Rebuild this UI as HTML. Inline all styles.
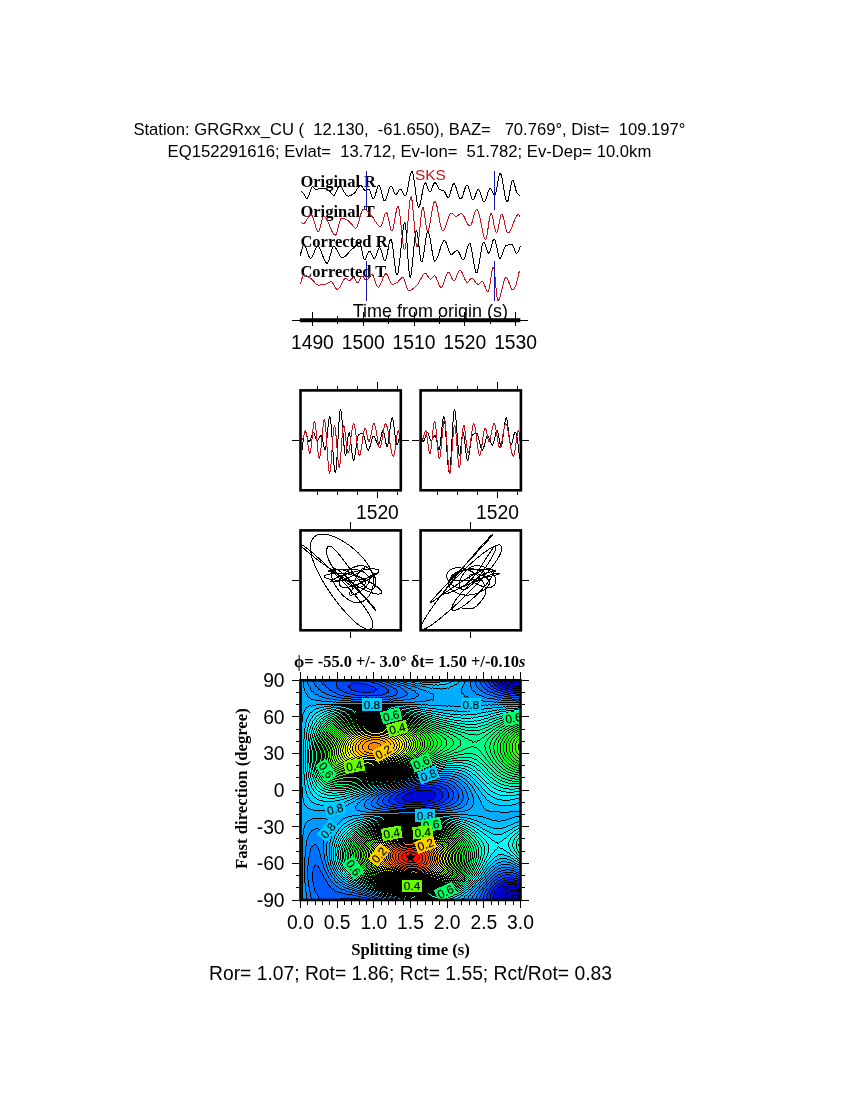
<!DOCTYPE html>
<html lang="en"><head><meta charset="utf-8"><title>Shear-wave splitting measurement GRGRxx_CU EQ152291616</title>
<style>html,body{margin:0;padding:0;background:#fff}svg{display:block}text{white-space:pre}</style></head>
<body><svg width="850" height="1100" viewBox="0 0 850 1100">
<rect width="850" height="1100" fill="#fff"/>
<text x="133.4" y="134.7" font-family='"Liberation Sans", Arial, Helvetica, sans-serif' font-size="16.6" font-weight="normal" text-anchor="start" fill="#000" xml:space="preserve" textLength="552" lengthAdjust="spacingAndGlyphs">Station: GRGRxx_CU (  12.130,  -61.650), BAZ=   70.769°, Dist=  109.197°</text>
<text x="167.6" y="157.0" font-family='"Liberation Sans", Arial, Helvetica, sans-serif' font-size="16.6" font-weight="normal" text-anchor="start" fill="#000" xml:space="preserve" textLength="483.7" lengthAdjust="spacingAndGlyphs">EQ152291616; Evlat=  13.712, Ev-lon=  51.782; Ev-Dep= 10.0km</text>
<text x="300.4" y="186.5" font-family='"Liberation Serif", "Times New Roman", Times, serif' font-size="16.5" font-weight="bold" text-anchor="start" fill="#000" xml:space="preserve" >Original R</text>
<text x="300.4" y="216.5" font-family='"Liberation Serif", "Times New Roman", Times, serif' font-size="16.5" font-weight="bold" text-anchor="start" fill="#000" xml:space="preserve" >Original T</text>
<text x="300.4" y="246.5" font-family='"Liberation Serif", "Times New Roman", Times, serif' font-size="16.5" font-weight="bold" text-anchor="start" fill="#000" xml:space="preserve" >Corrected R</text>
<text x="300.4" y="276.5" font-family='"Liberation Serif", "Times New Roman", Times, serif' font-size="16.5" font-weight="bold" text-anchor="start" fill="#000" xml:space="preserve" >Corrected T</text>
<text x="415" y="179.6" font-family='"Liberation Sans", Arial, Helvetica, sans-serif' font-size="15.4" font-weight="normal" text-anchor="start" fill="#c8141e" xml:space="preserve" >SKS</text>
<path d="M300.6 191.3 L301.1 191.5 L301.6 191.7 L302.1 192.1 L302.6 192.5 L303.1 192.9 L303.6 193.4 L304.1 194.3 L304.6 195.3 L305.1 196.5 L305.6 197.6 L306.1 198.4 L306.6 198.8 L307.1 198.6 L307.6 198.0 L308.1 197.1 L308.6 195.9 L309.1 194.5 L309.6 193.0 L310.1 191.4 L310.6 190.0 L311.1 188.7 L311.6 187.7 L312.1 187.0 L312.6 186.8 L313.1 187.0 L313.6 187.4 L314.1 187.9 L314.6 188.5 L315.1 189.0 L315.6 189.4 L316.1 189.6 L316.6 189.5 L317.1 189.4 L317.6 189.2 L318.1 189.0 L318.6 188.7 L319.1 188.5 L319.6 188.3 L320.1 188.2 L320.6 188.2 L321.1 188.2 L321.6 188.3 L322.1 188.3 L322.6 188.4 L323.1 188.5 L323.6 188.5 L324.1 188.6 L324.6 188.7 L325.1 188.9 L325.6 189.0 L326.1 189.1 L326.6 189.3 L327.1 189.5 L327.6 189.7 L328.1 190.0 L328.6 190.3 L329.1 190.6 L329.6 191.1 L330.1 191.6 L330.6 192.3 L331.1 192.9 L331.6 193.6 L332.1 194.2 L332.6 194.7 L333.1 195.1 L333.6 195.3 L334.1 195.2 L334.6 194.8 L335.1 194.0 L335.6 193.1 L336.1 191.9 L336.6 190.7 L337.1 189.5 L337.6 188.3 L338.1 187.4 L338.6 186.6 L339.1 186.2 L339.6 186.1 L340.1 186.3 L340.6 186.6 L341.1 187.1 L341.6 187.7 L342.1 188.5 L342.6 189.3 L343.1 190.1 L343.6 191.0 L344.1 191.8 L344.6 192.7 L345.1 193.5 L345.6 194.2 L346.1 194.9 L346.6 195.4 L347.1 195.8 L347.6 196.0 L348.1 196.0 L348.6 196.0 L349.1 195.9 L349.6 195.7 L350.1 195.6 L350.6 195.4 L351.1 195.2 L351.6 194.9 L352.1 194.7 L352.6 194.4 L353.1 194.1 L353.6 193.8 L354.1 193.4 L354.6 192.9 L355.1 192.3 L355.6 191.5 L356.1 190.7 L356.6 189.9 L357.1 189.1 L357.6 188.3 L358.1 187.5 L358.6 186.8 L359.1 186.2 L359.6 185.8 L360.1 185.5 L360.6 185.4 L361.1 185.5 L361.6 186.0 L362.1 186.5 L362.6 187.3 L363.1 188.0 L363.6 188.8 L364.1 189.5 L364.6 190.0 L365.1 190.4 L365.6 190.5 L366.1 190.4 L366.6 190.3 L367.1 190.1 L367.6 189.9 L368.1 189.7 L368.6 189.5 L369.1 189.5 L369.6 190.0 L370.1 191.0 L370.6 192.4 L371.1 194.0 L371.6 195.6 L372.1 197.0 L372.6 198.1 L373.1 198.7 L373.6 198.7 L374.1 198.1 L374.6 197.0 L375.1 195.5 L375.6 193.9 L376.1 192.1 L376.6 190.3 L377.1 188.7 L377.6 187.2 L378.1 186.1 L378.6 185.5 L379.1 185.5 L379.6 186.0 L380.1 187.2 L380.6 188.7 L381.1 190.5 L381.6 192.5 L382.1 194.6 L382.6 196.5 L383.1 198.2 L383.6 199.6 L384.1 200.6 L384.6 200.9 L385.1 200.6 L385.6 199.9 L386.1 198.8 L386.6 197.4 L387.1 195.8 L387.6 194.0 L388.1 192.3 L388.6 190.6 L389.1 189.0 L389.6 187.7 L390.1 186.8 L390.6 186.2 L391.1 186.1 L391.6 186.6 L392.1 187.3 L392.6 188.4 L393.1 189.6 L393.6 190.9 L394.1 192.1 L394.6 193.2 L395.1 194.0 L395.6 194.5 L396.1 194.6 L396.6 194.2 L397.1 193.5 L397.6 192.6 L398.1 191.5 L398.6 190.6 L399.1 189.7 L399.6 189.1 L400.1 188.9 L400.6 189.1 L401.1 189.6 L401.6 190.4 L402.1 191.3 L402.6 192.3 L403.1 193.4 L403.6 194.3 L404.1 195.2 L404.6 195.7 L405.1 196.0 L405.6 195.7 L406.1 194.8 L406.6 193.2 L407.1 191.2 L407.6 188.8 L408.1 186.2 L408.6 183.5 L409.1 180.8 L409.6 178.2 L410.1 175.9 L410.6 173.9 L411.1 172.5 L411.6 171.6 L412.1 171.6 L412.6 172.6 L413.1 174.4 L413.6 177.1 L414.1 180.3 L414.6 183.9 L415.1 187.7 L415.6 191.6 L416.1 195.5 L416.6 199.0 L417.1 202.1 L417.6 204.6 L418.1 206.3 L418.6 207.1 L419.1 206.8 L419.6 205.8 L420.1 204.2 L420.6 202.0 L421.1 199.5 L421.6 196.8 L422.1 194.0 L422.6 191.2 L423.1 188.6 L423.6 186.3 L424.1 184.5 L424.6 183.2 L425.1 182.6 L425.6 182.8 L426.1 183.5 L426.6 184.7 L427.1 186.1 L427.6 187.7 L428.1 189.2 L428.6 190.5 L429.1 191.5 L429.6 192.0 L430.1 192.0 L430.6 191.5 L431.1 190.6 L431.6 189.4 L432.1 188.0 L432.6 186.7 L433.1 185.3 L433.6 184.1 L434.1 183.2 L434.6 182.7 L435.1 182.6 L435.6 183.0 L436.1 183.6 L436.6 184.5 L437.1 185.5 L437.6 186.5 L438.1 187.5 L438.6 188.5 L439.1 189.2 L439.6 189.7 L440.1 189.9 L440.6 190.0 L441.1 190.1 L441.6 190.2 L442.1 190.3 L442.6 190.3 L443.1 190.4 L443.6 190.6 L444.1 191.0 L444.6 191.7 L445.1 192.6 L445.6 193.6 L446.1 194.7 L446.6 195.7 L447.1 196.6 L447.6 197.2 L448.1 197.5 L448.6 197.3 L449.1 196.5 L449.6 195.3 L450.1 193.8 L450.6 192.1 L451.1 190.2 L451.6 188.4 L452.1 186.7 L452.6 185.3 L453.1 184.3 L453.6 183.8 L454.1 183.8 L454.6 184.3 L455.1 185.1 L455.6 186.3 L456.1 187.7 L456.6 189.2 L457.1 190.9 L457.6 192.5 L458.1 194.1 L458.6 195.6 L459.1 196.9 L459.6 198.0 L460.1 198.7 L460.6 199.0 L461.1 198.8 L461.6 198.2 L462.1 197.3 L462.6 196.0 L463.1 194.5 L463.6 192.9 L464.1 191.3 L464.6 189.7 L465.1 188.2 L465.6 186.9 L466.1 186.0 L466.6 185.4 L467.1 185.2 L467.6 185.6 L468.1 186.5 L468.6 187.7 L469.1 189.2 L469.6 190.9 L470.1 192.7 L470.6 194.5 L471.1 196.1 L471.6 197.6 L472.1 198.8 L472.6 199.5 L473.1 199.8 L473.6 199.5 L474.1 198.8 L474.6 197.6 L475.1 196.3 L475.6 194.8 L476.1 193.2 L476.6 191.8 L477.1 190.5 L477.6 189.6 L478.1 189.1 L478.6 189.2 L479.1 189.8 L479.6 190.8 L480.1 192.1 L480.6 193.6 L481.1 195.3 L481.6 196.9 L482.1 198.5 L482.6 199.9 L483.1 201.1 L483.6 201.8 L484.1 202.1 L484.6 201.8 L485.1 201.1 L485.6 200.0 L486.1 198.6 L486.6 197.0 L487.1 195.4 L487.6 193.7 L488.1 192.1 L488.6 190.7 L489.1 189.5 L489.6 188.7 L490.1 188.3 L490.6 188.4 L491.1 189.0 L491.6 189.8 L492.1 190.9 L492.6 192.0 L493.1 193.1 L493.6 194.0 L494.1 194.8 L494.6 195.2 L495.1 195.0 L495.6 193.9 L496.1 192.0 L496.6 189.6 L497.1 186.7 L497.6 183.7 L498.1 180.8 L498.6 178.1 L499.1 175.8 L499.6 174.2 L500.1 173.5 L500.6 173.8 L501.1 174.8 L501.6 176.6 L502.1 178.8 L502.6 181.5 L503.1 184.4 L503.6 187.5 L504.1 190.6 L504.6 193.6 L505.1 196.3 L505.6 198.6 L506.1 200.5 L506.6 201.7 L507.1 202.1 L507.6 201.6 L508.1 200.3 L508.6 198.2 L509.1 195.7 L509.6 192.9 L510.1 190.0 L510.6 187.1 L511.1 184.5 L511.6 182.4 L512.1 180.9 L512.6 180.2 L513.1 180.5 L513.6 181.4 L514.1 183.0 L514.6 184.8 L515.1 186.9 L515.6 188.9 L516.1 190.8 L516.6 192.2 L517.1 193.1 L517.6 193.8 L518.1 194.4 L518.6 194.9 L519.1 195.3 L519.6 195.5" fill="none" stroke="#000" stroke-width="1.0" stroke-linejoin="round" shape-rendering="crispEdges" />
<path d="M300.6 222.5 L301.1 222.8 L301.6 222.9 L302.1 223.1 L302.6 223.1 L303.1 223.2 L303.6 223.2 L304.1 223.2 L304.6 223.0 L305.1 222.5 L305.6 221.7 L306.1 220.8 L306.6 219.9 L307.1 219.0 L307.6 218.4 L308.1 217.7 L308.6 217.1 L309.1 216.4 L309.6 215.8 L310.1 215.3 L310.6 215.0 L311.1 214.8 L311.6 215.0 L312.1 215.6 L312.6 216.6 L313.1 217.9 L313.6 219.4 L314.1 221.1 L314.6 222.9 L315.1 224.7 L315.6 226.4 L316.1 228.0 L316.6 229.5 L317.1 230.6 L317.6 231.3 L318.1 231.7 L318.6 231.5 L319.1 230.7 L319.6 229.4 L320.1 227.7 L320.6 225.8 L321.1 223.7 L321.6 221.7 L322.1 219.9 L322.6 218.3 L323.1 217.0 L323.6 216.3 L324.1 216.2 L324.6 216.4 L325.1 216.8 L325.6 217.4 L326.1 218.1 L326.6 218.9 L327.1 219.9 L327.6 221.0 L328.1 222.1 L328.6 223.3 L329.1 224.6 L329.6 225.8 L330.1 227.1 L330.6 228.3 L331.1 229.5 L331.6 230.6 L332.1 231.7 L332.6 232.6 L333.1 233.5 L333.6 234.2 L334.1 234.7 L334.6 235.0 L335.1 235.2 L335.6 235.0 L336.1 234.3 L336.6 233.1 L337.1 231.5 L337.6 229.7 L338.1 227.8 L338.6 225.7 L339.1 223.8 L339.6 222.0 L340.1 220.4 L340.6 219.2 L341.1 218.5 L341.6 218.3 L342.1 218.3 L342.6 218.4 L343.1 218.5 L343.6 218.6 L344.1 218.8 L344.6 218.9 L345.1 219.1 L345.6 219.3 L346.1 219.5 L346.6 219.7 L347.1 220.0 L347.6 220.4 L348.1 220.8 L348.6 221.2 L349.1 221.7 L349.6 222.2 L350.1 222.6 L350.6 223.1 L351.1 223.6 L351.6 224.2 L352.1 224.8 L352.6 225.5 L353.1 226.1 L353.6 226.8 L354.1 227.3 L354.6 227.8 L355.1 228.1 L355.6 228.2 L356.1 228.1 L356.6 227.5 L357.1 226.5 L357.6 225.3 L358.1 223.8 L358.6 222.1 L359.1 220.3 L359.6 218.5 L360.1 216.6 L360.6 214.8 L361.1 213.2 L361.6 211.7 L362.1 210.5 L362.6 209.7 L363.1 209.2 L363.6 209.1 L364.1 209.2 L364.6 209.3 L365.1 209.6 L365.6 209.9 L366.1 210.2 L366.6 210.6 L367.1 211.1 L367.6 211.5 L368.1 212.0 L368.6 212.6 L369.1 213.1 L369.6 213.7 L370.1 214.3 L370.6 214.8 L371.1 215.4 L371.6 215.9 L372.1 216.4 L372.6 217.0 L373.1 217.7 L373.6 218.4 L374.1 219.2 L374.6 220.0 L375.1 220.8 L375.6 221.7 L376.1 222.5 L376.6 223.3 L377.1 224.0 L377.6 224.7 L378.1 225.3 L378.6 225.9 L379.1 226.3 L379.6 226.6 L380.1 226.8 L380.6 226.8 L381.1 226.2 L381.6 225.3 L382.1 223.9 L382.6 222.3 L383.1 220.6 L383.6 218.8 L384.1 217.1 L384.6 215.5 L385.1 214.1 L385.6 213.2 L386.1 212.6 L386.6 212.8 L387.1 213.6 L387.6 215.1 L388.1 217.1 L388.6 219.4 L389.1 221.8 L389.6 224.2 L390.1 226.5 L390.6 228.5 L391.1 230.0 L391.6 230.8 L392.1 230.9 L392.6 230.1 L393.1 228.5 L393.6 226.3 L394.1 223.7 L394.6 220.8 L395.1 217.7 L395.6 214.8 L396.1 212.0 L396.6 209.6 L397.1 207.8 L397.6 206.6 L398.1 206.3 L398.6 207.3 L399.1 209.5 L399.6 212.8 L400.1 216.8 L400.6 221.3 L401.1 226.2 L401.6 231.1 L402.1 235.9 L402.6 240.4 L403.1 244.3 L403.6 247.3 L404.1 249.3 L404.6 250.0 L405.1 249.1 L405.6 246.5 L406.1 242.6 L406.6 237.6 L407.1 232.0 L407.6 225.8 L408.1 219.6 L408.6 213.6 L409.1 208.0 L409.6 203.2 L410.1 199.6 L410.6 197.3 L411.1 196.7 L411.6 198.1 L412.1 201.0 L412.6 205.3 L413.1 210.5 L413.6 216.4 L414.1 222.5 L414.6 228.6 L415.1 234.4 L415.6 239.5 L416.1 243.5 L416.6 246.1 L417.1 247.1 L417.6 246.3 L418.1 244.0 L418.6 240.5 L419.1 236.2 L419.6 231.3 L420.1 226.2 L420.6 221.2 L421.1 216.5 L421.6 212.5 L422.1 209.5 L422.6 207.7 L423.1 207.5 L423.6 208.9 L424.1 211.4 L424.6 214.7 L425.1 218.5 L425.6 222.3 L426.1 225.9 L426.6 228.7 L427.1 230.6 L427.6 231.1 L428.1 230.5 L428.6 229.3 L429.1 227.5 L429.6 225.3 L430.1 222.6 L430.6 219.8 L431.1 216.8 L431.6 213.8 L432.1 210.9 L432.6 208.1 L433.1 205.7 L433.6 203.7 L434.1 202.3 L434.6 201.4 L435.1 201.4 L435.6 202.0 L436.1 203.2 L436.6 204.8 L437.1 206.9 L437.6 209.4 L438.1 212.0 L438.6 214.8 L439.1 217.6 L439.6 220.4 L440.1 223.0 L440.6 225.5 L441.1 227.6 L441.6 229.2 L442.1 230.4 L442.6 231.0 L443.1 231.0 L443.6 230.6 L444.1 229.9 L444.6 229.0 L445.1 227.8 L445.6 226.5 L446.1 225.0 L446.6 223.4 L447.1 221.8 L447.6 220.2 L448.1 218.7 L448.6 217.3 L449.1 216.0 L449.6 214.9 L450.1 214.0 L450.6 213.5 L451.1 213.2 L451.6 213.3 L452.1 213.5 L452.6 213.9 L453.1 214.3 L453.6 214.9 L454.1 215.3 L454.6 215.8 L455.1 216.1 L455.6 216.3 L456.1 216.3 L456.6 216.1 L457.1 215.9 L457.6 215.6 L458.1 215.2 L458.6 214.8 L459.1 214.4 L459.6 214.1 L460.1 213.8 L460.6 213.6 L461.1 213.5 L461.6 213.6 L462.1 213.9 L462.6 214.4 L463.1 215.0 L463.6 215.8 L464.1 216.7 L464.6 217.7 L465.1 218.7 L465.6 219.8 L466.1 220.9 L466.6 221.9 L467.1 222.9 L467.6 223.8 L468.1 224.6 L468.6 225.2 L469.1 225.7 L469.6 226.0 L470.1 226.1 L470.6 225.7 L471.1 224.9 L471.6 223.7 L472.1 222.3 L472.6 220.6 L473.1 218.8 L473.6 216.9 L474.1 215.1 L474.6 213.4 L475.1 211.8 L475.6 210.6 L476.1 209.7 L476.6 209.2 L477.1 209.3 L477.6 209.9 L478.1 211.0 L478.6 212.5 L479.1 214.3 L479.6 216.5 L480.1 218.8 L480.6 221.3 L481.1 223.8 L481.6 226.4 L482.1 228.9 L482.6 231.3 L483.1 233.6 L483.6 235.5 L484.1 237.2 L484.6 238.4 L485.1 239.2 L485.6 239.5 L486.1 238.9 L486.6 237.2 L487.1 234.6 L487.6 231.4 L488.1 227.9 L488.6 224.3 L489.1 220.9 L489.6 217.8 L490.1 215.4 L490.6 213.9 L491.1 213.5 L491.6 214.2 L492.1 215.6 L492.6 217.5 L493.1 219.9 L493.6 222.5 L494.1 225.2 L494.6 227.6 L495.1 229.8 L495.6 231.5 L496.1 232.4 L496.6 232.5 L497.1 231.7 L497.6 230.2 L498.1 228.2 L498.6 225.8 L499.1 223.2 L499.6 220.6 L500.1 218.3 L500.6 216.3 L501.1 215.0 L501.6 214.3 L502.1 214.5 L502.6 215.4 L503.1 216.8 L503.6 218.6 L504.1 220.7 L504.6 223.0 L505.1 225.3 L505.6 227.5 L506.1 229.5 L506.6 231.2 L507.1 232.4 L507.6 233.0 L508.1 233.1 L508.6 232.8 L509.1 232.3 L509.6 231.7 L510.1 230.9 L510.6 229.9 L511.1 228.8 L511.6 227.7 L512.1 226.4 L512.6 225.1 L513.1 223.8 L513.6 222.5 L514.1 221.2 L514.6 220.0 L515.1 218.8 L515.6 217.7 L516.1 216.7 L516.6 215.9 L517.1 215.2 L517.6 214.7 L518.1 214.4 L518.6 214.3 L519.1 215.6 L519.6 217.4" fill="none" stroke="#c8141e" stroke-width="1.0" stroke-linejoin="round" shape-rendering="crispEdges" />
<path d="M300.2 256.2 L300.7 253.9 L301.2 251.7 L301.7 249.8 L302.2 248.1 L302.7 246.7 L303.2 245.7 L303.7 245.1 L304.2 244.9 L304.7 245.2 L305.2 246.0 L305.7 247.0 L306.2 248.3 L306.7 249.7 L307.2 251.3 L307.7 252.8 L308.2 254.4 L308.7 255.7 L309.2 256.9 L309.7 257.7 L310.2 258.2 L310.7 258.3 L311.2 258.0 L311.7 257.4 L312.2 256.7 L312.7 255.7 L313.2 254.7 L313.7 253.5 L314.2 252.3 L314.7 251.1 L315.2 249.9 L315.7 248.9 L316.2 248.0 L316.7 247.2 L317.2 246.7 L317.7 246.5 L318.2 246.6 L318.7 246.9 L319.2 247.5 L319.7 248.3 L320.2 249.3 L320.7 250.4 L321.2 251.7 L321.7 253.0 L322.2 254.3 L322.7 255.7 L323.2 257.0 L323.7 258.3 L324.2 259.5 L324.7 260.6 L325.2 261.5 L325.7 262.3 L326.2 262.8 L326.7 263.1 L327.2 263.2 L327.7 262.7 L328.2 261.8 L328.7 260.6 L329.2 259.1 L329.7 257.4 L330.2 255.6 L330.7 253.7 L331.2 252.0 L331.7 250.3 L332.2 248.8 L332.7 247.7 L333.2 246.9 L333.7 246.5 L334.2 246.6 L334.7 246.9 L335.2 247.3 L335.7 247.9 L336.2 248.7 L336.7 249.6 L337.2 250.5 L337.7 251.5 L338.2 252.4 L338.7 253.4 L339.2 254.4 L339.7 255.2 L340.2 256.0 L340.7 256.7 L341.2 257.2 L341.7 257.5 L342.2 257.6 L342.7 257.6 L343.2 257.4 L343.7 257.2 L344.2 257.0 L344.7 256.6 L345.2 256.2 L345.7 255.8 L346.2 255.3 L346.7 254.8 L347.2 254.3 L347.7 253.7 L348.2 253.1 L348.7 252.6 L349.2 252.0 L349.7 251.4 L350.2 250.9 L350.7 250.4 L351.2 249.9 L351.7 249.4 L352.2 249.0 L352.7 248.6 L353.2 248.2 L353.7 247.7 L354.2 247.2 L354.7 246.7 L355.2 246.3 L355.7 245.8 L356.2 245.4 L356.7 245.0 L357.2 244.6 L357.7 244.2 L358.2 244.0 L358.7 243.7 L359.2 243.6 L359.7 243.5 L360.2 243.7 L360.7 244.8 L361.2 246.7 L361.7 249.0 L362.2 251.6 L362.7 254.2 L363.2 256.5 L363.7 258.4 L364.2 259.5 L364.7 259.7 L365.2 259.2 L365.7 258.4 L366.2 257.3 L366.7 256.0 L367.2 254.7 L367.7 253.4 L368.2 252.3 L368.7 251.6 L369.2 251.2 L369.7 251.3 L370.2 251.8 L370.7 252.6 L371.2 253.5 L371.7 254.6 L372.2 255.7 L372.7 256.8 L373.2 257.6 L373.7 258.3 L374.2 258.7 L374.7 258.6 L375.2 258.0 L375.7 257.0 L376.2 255.8 L376.7 254.3 L377.2 252.7 L377.7 251.2 L378.2 249.8 L378.7 248.7 L379.2 248.0 L379.7 247.7 L380.2 248.0 L380.7 249.0 L381.2 250.4 L381.7 252.1 L382.2 254.0 L382.7 255.9 L383.2 257.7 L383.7 259.3 L384.2 260.4 L384.7 261.0 L385.2 260.9 L385.7 260.0 L386.2 258.5 L386.7 256.4 L387.2 253.9 L387.7 251.2 L388.2 248.5 L388.7 245.9 L389.2 243.5 L389.7 241.5 L390.2 240.0 L390.7 239.3 L391.2 239.5 L391.7 240.9 L392.2 243.4 L392.7 246.8 L393.2 250.7 L393.7 255.0 L394.2 259.4 L394.7 263.7 L395.2 267.6 L395.7 271.0 L396.2 273.5 L396.7 274.9 L397.2 275.1 L397.7 274.0 L398.2 271.8 L398.7 268.8 L399.2 265.0 L399.7 260.6 L400.2 255.8 L400.7 250.8 L401.2 245.8 L401.7 240.8 L402.2 236.1 L402.7 231.8 L403.2 228.2 L403.7 225.3 L404.2 223.3 L404.7 222.4 L405.2 223.3 L405.7 226.6 L406.2 231.9 L406.7 238.6 L407.2 246.1 L407.7 253.9 L408.2 261.4 L408.7 268.1 L409.2 273.4 L409.7 276.7 L410.2 277.6 L410.7 276.4 L411.2 273.8 L411.7 270.0 L412.2 265.4 L412.7 260.2 L413.2 254.7 L413.7 249.1 L414.2 243.8 L414.7 239.0 L415.2 235.1 L415.7 232.2 L416.2 230.7 L416.7 230.9 L417.2 232.6 L417.7 235.5 L418.2 239.3 L418.7 243.6 L419.2 248.1 L419.7 252.4 L420.2 256.3 L420.7 259.4 L421.2 261.4 L421.7 261.9 L422.2 261.1 L422.7 259.4 L423.2 257.0 L423.7 254.0 L424.2 250.6 L424.7 247.1 L425.2 243.5 L425.7 240.0 L426.2 236.9 L426.7 234.4 L427.2 232.5 L427.7 231.6 L428.2 231.7 L428.7 232.6 L429.2 234.3 L429.7 236.5 L430.2 239.2 L430.7 242.2 L431.2 245.3 L431.7 248.5 L432.2 251.7 L432.7 254.5 L433.2 257.1 L433.7 259.1 L434.2 260.5 L434.7 261.1 L435.2 261.0 L435.7 260.6 L436.2 259.9 L436.7 259.0 L437.2 257.9 L437.7 256.6 L438.2 255.2 L438.7 253.7 L439.2 252.1 L439.7 250.5 L440.2 248.9 L440.7 247.3 L441.2 245.8 L441.7 244.5 L442.2 243.2 L442.7 242.2 L443.2 241.4 L443.7 240.8 L444.2 240.5 L444.7 240.6 L445.2 241.0 L445.7 241.8 L446.2 242.9 L446.7 244.1 L447.2 245.5 L447.7 247.0 L448.2 248.6 L448.7 250.0 L449.2 251.4 L449.7 252.6 L450.2 253.5 L450.7 254.2 L451.2 254.5 L451.7 254.4 L452.2 254.2 L452.7 253.9 L453.2 253.5 L453.7 253.0 L454.2 252.5 L454.7 252.0 L455.2 251.5 L455.7 251.1 L456.2 250.7 L456.7 250.5 L457.2 250.4 L457.7 250.6 L458.2 251.1 L458.7 251.8 L459.2 252.8 L459.7 253.8 L460.2 255.0 L460.7 256.1 L461.2 257.2 L461.7 258.2 L462.2 259.0 L462.7 259.5 L463.2 259.8 L463.7 259.6 L464.2 258.9 L464.7 257.7 L465.2 256.2 L465.7 254.4 L466.2 252.5 L466.7 250.6 L467.2 248.7 L467.7 246.9 L468.2 245.4 L468.7 244.2 L469.2 243.5 L469.7 243.3 L470.2 243.9 L470.7 245.3 L471.2 247.4 L471.7 249.9 L472.2 252.8 L472.7 255.9 L473.2 259.1 L473.7 262.3 L474.2 265.3 L474.7 268.0 L475.2 270.2 L475.7 271.9 L476.2 272.8 L476.7 272.9 L477.2 272.2 L477.7 270.7 L478.2 268.5 L478.7 266.0 L479.2 263.0 L479.7 259.9 L480.2 256.6 L480.7 253.4 L481.2 250.4 L481.7 247.6 L482.2 245.3 L482.7 243.6 L483.2 242.5 L483.7 242.2 L484.2 242.6 L484.7 243.5 L485.2 244.7 L485.7 246.1 L486.2 247.7 L486.7 249.3 L487.2 250.7 L487.7 251.9 L488.2 252.8 L488.7 253.2 L489.2 253.0 L489.7 252.1 L490.2 250.7 L490.7 249.0 L491.2 247.1 L491.7 245.0 L492.2 243.1 L492.7 241.4 L493.2 240.0 L493.7 239.1 L494.2 238.9 L494.7 239.5 L495.2 240.7 L495.7 242.4 L496.2 244.5 L496.7 246.8 L497.2 249.3 L497.7 251.7 L498.2 253.9 L498.7 255.8 L499.2 257.2 L499.7 258.1 L500.2 258.2 L500.7 257.8 L501.2 257.0 L501.7 255.9 L502.2 254.6 L502.7 253.1 L503.2 251.6 L503.7 250.1 L504.2 248.7 L504.7 247.4 L505.2 246.4 L505.7 245.8 L506.2 245.5 L506.7 245.3 L507.2 245.2 L507.7 245.1 L508.2 245.0 L508.7 244.9 L509.2 244.8 L509.7 244.7 L510.2 244.7 L510.7 244.6 L511.2 244.6 L511.7 244.6 L512.2 244.7 L512.7 245.3 L513.2 246.3 L513.7 247.5 L514.2 248.9 L514.7 250.3 L515.2 251.5 L515.7 252.5 L516.2 253.1 L516.7 253.2 L517.2 252.9 L517.7 252.4 L518.2 251.6 L518.7 250.5 L519.2 249.2 L519.7 247.7 L520.1 246.3" fill="none" stroke="#000" stroke-width="1.0" stroke-linejoin="round" shape-rendering="crispEdges" />
<path d="M300.2 284.4 L300.7 282.7 L301.2 281.0 L301.7 279.4 L302.2 278.0 L302.7 276.8 L303.2 275.9 L303.7 275.3 L304.2 275.2 L304.7 275.2 L305.2 275.3 L305.7 275.5 L306.2 275.7 L306.7 275.9 L307.2 276.2 L307.7 276.5 L308.2 276.8 L308.7 277.1 L309.2 277.4 L309.7 277.8 L310.2 278.1 L310.7 278.5 L311.2 278.8 L311.7 279.2 L312.2 279.6 L312.7 280.1 L313.2 280.7 L313.7 281.3 L314.2 281.9 L314.7 282.5 L315.2 283.1 L315.7 283.6 L316.2 284.1 L316.7 284.5 L317.2 284.8 L317.7 285.0 L318.2 285.1 L318.7 285.1 L319.2 285.1 L319.7 285.0 L320.2 285.0 L320.7 284.9 L321.2 284.9 L321.7 284.8 L322.2 284.7 L322.7 284.6 L323.2 284.5 L323.7 284.4 L324.2 284.3 L324.7 284.2 L325.2 284.1 L325.7 284.0 L326.2 283.8 L326.7 283.7 L327.2 283.5 L327.7 283.2 L328.2 282.9 L328.7 282.6 L329.2 282.2 L329.7 282.0 L330.2 281.7 L330.7 281.6 L331.2 281.6 L331.7 281.9 L332.2 282.4 L332.7 283.1 L333.2 283.9 L333.7 284.8 L334.2 285.7 L334.7 286.6 L335.2 287.4 L335.7 288.2 L336.2 288.8 L336.7 289.2 L337.2 289.4 L337.7 289.3 L338.2 289.0 L338.7 288.6 L339.2 288.0 L339.7 287.2 L340.2 286.4 L340.7 285.4 L341.2 284.4 L341.7 283.5 L342.2 282.5 L342.7 281.5 L343.2 280.6 L343.7 279.8 L344.2 279.2 L344.7 278.6 L345.2 278.3 L345.7 278.1 L346.2 278.2 L346.7 278.6 L347.2 279.1 L347.7 279.7 L348.2 280.2 L348.7 280.7 L349.2 280.9 L349.7 280.8 L350.2 280.5 L350.7 280.0 L351.2 279.4 L351.7 278.8 L352.2 278.2 L352.7 277.7 L353.2 277.5 L353.7 277.4 L354.2 277.9 L354.7 278.6 L355.2 279.6 L355.7 280.6 L356.2 281.6 L356.7 282.4 L357.2 282.9 L357.7 283.0 L358.2 282.5 L358.7 281.8 L359.2 280.8 L359.7 279.6 L360.2 278.5 L360.7 277.4 L361.2 276.6 L361.7 276.1 L362.2 276.0 L362.7 276.3 L363.2 276.8 L363.7 277.5 L364.2 278.2 L364.7 279.0 L365.2 279.6 L365.7 280.0 L366.2 280.2 L366.7 280.1 L367.2 279.7 L367.7 279.2 L368.2 278.6 L368.7 277.9 L369.2 277.1 L369.7 276.4 L370.2 275.7 L370.7 275.2 L371.2 274.7 L371.7 274.5 L372.2 274.6 L372.7 275.1 L373.2 275.9 L373.7 277.0 L374.2 278.3 L374.7 279.8 L375.2 281.3 L375.7 282.8 L376.2 284.2 L376.7 285.4 L377.2 286.3 L377.7 287.0 L378.2 287.2 L378.7 287.0 L379.2 286.6 L379.7 285.9 L380.2 285.0 L380.7 284.0 L381.2 282.8 L381.7 281.5 L382.2 280.2 L382.7 279.0 L383.2 277.7 L383.7 276.6 L384.2 275.6 L384.7 274.8 L385.2 274.2 L385.7 273.9 L386.2 273.8 L386.7 274.2 L387.2 274.8 L387.7 275.6 L388.2 276.7 L388.7 277.9 L389.2 279.1 L389.7 280.3 L390.2 281.5 L390.7 282.6 L391.2 283.4 L391.7 284.0 L392.2 284.4 L392.7 284.4 L393.2 284.3 L393.7 284.2 L394.2 284.0 L394.7 283.8 L395.2 283.5 L395.7 283.2 L396.2 283.0 L396.7 282.7 L397.2 282.4 L397.7 282.0 L398.2 281.6 L398.7 281.0 L399.2 280.4 L399.7 279.8 L400.2 279.2 L400.7 278.7 L401.2 278.2 L401.7 277.8 L402.2 277.6 L402.7 277.5 L403.2 277.8 L403.7 278.5 L404.2 279.6 L404.7 280.8 L405.2 282.3 L405.7 283.8 L406.2 285.3 L406.7 286.8 L407.2 288.1 L407.7 289.2 L408.2 290.0 L408.7 290.4 L409.2 290.4 L409.7 290.3 L410.2 290.2 L410.7 290.0 L411.2 289.8 L411.7 289.5 L412.2 289.2 L412.7 288.8 L413.2 288.5 L413.7 288.1 L414.2 287.7 L414.7 287.3 L415.2 286.8 L415.7 286.4 L416.2 286.0 L416.7 285.5 L417.2 285.0 L417.7 284.3 L418.2 283.6 L418.7 282.7 L419.2 281.9 L419.7 280.9 L420.2 280.0 L420.7 279.1 L421.2 278.2 L421.7 277.3 L422.2 276.4 L422.7 275.7 L423.2 275.0 L423.7 274.4 L424.2 274.0 L424.7 273.7 L425.2 273.5 L425.7 273.6 L426.2 273.9 L426.7 274.5 L427.2 275.2 L427.7 276.0 L428.2 276.9 L428.7 277.7 L429.2 278.4 L429.7 278.9 L430.2 279.2 L430.7 279.1 L431.2 278.9 L431.7 278.4 L432.2 277.9 L432.7 277.2 L433.2 276.7 L433.7 276.2 L434.2 276.0 L434.7 275.9 L435.2 276.3 L435.7 276.9 L436.2 277.8 L436.7 278.9 L437.2 280.1 L437.7 281.4 L438.2 282.7 L438.7 284.0 L439.2 285.2 L439.7 286.2 L440.2 286.9 L440.7 287.4 L441.2 287.5 L441.7 287.2 L442.2 286.6 L442.7 285.7 L443.2 284.5 L443.7 283.2 L444.2 281.7 L444.7 280.2 L445.2 278.7 L445.7 277.2 L446.2 275.8 L446.7 274.6 L447.2 273.5 L447.7 272.8 L448.2 272.4 L448.7 272.3 L449.2 272.7 L449.7 273.4 L450.2 274.3 L450.7 275.4 L451.2 276.6 L451.7 277.8 L452.2 278.9 L452.7 279.8 L453.2 280.5 L453.7 280.9 L454.2 280.8 L454.7 280.4 L455.2 279.6 L455.7 278.7 L456.2 277.5 L456.7 276.2 L457.2 274.9 L457.7 273.6 L458.2 272.4 L458.7 271.5 L459.2 270.7 L459.7 270.3 L460.2 270.2 L460.7 270.5 L461.2 271.1 L461.7 271.8 L462.2 272.8 L462.7 273.9 L463.2 275.1 L463.7 276.4 L464.2 277.6 L464.7 278.8 L465.2 279.9 L465.7 280.9 L466.2 281.6 L466.7 282.2 L467.2 282.5 L467.7 282.4 L468.2 282.1 L468.7 281.5 L469.2 280.8 L469.7 280.1 L470.2 279.4 L470.7 278.8 L471.2 278.5 L471.7 278.4 L472.2 278.6 L472.7 278.9 L473.2 279.4 L473.7 279.9 L474.2 280.5 L474.7 281.2 L475.2 281.8 L475.7 282.5 L476.2 283.0 L476.7 283.5 L477.2 283.9 L477.7 284.1 L478.2 284.2 L478.7 284.1 L479.2 283.8 L479.7 283.4 L480.2 282.9 L480.7 282.5 L481.2 282.1 L481.7 281.8 L482.2 281.7 L482.7 281.9 L483.2 282.5 L483.7 283.3 L484.2 284.4 L484.7 285.6 L485.2 286.9 L485.7 288.2 L486.2 289.3 L486.7 290.3 L487.2 291.1 L487.7 291.5 L488.2 291.5 L488.7 290.5 L489.2 288.5 L489.7 285.8 L490.2 282.6 L490.7 279.2 L491.2 275.9 L491.7 272.7 L492.2 270.0 L492.7 268.0 L493.2 267.0 L493.7 267.3 L494.2 269.7 L494.7 273.7 L495.2 278.8 L495.7 284.3 L496.2 289.8 L496.7 294.7 L497.2 298.4 L497.7 300.4 L498.2 300.5 L498.7 300.0 L499.2 299.0 L499.7 297.7 L500.2 296.1 L500.7 294.3 L501.2 292.3 L501.7 290.2 L502.2 288.1 L502.7 286.0 L503.2 284.0 L503.7 282.1 L504.2 280.5 L504.7 279.1 L505.2 278.1 L505.7 277.5 L506.2 277.3 L506.7 277.6 L507.2 278.2 L507.7 279.2 L508.2 280.3 L508.7 281.6 L509.2 283.0 L509.7 284.5 L510.2 285.8 L510.7 287.1 L511.2 288.2 L511.7 289.1 L512.2 289.7 L512.7 289.9 L513.2 289.8 L513.7 289.4 L514.2 288.8 L514.7 288.0 L515.2 286.9 L515.7 285.6 L516.2 284.2 L516.7 282.5 L517.2 280.6 L517.7 278.6 L518.2 276.4 L518.7 274.0 L519.2 271.5 L519.3 271.0" fill="none" stroke="#c8141e" stroke-width="1.0" stroke-linejoin="round" shape-rendering="crispEdges" />
<line x1="366.5" y1="171" x2="366.5" y2="210" stroke="#1414b4" stroke-width="1"/>
<line x1="366.5" y1="261" x2="366.5" y2="301" stroke="#1414b4" stroke-width="1"/>
<line x1="494.5" y1="171" x2="494.5" y2="210" stroke="#1414b4" stroke-width="1"/>
<line x1="494.5" y1="261" x2="494.5" y2="301" stroke="#1414b4" stroke-width="1"/>
<line x1="292" y1="320.5" x2="528" y2="320.5" stroke="#000" stroke-width="1"/>
<line x1="299.8" y1="320.2" x2="520.3" y2="320.2" stroke="#000" stroke-width="4"/>
<line x1="312.5" y1="312" x2="312.5" y2="326" stroke="#000" stroke-width="1"/>
<text x="312.4" y="348.9" font-family='"Liberation Sans", Arial, Helvetica, sans-serif' font-size="19.3" font-weight="normal" text-anchor="middle" fill="#000" xml:space="preserve" >1490</text>
<line x1="337.5" y1="316" x2="337.5" y2="324" stroke="#000" stroke-width="1"/>
<line x1="363.5" y1="312" x2="363.5" y2="326" stroke="#000" stroke-width="1"/>
<text x="363.2" y="348.9" font-family='"Liberation Sans", Arial, Helvetica, sans-serif' font-size="19.3" font-weight="normal" text-anchor="middle" fill="#000" xml:space="preserve" >1500</text>
<line x1="388.5" y1="316" x2="388.5" y2="324" stroke="#000" stroke-width="1"/>
<line x1="414.5" y1="312" x2="414.5" y2="326" stroke="#000" stroke-width="1"/>
<text x="414.0" y="348.9" font-family='"Liberation Sans", Arial, Helvetica, sans-serif' font-size="19.3" font-weight="normal" text-anchor="middle" fill="#000" xml:space="preserve" >1510</text>
<line x1="439.5" y1="316" x2="439.5" y2="324" stroke="#000" stroke-width="1"/>
<line x1="464.5" y1="312" x2="464.5" y2="326" stroke="#000" stroke-width="1"/>
<text x="464.79999999999995" y="348.9" font-family='"Liberation Sans", Arial, Helvetica, sans-serif' font-size="19.3" font-weight="normal" text-anchor="middle" fill="#000" xml:space="preserve" >1520</text>
<line x1="490.5" y1="316" x2="490.5" y2="324" stroke="#000" stroke-width="1"/>
<line x1="515.5" y1="312" x2="515.5" y2="326" stroke="#000" stroke-width="1"/>
<text x="515.5999999999999" y="348.9" font-family='"Liberation Sans", Arial, Helvetica, sans-serif' font-size="19.3" font-weight="normal" text-anchor="middle" fill="#000" xml:space="preserve" >1530</text>
<text x="352.8" y="316.5" font-family='"Liberation Sans", Arial, Helvetica, sans-serif' font-size="17.85" font-weight="normal" text-anchor="start" fill="#000" xml:space="preserve" textLength="155.2" lengthAdjust="spacingAndGlyphs">Time from origin (s)</text>
<clipPath id="c0"><rect x="300.5" y="390" width="100.30000000000001" height="100"/></clipPath>
<g clip-path="url(#c0)">
<path d="M302.2 449.5 L302.7 444.8 L303.2 440.6 L303.7 437.0 L304.2 434.2 L304.7 432.5 L305.2 432.0 L305.7 432.6 L306.2 433.8 L306.7 435.3 L307.2 437.1 L307.7 438.8 L308.2 440.3 L308.7 441.2 L309.2 441.5 L309.7 441.1 L310.2 440.1 L310.7 438.9 L311.2 437.4 L311.7 435.9 L312.2 434.6 L312.7 433.5 L313.2 432.8 L313.7 432.8 L314.2 433.5 L314.7 434.8 L315.2 436.4 L315.7 438.0 L316.2 439.4 L316.7 440.4 L317.2 440.7 L317.7 440.4 L318.2 439.8 L318.7 438.9 L319.2 438.0 L319.7 437.0 L320.2 436.3 L320.7 435.7 L321.2 435.6 L321.7 436.4 L322.2 438.2 L322.7 440.5 L323.2 443.1 L323.7 445.6 L324.2 447.7 L324.7 449.1 L325.2 449.5 L325.7 448.0 L326.2 445.0 L326.7 440.7 L327.2 435.7 L327.7 430.5 L328.2 425.5 L328.7 421.2 L329.2 418.2 L329.7 416.7 L330.2 417.6 L330.7 420.7 L331.2 425.8 L331.7 432.2 L332.2 439.5 L332.7 447.2 L333.2 454.7 L333.7 461.6 L334.2 467.2 L334.7 471.2 L335.2 473.0 L335.7 472.0 L336.2 468.0 L336.7 461.8 L337.2 453.8 L337.7 445.0 L338.2 435.8 L338.7 427.1 L339.2 419.4 L339.7 413.6 L340.2 410.1 L340.7 409.7 L341.2 411.9 L341.7 416.1 L342.2 421.8 L342.7 428.3 L343.2 435.1 L343.7 441.8 L344.2 447.6 L344.7 452.2 L345.2 454.8 L345.7 455.1 L346.2 452.9 L346.7 449.2 L347.2 444.5 L347.7 439.7 L348.2 435.7 L348.7 433.2 L349.2 432.9 L349.7 434.5 L350.2 437.5 L350.7 441.4 L351.2 445.9 L351.7 450.4 L352.2 454.5 L352.7 457.9 L353.2 459.9 L353.7 460.3 L354.2 459.2 L354.7 456.9 L355.2 453.8 L355.7 450.2 L356.2 446.4 L356.7 442.6 L357.2 439.3 L357.7 436.7 L358.2 435.2 L358.7 434.7 L359.2 434.3 L359.7 434.0 L360.2 433.8 L360.7 433.5 L361.2 433.3 L361.7 433.2 L362.2 433.1 L362.7 433.1 L363.2 433.5 L363.7 434.6 L364.2 436.2 L364.7 438.2 L365.2 440.5 L365.7 442.8 L366.2 445.1 L366.7 447.1 L367.2 448.7 L367.7 449.8 L368.2 450.2 L368.7 449.9 L369.2 448.9 L369.7 447.5 L370.2 445.8 L370.7 443.9 L371.2 441.9 L371.7 440.0 L372.2 438.4 L372.7 437.1 L373.2 436.2 L373.7 436.0 L374.2 436.4 L374.7 437.2 L375.2 438.4 L375.7 439.7 L376.2 441.1 L376.7 442.5 L377.2 443.7 L377.7 444.6 L378.2 445.1 L378.7 444.9 L379.2 444.0 L379.7 442.4 L380.2 440.3 L380.7 438.0 L381.2 435.7 L381.7 433.6 L382.2 431.9 L382.7 430.8 L383.2 430.5 L383.7 431.5 L384.2 433.5 L384.7 436.1 L385.2 439.1 L385.7 442.0 L386.2 444.4 L386.7 446.1 L387.2 446.5 L387.7 445.4 L388.2 443.0 L388.7 439.7 L389.2 435.8 L389.7 431.6 L390.2 427.4 L390.7 423.6 L391.2 420.4 L391.7 418.3 L392.2 417.5 L392.7 418.4 L393.2 420.7 L393.7 424.1 L394.2 428.2 L394.7 432.6 L395.2 436.9 L395.7 440.6 L396.2 443.4 L396.7 445.0 L397.2 444.9 L397.7 443.9 L398.2 442.2 L398.7 440.1 L399.2 437.9 L399.7 435.7 L400.2 433.8 L400.7 432.5 L401.2 432.0 L401.7 432.4 L402.2 433.6 L402.7 435.6 L403.2 438.3 L403.7 441.6 L404.2 445.5 L404.7 449.9 L405.2 454.7 L405.6 458.9" fill="none" stroke="#000" stroke-width="1.0" stroke-linejoin="round" shape-rendering="crispEdges" />
<path d="M300.4 435.6 L300.9 437.4 L301.4 438.7 L301.9 439.5 L302.4 439.5 L302.9 438.6 L303.4 437.0 L303.9 435.1 L304.4 433.2 L304.9 431.7 L305.4 430.9 L305.9 431.5 L306.4 433.5 L306.9 436.5 L307.4 440.2 L307.9 444.2 L308.4 447.9 L308.9 450.9 L309.4 452.9 L309.9 453.5 L310.4 452.1 L310.9 449.1 L311.4 444.9 L311.9 440.0 L312.4 435.0 L312.9 430.1 L313.4 425.9 L313.9 422.9 L314.4 421.5 L314.9 422.2 L315.4 424.9 L315.9 429.0 L316.4 434.2 L316.9 439.8 L317.4 445.5 L317.9 450.7 L318.4 454.8 L318.9 457.5 L319.4 458.2 L319.9 456.7 L320.4 453.6 L320.9 449.2 L321.4 444.0 L321.9 438.3 L322.4 432.8 L322.9 427.7 L323.4 423.5 L323.9 420.6 L324.4 419.6 L324.9 421.0 L325.4 424.8 L325.9 430.5 L326.4 437.4 L326.9 445.0 L327.4 452.7 L327.9 460.0 L328.4 466.2 L328.9 470.8 L329.4 473.3 L329.9 473.0 L330.4 470.1 L330.9 465.2 L331.4 458.8 L331.9 451.7 L332.4 444.4 L332.9 437.5 L333.4 431.7 L333.9 427.5 L334.4 425.6 L334.9 426.3 L335.4 429.4 L335.9 434.1 L336.4 440.0 L336.9 446.4 L337.4 452.8 L337.9 458.7 L338.4 463.4 L338.9 466.5 L339.4 467.2 L339.9 465.1 L340.4 460.4 L340.9 454.1 L341.4 446.9 L341.9 439.7 L342.4 433.1 L342.9 428.1 L343.4 425.4 L343.9 425.5 L344.4 427.4 L344.9 430.8 L345.4 435.0 L345.9 439.6 L346.4 444.1 L346.9 448.2 L347.4 451.3 L347.9 452.9 L348.4 452.9 L348.9 451.5 L349.4 449.1 L349.9 445.9 L350.4 442.2 L350.9 438.3 L351.4 434.4 L351.9 430.7 L352.4 427.5 L352.9 425.1 L353.4 423.7 L353.9 423.6 L354.4 424.8 L354.9 427.0 L355.4 430.1 L355.9 433.8 L356.4 437.8 L356.9 441.9 L357.4 445.8 L357.9 449.4 L358.4 452.3 L358.9 454.3 L359.4 455.3 L359.9 454.9 L360.4 453.4 L360.9 451.0 L361.4 448.0 L361.9 444.6 L362.4 440.9 L362.9 437.3 L363.4 434.0 L363.9 431.2 L364.4 429.2 L364.9 428.1 L365.4 428.2 L365.9 429.5 L366.4 431.7 L366.9 434.2 L367.4 436.9 L367.9 439.2 L368.4 440.9 L368.9 441.5 L369.4 441.0 L369.9 439.7 L370.4 437.8 L370.9 435.4 L371.4 432.8 L371.9 430.2 L372.4 427.8 L372.9 425.7 L373.4 424.3 L373.9 423.6 L374.4 423.9 L374.9 425.2 L375.4 427.2 L375.9 429.7 L376.4 432.7 L376.9 435.8 L377.4 438.9 L377.9 441.9 L378.4 444.4 L378.9 446.4 L379.4 447.7 L379.9 448.0 L380.4 447.3 L380.9 445.7 L381.4 443.5 L381.9 440.7 L382.4 437.7 L382.9 434.5 L383.4 431.5 L383.9 428.7 L384.4 426.3 L384.9 424.6 L385.4 423.7 L385.9 423.7 L386.4 424.6 L386.9 426.1 L387.4 428.1 L387.9 430.6 L388.4 433.5 L388.9 436.5 L389.4 439.7 L389.9 442.9 L390.4 445.9 L390.9 448.8 L391.4 451.4 L391.9 453.5 L392.4 455.2 L392.9 456.1 L393.4 456.4 L393.9 455.4 L394.4 453.3 L394.9 450.4 L395.4 446.8 L395.9 443.1 L396.4 439.3 L396.9 435.9 L397.4 433.1 L397.9 431.2 L398.4 430.5 L398.9 432.3 L399.4 436.6 L399.8 440.7" fill="none" stroke="#c8141e" stroke-width="1.0" stroke-linejoin="round" shape-rendering="crispEdges" />
</g>
<rect x="300.5" y="390.4" width="100.30000000000001" height="99.90000000000003" fill="none" stroke="#000" stroke-width="2.6"/>
<line x1="317.5" y1="386" x2="317.5" y2="389" stroke="#000" stroke-width="1"/>
<line x1="317.5" y1="492" x2="317.5" y2="495" stroke="#000" stroke-width="1"/>
<line x1="337.5" y1="386" x2="337.5" y2="389" stroke="#000" stroke-width="1"/>
<line x1="337.5" y1="492" x2="337.5" y2="495" stroke="#000" stroke-width="1"/>
<line x1="357.5" y1="386" x2="357.5" y2="389" stroke="#000" stroke-width="1"/>
<line x1="357.5" y1="492" x2="357.5" y2="495" stroke="#000" stroke-width="1"/>
<line x1="377.5" y1="382" x2="377.5" y2="389" stroke="#000" stroke-width="1"/>
<line x1="377.5" y1="492" x2="377.5" y2="498" stroke="#000" stroke-width="1"/>
<line x1="397.5" y1="386" x2="397.5" y2="389" stroke="#000" stroke-width="1"/>
<line x1="397.5" y1="492" x2="397.5" y2="495" stroke="#000" stroke-width="1"/>
<line x1="292" y1="440.5" x2="299" y2="440.5" stroke="#000" stroke-width="1"/>
<line x1="402" y1="440.5" x2="409" y2="440.5" stroke="#000" stroke-width="1"/>
<text x="377.4" y="518.9" font-family='"Liberation Sans", Arial, Helvetica, sans-serif' font-size="19.3" font-weight="normal" text-anchor="middle" fill="#000" xml:space="preserve" >1520</text>
<rect x="300.5" y="530.4" width="100.30000000000001" height="99.89999999999998" fill="none" stroke="#000" stroke-width="2.6"/>
<line x1="350.5" y1="522" x2="350.5" y2="529" stroke="#000" stroke-width="1"/>
<line x1="350.5" y1="632" x2="350.5" y2="638" stroke="#000" stroke-width="1"/>
<line x1="292" y1="580.5" x2="299" y2="580.5" stroke="#000" stroke-width="1"/>
<line x1="402" y1="580.5" x2="409" y2="580.5" stroke="#000" stroke-width="1"/>
<clipPath id="c120"><rect x="420.6" y="390" width="100.29999999999995" height="100"/></clipPath>
<g clip-path="url(#c120)">
<path d="M416.2 449.5 L416.7 444.8 L417.2 440.6 L417.7 437.0 L418.2 434.2 L418.7 432.5 L419.2 432.0 L419.7 432.6 L420.2 433.8 L420.7 435.3 L421.2 437.1 L421.7 438.8 L422.2 440.3 L422.7 441.2 L423.2 441.5 L423.7 441.1 L424.2 440.1 L424.7 438.9 L425.2 437.4 L425.7 435.9 L426.2 434.6 L426.7 433.5 L427.2 432.8 L427.7 432.8 L428.2 433.5 L428.7 434.8 L429.2 436.4 L429.7 438.0 L430.2 439.4 L430.7 440.4 L431.2 440.7 L431.7 440.4 L432.2 439.8 L432.7 438.9 L433.2 438.0 L433.7 437.0 L434.2 436.3 L434.7 435.7 L435.2 435.6 L435.7 436.4 L436.2 438.2 L436.7 440.5 L437.2 443.1 L437.7 445.6 L438.2 447.7 L438.7 449.1 L439.2 449.5 L439.7 448.0 L440.2 445.0 L440.7 440.7 L441.2 435.7 L441.7 430.5 L442.2 425.5 L442.7 421.2 L443.2 418.2 L443.7 416.7 L444.2 417.6 L444.7 420.7 L445.2 425.8 L445.7 432.2 L446.2 439.5 L446.7 447.2 L447.2 454.7 L447.7 461.6 L448.2 467.2 L448.7 471.2 L449.2 473.0 L449.7 472.0 L450.2 468.0 L450.7 461.8 L451.2 453.8 L451.7 445.0 L452.2 435.8 L452.7 427.1 L453.2 419.4 L453.7 413.6 L454.2 410.1 L454.7 409.7 L455.2 411.9 L455.7 416.1 L456.2 421.8 L456.7 428.3 L457.2 435.1 L457.7 441.8 L458.2 447.6 L458.7 452.2 L459.2 454.8 L459.7 455.1 L460.2 452.9 L460.7 449.2 L461.2 444.5 L461.7 439.7 L462.2 435.7 L462.7 433.2 L463.2 432.9 L463.7 434.5 L464.2 437.5 L464.7 441.4 L465.2 445.9 L465.7 450.4 L466.2 454.5 L466.7 457.9 L467.2 459.9 L467.7 460.3 L468.2 459.2 L468.7 456.9 L469.2 453.8 L469.7 450.2 L470.2 446.4 L470.7 442.6 L471.2 439.3 L471.7 436.7 L472.2 435.2 L472.7 434.7 L473.2 434.3 L473.7 434.0 L474.2 433.8 L474.7 433.5 L475.2 433.3 L475.7 433.2 L476.2 433.1 L476.7 433.1 L477.2 433.5 L477.7 434.6 L478.2 436.2 L478.7 438.2 L479.2 440.5 L479.7 442.8 L480.2 445.1 L480.7 447.1 L481.2 448.7 L481.7 449.8 L482.2 450.2 L482.7 449.9 L483.2 448.9 L483.7 447.5 L484.2 445.8 L484.7 443.9 L485.2 441.9 L485.7 440.0 L486.2 438.4 L486.7 437.1 L487.2 436.2 L487.7 436.0 L488.2 436.4 L488.7 437.2 L489.2 438.4 L489.7 439.7 L490.2 441.1 L490.7 442.5 L491.2 443.7 L491.7 444.6 L492.2 445.1 L492.7 444.9 L493.2 444.0 L493.7 442.4 L494.2 440.3 L494.7 438.0 L495.2 435.7 L495.7 433.6 L496.2 431.9 L496.7 430.8 L497.2 430.5 L497.7 431.5 L498.2 433.5 L498.7 436.1 L499.2 439.1 L499.7 442.0 L500.2 444.4 L500.7 446.1 L501.2 446.5 L501.7 445.4 L502.2 443.0 L502.7 439.7 L503.2 435.8 L503.7 431.6 L504.2 427.4 L504.7 423.6 L505.2 420.4 L505.7 418.3 L506.2 417.5 L506.7 418.4 L507.2 420.7 L507.7 424.1 L508.2 428.2 L508.7 432.6 L509.2 436.9 L509.7 440.6 L510.2 443.4 L510.7 445.0 L511.2 444.9 L511.7 443.9 L512.2 442.2 L512.7 440.1 L513.2 437.9 L513.7 435.7 L514.2 433.8 L514.7 432.5 L515.2 432.0 L515.7 432.4 L516.2 433.6 L516.7 435.6 L517.2 438.3 L517.7 441.6 L518.2 445.5 L518.7 449.9 L519.2 454.7 L519.6 458.9" fill="none" stroke="#000" stroke-width="1.0" stroke-linejoin="round" shape-rendering="crispEdges" />
<path d="M420.5 435.6 L421.0 437.4 L421.5 438.7 L422.0 439.5 L422.5 439.5 L423.0 438.6 L423.5 437.0 L424.0 435.1 L424.5 433.2 L425.0 431.7 L425.5 430.9 L426.0 431.5 L426.5 433.5 L427.0 436.5 L427.5 440.2 L428.0 444.2 L428.5 447.9 L429.0 450.9 L429.5 452.9 L430.0 453.5 L430.5 452.1 L431.0 449.1 L431.5 444.9 L432.0 440.0 L432.5 435.0 L433.0 430.1 L433.5 425.9 L434.0 422.9 L434.5 421.5 L435.0 422.2 L435.5 424.9 L436.0 429.0 L436.5 434.2 L437.0 439.8 L437.5 445.5 L438.0 450.7 L438.5 454.8 L439.0 457.5 L439.5 458.2 L440.0 456.7 L440.5 453.6 L441.0 449.2 L441.5 444.0 L442.0 438.3 L442.5 432.8 L443.0 427.7 L443.5 423.5 L444.0 420.6 L444.5 419.6 L445.0 421.0 L445.5 424.8 L446.0 430.5 L446.5 437.4 L447.0 445.0 L447.5 452.7 L448.0 460.0 L448.5 466.2 L449.0 470.8 L449.5 473.3 L450.0 473.0 L450.5 470.1 L451.0 465.2 L451.5 458.8 L452.0 451.7 L452.5 444.4 L453.0 437.5 L453.5 431.7 L454.0 427.5 L454.5 425.6 L455.0 426.3 L455.5 429.4 L456.0 434.1 L456.5 440.0 L457.0 446.4 L457.5 452.8 L458.0 458.7 L458.5 463.4 L459.0 466.5 L459.5 467.2 L460.0 465.1 L460.5 460.4 L461.0 454.1 L461.5 446.9 L462.0 439.7 L462.5 433.1 L463.0 428.1 L463.5 425.4 L464.0 425.5 L464.5 427.4 L465.0 430.8 L465.5 435.0 L466.0 439.6 L466.5 444.1 L467.0 448.2 L467.5 451.3 L468.0 452.9 L468.5 452.9 L469.0 451.5 L469.5 449.1 L470.0 445.9 L470.5 442.2 L471.0 438.3 L471.5 434.4 L472.0 430.7 L472.5 427.5 L473.0 425.1 L473.5 423.7 L474.0 423.6 L474.5 424.8 L475.0 427.0 L475.5 430.1 L476.0 433.8 L476.5 437.8 L477.0 441.9 L477.5 445.8 L478.0 449.4 L478.5 452.3 L479.0 454.3 L479.5 455.3 L480.0 454.9 L480.5 453.4 L481.0 451.0 L481.5 448.0 L482.0 444.6 L482.5 440.9 L483.0 437.3 L483.5 434.0 L484.0 431.2 L484.5 429.2 L485.0 428.1 L485.5 428.2 L486.0 429.5 L486.5 431.7 L487.0 434.2 L487.5 436.9 L488.0 439.2 L488.5 440.9 L489.0 441.5 L489.5 441.0 L490.0 439.7 L490.5 437.8 L491.0 435.4 L491.5 432.8 L492.0 430.2 L492.5 427.8 L493.0 425.7 L493.5 424.3 L494.0 423.6 L494.5 423.9 L495.0 425.2 L495.5 427.2 L496.0 429.7 L496.5 432.7 L497.0 435.8 L497.5 438.9 L498.0 441.9 L498.5 444.4 L499.0 446.4 L499.5 447.7 L500.0 448.0 L500.5 447.3 L501.0 445.7 L501.5 443.5 L502.0 440.7 L502.5 437.7 L503.0 434.5 L503.5 431.5 L504.0 428.7 L504.5 426.3 L505.0 424.6 L505.5 423.7 L506.0 423.7 L506.5 424.6 L507.0 426.1 L507.5 428.1 L508.0 430.6 L508.5 433.5 L509.0 436.5 L509.5 439.7 L510.0 442.9 L510.5 445.9 L511.0 448.8 L511.5 451.4 L512.0 453.5 L512.5 455.2 L513.0 456.1 L513.5 456.4 L514.0 455.4 L514.5 453.3 L515.0 450.4 L515.5 446.8 L516.0 443.1 L516.5 439.3 L517.0 435.9 L517.5 433.1 L518.0 431.2 L518.5 430.5 L519.0 432.3 L519.5 436.6 L519.9 440.7" fill="none" stroke="#c8141e" stroke-width="1.0" stroke-linejoin="round" shape-rendering="crispEdges" />
</g>
<rect x="420.6" y="390.4" width="100.29999999999995" height="99.90000000000003" fill="none" stroke="#000" stroke-width="2.6"/>
<line x1="437.5" y1="386" x2="437.5" y2="389" stroke="#000" stroke-width="1"/>
<line x1="437.5" y1="492" x2="437.5" y2="495" stroke="#000" stroke-width="1"/>
<line x1="457.5" y1="386" x2="457.5" y2="389" stroke="#000" stroke-width="1"/>
<line x1="457.5" y1="492" x2="457.5" y2="495" stroke="#000" stroke-width="1"/>
<line x1="477.5" y1="386" x2="477.5" y2="389" stroke="#000" stroke-width="1"/>
<line x1="477.5" y1="492" x2="477.5" y2="495" stroke="#000" stroke-width="1"/>
<line x1="497.5" y1="382" x2="497.5" y2="389" stroke="#000" stroke-width="1"/>
<line x1="497.5" y1="492" x2="497.5" y2="498" stroke="#000" stroke-width="1"/>
<line x1="517.5" y1="386" x2="517.5" y2="389" stroke="#000" stroke-width="1"/>
<line x1="517.5" y1="492" x2="517.5" y2="495" stroke="#000" stroke-width="1"/>
<line x1="412" y1="440.5" x2="419" y2="440.5" stroke="#000" stroke-width="1"/>
<line x1="522" y1="440.5" x2="529" y2="440.5" stroke="#000" stroke-width="1"/>
<text x="497.5" y="518.9" font-family='"Liberation Sans", Arial, Helvetica, sans-serif' font-size="19.3" font-weight="normal" text-anchor="middle" fill="#000" xml:space="preserve" >1520</text>
<rect x="420.6" y="530.4" width="100.29999999999995" height="99.89999999999998" fill="none" stroke="#000" stroke-width="2.6"/>
<line x1="470.5" y1="522" x2="470.5" y2="529" stroke="#000" stroke-width="1"/>
<line x1="470.5" y1="632" x2="470.5" y2="638" stroke="#000" stroke-width="1"/>
<line x1="412" y1="580.5" x2="419" y2="580.5" stroke="#000" stroke-width="1"/>
<line x1="522" y1="580.5" x2="529" y2="580.5" stroke="#000" stroke-width="1"/>
<clipPath id="pc0"><rect x="300.5" y="530.4" width="100.3" height="99.9"/></clipPath>
<g clip-path="url(#pc0)">
<path d="M356.7 594.0 L355.6 594.0 L354.7 594.0 L353.8 594.0 L353.1 594.0 L352.6 594.0 L352.1 594.0 L351.9 594.0 L351.8 594.0 L351.9 591.2 L352.3 588.4 L352.9 585.7 L353.7 583.1 L354.7 580.7 L355.7 578.4 L356.9 576.2 L358.0 574.3 L359.2 572.5 L360.4 571.1 L361.5 569.8 L362.5 568.8 L363.3 568.2 L364.0 567.8 L364.5 567.8 L364.8 568.0 L364.8 568.4 L364.4 569.0 L363.6 569.6 L362.4 570.4 L361.0 571.3 L359.3 572.3 L357.4 573.3 L355.4 574.4 L353.1 575.5 L350.8 576.5 L348.5 577.5 L346.1 578.5 L343.8 579.4 L341.5 580.2 L339.4 580.9 L337.4 581.4 L335.6 581.8 L334.0 582.0 L332.7 582.0 L331.8 581.9 L331.2 581.6 L330.9 581.2 L331.2 580.6 L331.9 580.0 L333.1 579.3 L334.6 578.5 L336.5 577.7 L338.7 576.8 L341.2 575.9 L343.9 575.0 L346.7 574.1 L349.6 573.2 L352.7 572.4 L355.7 571.6 L358.8 570.9 L361.8 570.3 L364.7 569.7 L367.4 569.3 L370.0 569.0 L372.3 568.9 L374.3 568.9 L376.1 569.1 L377.4 569.5 L378.4 570.0 L378.9 570.7 L378.9 571.5 L378.3 572.4 L377.3 573.4 L375.8 574.4 L373.9 575.3 L371.6 576.3 L369.0 577.3 L366.2 578.2 L363.1 579.0 L359.9 579.7 L356.6 580.2 L353.1 580.6 L349.7 580.8 L346.3 580.8 L342.9 580.7 L339.7 580.5 L336.7 580.2 L333.8 579.9 L331.2 579.4 L329.0 579.0 L327.1 578.4 L325.6 577.9 L324.5 577.3 L324.0 576.7 L324.0 576.2 L324.5 575.6 L325.5 575.1 L326.9 574.6 L328.7 574.2 L330.8 573.8 L333.3 573.5 L336.0 573.3 L338.9 573.2 L342.0 573.2 L345.3 573.5 L348.6 574.1 L352.0 574.9 L355.4 575.9 L358.8 577.1 L362.1 578.4 L365.3 579.8 L368.3 581.3 L371.1 582.8 L373.7 584.4 L376.0 586.0 L378.0 587.5 L379.6 588.9 L380.8 590.2 L381.5 591.4 L381.8 592.4 L381.5 593.2 L380.4 593.7 L378.8 594.0 L376.6 594.0 L374.0 593.5 L370.9 592.5 L367.4 591.1 L363.5 589.3 L359.4 587.2 L355.1 584.8 L350.6 582.2 L346.0 579.4 L341.4 576.4 L336.7 573.4 L332.1 570.2 L327.6 567.1 L323.3 564.0 L319.2 561.0 L315.4 558.1 L311.9 555.3 L308.8 552.8 L306.1 550.6 L303.9 548.6 L302.3 547.1 L301.3 545.9 L300.9 545.1 L301.3 544.9 L302.3 545.2 L303.9 546.1 L306.1 547.7 L308.7 549.7 L311.8 552.2 L315.2 555.2 L319.0 558.5 L323.0 562.2 L327.1 566.1 L331.5 570.3 L335.8 574.6 L340.3 579.1 L344.6 583.7 L348.9 588.3 L353.0 592.9 L356.8 597.4 L360.4 601.9 L363.7 606.1 L366.6 610.2 L369.0 614.0 L370.9 617.5 L372.2 620.7 L372.9 623.4 L372.9 625.7 L372.2 627.5 L371.1 628.7 L369.3 629.4 L367.2 629.3 L364.6 628.5 L361.6 627.0 L358.4 624.7 L354.9 621.9 L351.3 618.4 L347.4 614.5 L343.6 610.2 L339.6 605.5 L335.8 600.5 L331.9 595.3 L328.3 590.0 L324.8 584.5 L321.6 579.0 L318.6 573.5 L316.0 568.2 L313.9 563.0 L312.1 558.0 L311.0 553.3 L310.3 549.0 L310.4 545.1 L311.1 541.6 L312.6 538.8 L314.7 536.5 L317.4 535.0 L320.6 534.2 L324.1 534.1 L328.0 534.8 L332.1 536.0 L336.4 537.7 L340.8 539.9 L345.2 542.6 L349.6 545.6 L353.8 548.9 L357.8 552.5 L361.5 556.3 L364.9 560.2 L367.8 564.3 L370.2 568.4 L372.0 572.5 L373.2 576.6 L373.5 580.5 L373.3 584.3 L372.6 587.9 L371.5 591.2 L370.0 594.2 L368.2 596.9 L366.2 599.1 L363.9 600.8 L361.4 602.0 L358.8 602.7 L356.0 602.7 L353.2 602.0 L350.5 600.9 L347.7 599.2 L345.0 597.2 L342.4 594.8 L340.0 592.2 L337.9 589.4 L335.9 586.5 L334.3 583.6 L333.0 580.8 L332.1 578.1 L331.6 575.6 L331.6 573.4 L331.9 571.5 L332.5 570.1 L333.5 569.2 L334.6 568.8 L336.0 569.1 L337.6 569.8 L339.4 570.8 L341.3 572.3 L343.4 574.0 L345.6 576.0 L347.9 578.2 L350.2 580.7 L352.6 583.2 L354.9 585.9 L357.3 588.6 L359.6 591.3 L361.9 594.0 L364.1 596.7 L366.2 599.2 L368.1 601.6 L369.9 603.8 L371.5 605.7 L372.9 607.4 L374.0 608.7 L375.0 609.7 L375.6 610.3 L375.9 610.4 L375.9 610.1 L375.6 609.5 L374.9 608.6 L374.0 607.4 L372.9 606.0 L371.5 604.4 L369.8 602.5 L368.0 600.6 L366.1 598.4 L363.9 596.2 L361.7 594.0 L359.4 591.7 L357.0 589.4 L354.6 587.1 L352.1 584.9 L349.6 582.7 L347.2 580.7 L344.8 578.8 L342.5 577.1 L340.3 575.6 L338.1 574.3 L336.2 573.3 L334.4 572.6 L332.7 572.2 L331.3 571.9 L330.2 571.7 L329.3 571.5 L328.6 571.3 L328.3 571.1 L328.3 570.9 L328.6 570.7 L329.2 570.6 L330.0 570.4 L331.1 570.3 L332.4 570.2 L333.8 570.0 L335.5 569.9 L337.3 569.8 L339.2 569.7 L341.2 569.7 L343.3 569.6 L345.4 569.5 L347.6 569.5 L349.8 569.5 L352.0 569.5 L354.2 569.5 L356.2 569.7 L358.3 570.0 L360.2 570.6 L362.0 571.3 L363.6 572.1 L365.1 573.1 L366.4 574.1 L367.4 575.3 L368.3 576.5 L368.9 577.8 L369.2 579.2 L369.2 580.5 L368.8 581.9 L368.2 583.3 L367.4 584.7 L366.3 586.1 L365.1 587.4 L363.7 588.7 L362.2 589.9 L360.7 591.0 L359.1 592.0 L357.5 592.9 L355.9 593.6 L354.4 594.3 L353.1 594.7 L351.8 595.0 L350.8 595.1 L349.9 595.0 L349.3 594.8 L349.0 594.4 L349.0 593.8 L349.2 593.2 L349.7 592.4 L350.3 591.5 L351.2 590.6 L352.2 589.6 L353.3 588.5 L354.6 587.4 L355.9 586.2 L357.4 585.0 L358.9 583.9 L360.4 582.7 L362.0 581.5 L363.6 580.4 L365.1 579.3 L366.7 578.3 L368.1 577.4 L369.5 576.5 L370.8 575.7 L372.0 575.1 L373.1 574.5 L374.0 574.1 L374.8 573.9 L375.3 573.8 L375.7 573.9 L375.8 574.1 L375.7 574.4 L375.3 574.8 L374.7 575.3 L373.9 575.9 L372.9 576.6 L371.7 577.3 L370.4 578.1 L369.0 578.9 L367.4 579.8 L365.7 580.6 L364.0 581.5 L362.2 582.3 L360.3 583.1 L358.4 583.9 L356.6 584.6 L354.7 585.3 L352.8 585.9 L351.0 586.4 L349.3 586.9 L347.6 587.2 L346.0 587.4 L344.6 587.5 L343.3 587.3 L342.1 587.0 L341.1 586.5 L340.3 585.8 L339.7 584.9 L339.3 583.9 L339.2 582.8 L339.3 581.6 L339.7 580.3 L340.3 578.9 L341.1 577.5 L342.1 576.2 L343.3 574.8 L344.6 573.4 L346.0 572.1 L347.6 570.8 L349.3 569.6 L351.0 568.6 L352.8 567.7 L354.7 566.9 L356.6 566.2 L358.4 565.8 L360.3 565.6 L362.2 565.6 L364.0 565.9 L365.7 566.6 L367.4 567.5 L369.0 568.6 L370.4 570.0 L371.7 571.5 L372.9 573.1 L373.9 574.9 L374.7 576.7 L375.3 578.4 L375.7 580.2 L375.8 582.0 L375.7 583.6 L375.4 585.1 L375.0 586.5 L374.3 587.6 L373.5 588.5 L372.6 589.2 L371.5 589.5 L370.3 589.5 L369.0 589.1 L367.6 588.4 L366.0 587.3 L364.4 586.0 L362.8 584.4 L361.0 582.5 L359.2 580.5 L357.4 578.3 L355.5 575.9 L353.6 573.5 L351.7 571.0 L349.8 568.4 L347.9 565.9 L346.0 563.4 L344.1 560.9 L342.3 558.5 L340.5 556.2 L338.8 554.1 L337.1 552.1 L335.6 550.4 L334.1 548.9 L332.7 547.7 L331.5 546.8 L330.3 546.2 L329.3 546.0 L328.5 546.3 L327.7 546.9 L327.2 547.9 L326.8 549.2 L326.6 550.9 L326.6 552.8 L327.0 554.9 L327.6 557.2 L328.6 559.6 L329.8 562.2 L331.2 564.8 L332.9 567.4 L334.7 570.0 L336.7 572.6 L338.8 575.1 L340.9 577.5 L343.2 579.7 L345.5 581.7 L347.7 583.5 L350.0 585.0 L352.2 586.1 L354.3 587.0 L356.4 587.4 L358.3 587.4 L360.0 587.2 L361.6 586.7 L362.9 586.1 L364.0 585.2 L364.8 584.3 L365.3 583.1 L365.4 581.9 L365.0 580.7 L363.6 579.3 L361.6 578.0 L359.1 576.6 L356.2 575.2 L353.2 573.9 L350.2 572.7 L347.3 571.5 L344.7 570.5 L342.7 569.6 L341.4 568.8" fill="none" stroke="#000" stroke-width="1.0" stroke-linejoin="round" shape-rendering="crispEdges" />
</g>
<clipPath id="pc120"><rect x="420.6" y="530.4" width="100.3" height="99.9"/></clipPath>
<g clip-path="url(#pc120)">
<path d="M476.8 572.8 L475.7 573.9 L474.8 574.9 L473.9 576.0 L473.2 577.0 L472.7 578.0 L472.2 579.0 L472.0 579.8 L471.9 580.6 L472.0 581.2 L472.4 581.7 L473.0 581.9 L473.8 582.0 L474.8 582.0 L475.8 581.7 L477.0 581.4 L478.1 580.9 L479.3 580.3 L480.5 579.6 L481.6 578.9 L482.6 578.1 L483.4 577.2 L484.1 576.3 L484.6 575.5 L484.9 574.6 L484.9 573.7 L484.5 572.8 L483.7 572.0 L482.5 571.3 L481.1 570.6 L479.4 570.0 L477.5 569.5 L475.5 569.2 L473.2 568.9 L470.9 568.9 L468.6 569.0 L466.2 569.3 L463.9 569.7 L461.6 570.4 L459.5 571.1 L457.5 572.0 L455.7 572.9 L454.1 573.9 L452.8 574.8 L451.9 575.8 L451.3 576.8 L451.1 577.7 L451.3 578.6 L452.0 579.3 L453.2 580.0 L454.7 580.4 L456.6 580.7 L458.8 580.9 L461.3 580.8 L464.0 580.6 L466.8 580.4 L469.7 580.1 L472.8 579.7 L475.8 579.2 L478.9 578.7 L481.9 578.2 L484.8 577.6 L487.5 577.0 L490.1 576.5 L492.4 575.9 L494.4 575.4 L496.2 574.9 L497.5 574.4 L498.5 574.0 L499.0 573.7 L499.0 573.4 L498.4 573.3 L497.4 573.2 L495.9 573.4 L494.0 573.8 L491.7 574.5 L489.1 575.4 L486.3 576.5 L483.2 577.7 L480.0 579.1 L476.7 580.5 L473.2 582.1 L469.8 583.6 L466.4 585.2 L463.0 586.7 L459.8 588.2 L456.8 589.5 L453.9 590.8 L451.3 591.9 L449.1 592.8 L447.2 593.5 L445.7 593.9 L444.6 594.0 L444.1 593.8 L444.1 593.0 L444.6 591.8 L445.6 590.3 L447.0 588.3 L448.8 586.1 L450.9 583.6 L453.4 580.8 L456.1 577.9 L459.0 574.9 L462.1 571.8 L465.4 568.7 L468.7 565.5 L472.1 562.5 L475.5 559.5 L478.9 556.7 L482.2 554.1 L485.4 551.7 L488.4 549.6 L491.2 547.8 L493.8 546.4 L496.1 545.4 L498.1 544.9 L499.7 544.9 L500.9 545.6 L501.6 546.8 L501.9 548.6 L501.6 550.9 L500.5 553.6 L498.9 556.8 L496.7 560.3 L494.1 564.1 L491.0 568.2 L487.5 572.4 L483.6 576.9 L479.5 581.4 L475.2 586.0 L470.7 590.6 L466.1 595.2 L461.5 599.7 L456.8 604.0 L452.2 608.2 L447.7 612.1 L443.4 615.8 L439.3 619.1 L435.5 622.1 L432.0 624.6 L428.9 626.6 L426.2 628.2 L424.0 629.1 L422.4 629.4 L421.4 629.0 L421.1 627.8 L421.4 625.9 L422.4 623.4 L424.0 620.2 L426.2 616.6 L428.8 612.4 L431.9 607.9 L435.3 603.1 L439.1 598.0 L443.1 592.7 L447.2 587.2 L451.6 581.8 L455.9 576.3 L460.4 570.8 L464.7 565.5 L469.0 560.4 L473.1 555.6 L476.9 551.1 L480.5 546.9 L483.8 543.3 L486.7 540.1 L489.1 537.6 L491.0 535.7 L492.3 534.5 L493.0 534.0 L493.0 534.4 L492.3 535.3 L491.2 536.8 L489.4 538.8 L487.3 541.2 L484.7 544.0 L481.7 547.2 L478.5 550.7 L475.0 554.4 L471.4 558.2 L467.5 562.2 L463.7 566.3 L459.7 570.5 L455.9 574.6 L452.0 578.6 L448.4 582.4 L444.9 586.1 L441.7 589.6 L438.7 592.8 L436.1 595.6 L434.0 598.0 L432.2 600.0 L431.1 601.5 L430.4 602.4 L430.5 602.8 L431.2 602.4 L432.7 601.5 L434.8 600.1 L437.5 598.2 L440.7 596.0 L444.2 593.5 L448.1 590.8 L452.2 588.0 L456.5 585.1 L460.9 582.2 L465.3 579.4 L469.7 576.8 L473.9 574.4 L477.9 572.4 L481.6 570.7 L485.0 569.6 L487.9 568.9 L490.3 568.9 L492.1 569.4 L493.3 570.2 L493.6 571.5 L493.4 573.1 L492.7 575.0 L491.6 577.1 L490.1 579.4 L488.3 581.9 L486.3 584.5 L484.0 587.2 L481.5 590.0 L478.9 592.7 L476.1 595.4 L473.3 598.0 L470.6 600.4 L467.8 602.7 L465.1 604.8 L462.5 606.6 L460.1 608.1 L458.0 609.3 L456.0 610.0 L454.4 610.4 L453.1 610.3 L452.2 609.9 L451.7 609.1 L451.7 608.1 L452.0 606.7 L452.6 605.2 L453.6 603.5 L454.7 601.6 L456.1 599.5 L457.7 597.4 L459.5 595.1 L461.4 592.8 L463.5 590.5 L465.7 588.2 L468.0 586.0 L470.3 583.8 L472.7 581.7 L475.0 579.7 L477.4 577.9 L479.7 576.3 L482.0 574.9 L484.2 573.7 L486.3 572.9 L488.2 572.3 L490.0 572.0 L491.6 571.8 L493.0 571.6 L494.1 571.4 L495.1 571.2 L495.7 571.0 L496.0 570.8 L496.0 570.7 L495.7 570.5 L495.0 570.4 L494.1 570.2 L493.0 570.1 L491.6 570.0 L489.9 569.9 L488.1 569.8 L486.2 569.7 L484.0 569.6 L481.8 569.6 L479.5 569.5 L477.1 569.5 L474.7 569.5 L472.2 569.5 L469.7 569.5 L467.3 569.8 L464.9 570.3 L462.6 570.9 L460.4 571.7 L458.2 572.6 L456.3 573.6 L454.5 574.7 L452.8 575.9 L451.4 577.2 L450.3 578.5 L449.4 579.8 L448.7 581.2 L448.4 582.6 L448.4 584.0 L448.7 585.4 L449.3 586.7 L450.1 588.0 L451.2 589.3 L452.5 590.4 L453.9 591.5 L455.6 592.4 L457.4 593.3 L459.3 594.0 L461.3 594.5 L463.4 594.9 L465.5 595.1 L467.7 595.1 L469.9 594.9 L472.1 594.6 L474.3 594.1 L476.3 593.5 L478.4 592.8 L480.3 592.0 L482.1 591.1 L483.7 590.1 L485.2 589.0 L486.5 587.9 L487.5 586.8 L488.4 585.6 L489.0 584.5 L489.3 583.3 L489.3 582.1 L488.9 581.0 L488.3 579.9 L487.5 578.8 L486.4 577.8 L485.2 576.9 L483.8 576.1 L482.3 575.4 L480.8 574.8 L479.2 574.3 L477.6 574.0 L476.0 573.8 L474.5 573.8 L473.2 574.0 L471.9 574.2 L470.9 574.6 L470.0 575.1 L469.4 575.6 L469.1 576.3 L469.1 577.0 L469.3 577.7 L469.8 578.5 L470.4 579.4 L471.3 580.2 L472.3 581.1 L473.4 581.9 L474.7 582.7 L476.0 583.5 L477.5 584.3 L479.0 585.0 L480.5 585.6 L482.1 586.2 L483.7 586.7 L485.2 587.0 L486.8 587.3 L488.2 587.4 L489.6 587.4 L490.9 587.2 L492.1 586.8 L493.2 586.1 L494.1 585.3 L494.9 584.4 L495.4 583.4 L495.8 582.2 L495.9 580.9 L495.8 579.6 L495.4 578.2 L494.8 576.8 L494.0 575.5 L493.0 574.1 L491.8 572.7 L490.5 571.4 L489.1 570.2 L487.5 569.1 L485.8 568.1 L484.1 567.2 L482.3 566.5 L480.4 566.0 L478.5 565.7 L476.7 565.5 L474.8 565.7 L472.9 566.2 L471.1 567.0 L469.4 568.0 L467.7 569.3 L466.1 570.7 L464.7 572.3 L463.4 574.0 L462.2 575.8 L461.2 577.5 L460.4 579.3 L459.8 581.1 L459.4 582.8 L459.3 584.4 L459.4 585.8 L459.8 587.1 L460.4 588.1 L461.2 588.9 L462.2 589.4 L463.4 589.5 L464.7 589.4 L466.1 588.8 L467.7 587.9 L469.4 586.7 L471.1 585.2 L472.9 583.5 L474.8 581.5 L476.7 579.4 L478.5 577.1 L480.4 574.7 L482.3 572.2 L484.1 569.7 L485.8 567.2 L487.5 564.6 L489.1 562.1 L490.5 559.7 L491.8 557.3 L493.0 555.1 L494.0 553.1 L494.8 551.2 L495.4 549.6 L495.8 548.3 L495.9 547.2 L495.8 546.5 L495.5 546.1 L495.1 546.1 L494.4 546.5 L493.6 547.4 L492.7 548.5 L491.6 550.0 L490.4 551.8 L489.1 553.8 L487.7 556.0 L486.1 558.4 L484.5 560.9 L482.9 563.5 L481.1 566.1 L479.3 568.7 L477.5 571.3 L475.6 573.9 L473.7 576.3 L471.8 578.6 L469.9 580.7 L468.0 582.6 L466.1 584.3 L464.2 585.6 L462.4 586.6 L460.6 587.2 L458.9 587.5 L457.2 587.3 L455.7 587.0 L454.2 586.4 L452.8 585.7 L451.6 584.8 L450.4 583.7 L449.4 582.6 L448.6 581.3 L447.8 580.0 L447.3 578.7 L446.9 577.3 L446.7 575.9 L446.7 574.6 L447.1 573.3 L447.7 572.1 L448.7 571.0 L449.9 570.0 L451.3 569.2 L453.0 568.5 L454.8 568.1 L456.8 567.8 L458.9 567.8 L461.0 568.0 L463.3 568.4 L465.6 569.0 L467.8 569.8 L470.1 570.8 L472.3 571.9 L474.4 573.2 L476.5 574.7 L478.4 576.4 L480.1 578.2 L481.7 580.1 L483.0 582.2 L484.1 584.4 L484.9 586.8 L485.4 589.3 L485.6 591.9 L485.1 594.6 L483.7 597.4 L481.7 600.4 L479.2 603.4 L476.3 606.5 L473.3 608.1 L470.3 608.1 L467.4 608.1 L464.8 608.1 L462.8 608.1 L461.5 608.1" fill="none" stroke="#000" stroke-width="1.0" stroke-linejoin="round" shape-rendering="crispEdges" />
</g>
<clipPath id="cf"><rect x="300.5" y="680.3" width="220.0" height="219.70000000000005"/></clipPath>
<g clip-path="url(#cf)" stroke-linejoin="round" shape-rendering="crispEdges">
<rect x="300.5" y="680.3" width="220.0" height="219.70000000000005" fill="rgb(0,0,178)"/>
<path d="M300.5 680.3 520.5 680.3 520.5 900.0 300.5 900.0 300.5 680.3ZM513.5 894.8 512.7 896.0 512.7 897.0 513.5 898.5 514.5 897.9 515.5 898.3 516.5 899.4 517.5 898.9 518.2 898.0 518.4 897.0 517.5 895.3 516.5 894.6 515.5 895.4 514.5 895.6 513.5 894.8Z" fill="rgb(0,0,178)" fill-rule="evenodd"/>
<path d="M300.5 680.3 507.7 680.3 509.5 682.2 511.5 682.5 513.5 683.4 515.5 683.5 516.5 683.9 519.5 683.7 520.5 684.0 520.5 891.2 518.5 891.0 516.5 890.1 513.5 889.9 511.5 890.5 509.5 890.4 506.5 893.0 505.3 895.0 505.6 898.0 507.7 900.0 300.5 900.0 300.5 680.3Z" fill="rgb(0,0,191)" fill-rule="evenodd"/>
<path d="M300.5 680.3 502.3 680.3 505.5 683.2 509.5 685.2 511.5 685.4 513.5 686.1 520.5 686.7 520.5 888.4 513.5 886.9 509.5 887.1 505.5 888.8 502.5 891.4 501.3 894.0 501.1 897.0 502.3 900.0 300.5 900.0 300.5 680.3Z" fill="rgb(0,0,204)" fill-rule="evenodd"/>
<path d="M300.5 680.3 498.2 680.3 498.5 681.0 502.3 684.3 505.5 686.0 509.5 687.5 520.5 688.9 520.5 886.1 513.5 884.4 509.5 884.4 505.5 885.6 502.5 887.2 498.5 891.0 498.1 892.0 497.4 896.0 498.2 900.0 300.5 900.0 300.5 680.3Z" fill="rgb(0,8,216)" fill-rule="evenodd"/>
<path d="M300.5 680.3 494.5 680.3 498.5 685.0 502.5 687.1 509.5 689.6 520.5 690.8 520.5 883.9 513.5 882.1 509.5 881.9 505.5 882.8 502.5 884.1 498.5 886.7 494.7 892.0 493.8 896.0 494.5 900.0 300.5 900.0 300.5 680.3ZM422.5 790.1 414.5 791.4 406.7 794.1 403.7 796.1 402.9 797.1 402.6 798.1 402.8 799.1 403.8 800.1 406.5 801.3 414.5 802.3 421.5 802.1 425.5 801.5 432.5 799.3 434.2 798.1 435.8 796.1 435.8 794.1 435.2 793.1 432.5 791.2 429.5 790.5 422.5 790.1Z" fill="rgb(0,27,229)" fill-rule="evenodd"/>
<path d="M300.5 680.3 491.0 680.3 491.5 681.5 494.5 685.0 498.5 687.9 502.5 689.5 509.5 691.6 520.5 692.7 520.5 881.9 513.5 879.9 509.5 879.5 505.5 880.1 502.5 881.2 498.5 883.5 494.5 887.4 491.5 891.8 490.5 896.0 491.0 900.0 300.5 900.0 300.5 680.3ZM418.5 788.0 413.1 789.2 406.5 791.1 399.6 794.1 395.8 797.1 394.9 799.1 395.1 800.1 396.5 801.6 399.9 803.1 406.5 804.3 413.5 804.7 421.5 804.5 428.5 803.7 432.5 802.9 437.5 801.1 440.8 799.1 442.9 796.1 442.7 793.1 440.2 790.1 436.5 788.4 432.5 787.5 425.5 787.3 418.5 788.0Z" fill="rgb(0,48,242)" fill-rule="evenodd"/>
<path d="M300.5 680.3 487.2 680.3 487.5 681.4 491.5 686.2 494.5 688.3 496.5 689.1 498.5 690.4 509.5 693.4 520.5 694.4 520.5 879.9 513.5 877.6 509.5 877.1 505.5 877.6 502.5 878.5 498.5 880.5 494.5 883.9 491.5 887.1 487.5 893.5 487.0 897.0 487.2 900.0 300.5 900.0 300.5 680.3ZM348.5 685.0 348.2 686.3 348.5 687.6 349.3 686.3 348.5 685.0ZM355.5 682.5 353.5 683.8 351.5 683.3 349.7 686.3 349.8 687.3 351.5 690.0 353.5 690.1 355.5 691.8 357.5 691.4 359.5 692.3 360.5 691.9 362.5 692.6 364.5 692.3 366.5 693.0 368.5 692.2 370.5 692.6 372.5 691.7 373.5 692.2 374.9 691.3 376.1 689.3 373.5 686.3 372.5 686.5 370.5 685.1 368.5 685.1 366.5 683.7 364.5 684.1 362.5 683.2 361.5 683.6 359.5 682.9 357.5 683.4 356.5 683.2 355.5 682.5ZM377.5 688.4 376.7 689.3 376.8 690.3 377.5 691.0 377.5 688.4ZM425.5 785.1 417.5 786.2 410.5 787.8 399.5 791.5 394.2 794.1 391.2 796.1 388.8 799.1 388.7 801.1 390.7 803.1 395.5 804.9 402.5 806.0 410.5 806.5 421.5 806.4 429.5 805.7 436.5 804.4 442.5 802.4 446.0 800.1 448.3 797.1 448.7 795.1 448.5 793.1 446.8 790.2 443.5 787.6 439.5 786.0 432.5 784.9 425.5 785.1Z" fill="rgb(0,71,255)" fill-rule="evenodd"/>
<path d="M300.5 680.3 336.8 680.3 336.1 682.3 336.0 684.3 336.5 686.3 337.5 688.3 338.5 688.3 340.5 690.6 342.5 691.1 344.5 692.8 346.5 692.8 348.5 693.8 349.5 693.7 351.5 694.5 353.5 694.5 355.5 695.3 357.5 695.1 359.5 695.6 364.5 695.6 366.5 696.1 368.5 695.7 373.5 695.8 375.5 695.4 377.5 695.7 379.5 695.0 381.5 695.0 383.5 694.2 384.5 694.3 387.5 692.3 388.5 692.7 388.8 690.3 388.5 689.5 387.5 689.8 384.5 686.9 383.5 686.8 381.5 685.4 379.5 685.0 377.5 683.7 375.5 683.5 373.5 682.5 368.5 681.4 366.5 680.5 364.0 680.3 483.5 680.3 484.3 682.3 487.5 687.0 488.5 687.3 491.5 689.6 494.5 691.2 496.5 691.7 498.5 692.9 505.5 694.5 509.5 695.3 520.5 696.2 520.5 877.9 513.5 875.4 509.5 874.7 505.5 875.0 502.5 875.7 498.5 877.6 494.5 880.7 487.5 888.2 484.0 895.0 483.5 897.0 483.5 900.0 364.0 900.0 359.5 899.0 357.5 899.0 355.5 898.2 353.5 898.6 351.5 898.0 349.5 898.3 348.5 897.9 346.5 898.4 344.5 897.6 342.5 898.7 340.5 898.2 339.5 899.4 338.5 899.9 337.5 899.1 336.8 900.0 300.5 900.0 300.5 680.3ZM426.5 783.2 418.5 784.3 410.5 786.1 403.5 788.2 395.5 791.1 389.4 794.1 385.1 797.1 382.9 800.1 382.9 802.1 384.6 804.1 389.8 806.1 396.5 807.3 407.5 808.0 421.5 808.0 432.5 807.1 440.5 805.8 446.5 803.8 450.9 801.1 452.6 799.1 453.5 797.1 453.8 795.1 453.2 792.1 450.5 788.2 446.5 785.4 440.5 783.5 432.5 782.8 426.5 783.2Z" fill="rgb(0,91,255)" fill-rule="evenodd"/>
<path d="M300.5 680.3 321.0 680.3 322.5 684.2 323.5 683.6 324.5 684.4 326.5 687.7 327.5 687.6 329.5 690.1 331.5 690.7 333.5 692.7 335.5 692.9 337.5 694.1 338.5 694.1 340.5 695.1 342.5 695.3 344.5 696.2 346.5 696.1 348.5 696.7 353.5 697.1 355.5 697.7 357.5 697.5 366.5 698.2 375.5 697.8 377.5 698.1 379.5 697.6 384.5 697.5 386.5 697.0 388.5 697.1 390.5 696.3 392.5 696.2 394.5 695.0 395.5 695.1 397.1 693.3 397.1 691.3 396.5 690.1 395.5 689.0 394.5 688.8 392.5 687.1 390.5 686.5 388.5 685.1 386.5 684.8 377.5 681.2 375.5 681.0 373.9 680.3 479.7 680.3 480.5 683.9 483.5 687.8 485.5 689.0 487.5 691.0 489.5 691.5 491.5 692.8 498.5 695.2 500.5 695.3 502.5 696.0 509.5 697.1 520.5 697.9 520.5 876.0 513.5 873.2 509.5 872.3 505.5 872.4 502.5 873.0 498.5 874.7 491.5 880.5 487.5 884.7 483.5 890.0 480.5 895.4 479.7 900.0 373.9 900.0 368.5 898.7 366.5 897.9 357.5 896.2 355.5 895.4 353.5 895.5 348.5 894.3 346.5 894.3 344.5 893.3 342.5 893.5 340.5 892.5 338.5 892.3 337.5 891.4 335.5 891.2 334.5 890.5 333.5 888.9 332.5 889.1 331.5 888.6 329.5 885.5 328.5 885.1 327.5 883.7 326.5 881.1 324.5 878.7 322.5 873.4 321.5 872.7 320.5 871.2 318.5 866.7 316.8 866.0 315.5 864.2 314.3 866.0 312.8 872.0 312.5 876.0 312.9 881.0 314.4 889.0 315.5 892.7 316.5 893.1 318.5 898.0 320.5 899.1 321.0 900.0 300.5 900.0 300.5 680.3ZM429.5 781.1 421.5 782.2 410.5 784.6 399.5 787.9 391.5 790.9 384.9 794.1 380.4 797.1 377.6 800.1 376.9 802.1 377.0 803.1 377.6 804.1 379.5 805.6 384.5 807.4 393.5 808.7 406.5 809.4 421.5 809.4 434.5 808.6 444.4 807.1 450.9 805.1 455.7 802.1 457.3 800.1 458.4 797.1 458.5 795.1 457.9 792.1 456.3 789.2 454.7 787.2 450.5 784.0 447.5 782.7 443.5 781.6 436.5 780.8 429.5 781.1Z" fill="rgb(0,112,255)" fill-rule="evenodd"/>
<path d="M300.5 680.3 312.6 680.3 315.5 686.1 316.5 686.3 318.5 689.3 320.5 690.1 322.5 692.5 323.5 692.3 324.5 692.7 326.5 694.2 327.5 694.2 329.5 695.4 331.5 695.6 333.5 696.7 335.5 696.7 337.5 697.5 342.5 698.0 344.5 698.7 346.5 698.6 355.5 699.6 366.5 700.0 388.5 699.5 390.5 699.0 395.5 698.7 397.5 698.1 399.5 698.2 401.5 697.2 403.5 697.0 405.5 695.4 406.6 695.3 407.1 694.3 406.9 692.3 406.5 691.6 405.5 691.3 403.5 689.2 401.5 688.5 399.5 687.0 397.5 686.6 392.5 684.3 380.1 680.3 475.6 680.3 475.7 683.3 476.5 686.8 477.5 687.1 480.5 690.7 481.5 690.9 483.5 692.6 485.5 693.2 487.5 694.7 489.5 694.8 491.5 695.8 496.5 696.8 498.5 697.6 500.5 697.6 509.5 699.0 520.5 699.5 520.5 874.0 513.5 870.9 509.5 869.9 505.5 869.8 502.5 870.2 498.5 871.7 494.5 874.6 491.5 877.4 483.5 886.3 476.5 896.1 475.6 900.0 380.1 900.0 366.5 895.9 364.5 895.7 357.5 893.9 355.5 893.1 353.5 893.0 346.5 891.1 344.5 889.9 342.5 889.7 340.5 888.4 339.5 888.2 335.5 885.6 333.5 883.0 331.5 881.5 327.5 875.2 323.8 867.0 320.9 858.1 318.5 848.5 315.5 844.4 314.5 844.6 311.5 846.9 308.8 858.1 307.9 867.0 307.8 876.0 308.5 884.7 311.5 899.3 312.6 900.0 300.5 900.0 300.5 680.3ZM432.5 779.2 421.5 780.7 410.5 783.2 399.5 786.4 389.2 790.1 380.6 794.1 375.8 797.1 373.4 799.1 371.7 801.1 370.9 803.1 371.0 804.1 371.5 805.2 373.5 806.8 378.5 808.5 388.5 809.9 401.5 810.6 421.5 810.7 436.5 810.0 447.5 808.7 455.5 806.5 458.2 805.1 460.7 803.1 462.1 801.1 462.9 799.1 463.2 796.1 462.7 793.1 461.4 790.1 459.4 787.2 457.5 785.2 454.5 782.9 448.1 780.2 440.5 779.0 432.5 779.2Z" fill="rgb(0,132,255)" fill-rule="evenodd"/>
<path d="M300.5 680.3 307.1 680.3 307.9 683.3 309.5 686.2 311.5 691.3 312.5 691.2 313.5 692.0 315.5 694.4 316.5 694.3 318.5 696.0 320.5 696.2 322.5 697.6 324.5 697.5 326.5 698.4 331.5 699.0 333.5 699.7 335.5 699.6 344.5 700.8 346.5 700.6 355.5 701.3 377.5 701.6 388.5 701.3 397.5 700.6 399.5 700.8 401.5 700.3 406.5 700.0 408.5 699.4 410.5 699.6 412.5 698.4 414.5 698.4 416.5 696.5 417.5 696.8 418.2 695.3 417.5 693.0 416.5 693.1 414.5 690.8 412.5 690.2 410.5 688.5 408.5 688.2 406.5 687.0 401.5 685.5 399.5 684.4 397.5 684.1 385.8 680.3 471.3 680.3 470.6 684.3 471.1 687.3 472.5 690.8 474.5 691.8 476.5 694.4 477.5 694.1 478.5 694.5 480.5 695.9 481.5 695.9 483.5 697.0 485.5 697.1 487.5 698.2 489.5 698.1 491.5 698.9 496.5 699.4 498.5 700.0 500.5 699.9 509.5 700.9 511.5 700.7 520.5 701.2 520.5 872.0 513.5 868.7 509.5 867.4 505.5 867.1 502.5 867.5 498.5 868.8 494.5 871.5 487.5 878.4 478.5 889.4 476.5 891.3 472.5 896.9 471.3 900.0 385.8 900.0 366.5 894.2 353.5 890.8 346.5 888.4 339.5 884.6 335.5 881.3 331.5 876.2 328.5 870.7 325.3 861.1 323.8 853.1 322.5 834.0 321.5 831.9 319.5 829.6 318.5 829.0 315.5 828.9 311.5 830.9 308.5 835.7 307.1 840.1 305.8 848.1 304.8 861.1 304.6 875.0 305.3 886.0 307.1 900.0 300.5 900.0 300.5 680.3ZM437.5 777.2 428.5 778.1 414.5 780.9 399.5 785.1 385.2 790.1 374.6 795.1 368.4 799.1 366.2 801.1 364.8 803.1 364.2 805.1 364.4 806.1 365.1 807.1 366.5 808.2 368.7 809.1 372.9 810.1 383.5 811.2 399.5 811.8 421.5 811.9 441.5 811.2 452.6 810.1 460.6 808.1 463.5 806.7 465.5 805.1 467.0 803.1 468.0 800.1 468.0 797.1 467.4 794.1 465.8 790.1 463.9 787.2 460.2 783.2 454.5 779.6 447.5 777.6 443.5 777.1 437.5 777.2Z" fill="rgb(0,153,255)" fill-rule="evenodd"/>
<path d="M300.5 680.3 303.1 680.3 304.5 691.0 305.5 692.0 307.5 696.7 309.5 697.3 311.5 699.7 312.5 699.1 313.5 699.3 315.5 700.4 316.5 700.1 318.5 700.9 320.5 700.8 322.5 701.6 324.5 701.2 326.5 701.7 331.5 701.8 333.5 702.3 335.5 702.0 344.5 702.7 388.5 702.9 397.5 702.6 399.5 702.8 408.5 702.2 410.5 702.5 412.5 702.0 417.5 702.0 419.5 701.5 421.5 701.9 423.5 701.0 425.5 701.3 427.5 700.4 428.5 700.8 430.5 699.4 431.5 699.4 432.5 700.4 433.9 697.3 433.9 696.3 432.5 693.1 431.5 693.9 430.5 693.7 428.5 691.8 427.5 692.0 425.5 690.7 423.5 690.4 421.5 689.0 419.5 688.9 417.5 687.9 412.5 686.7 410.5 685.7 408.5 685.4 391.0 680.3 466.2 680.3 465.5 680.7 463.5 685.9 461.5 689.1 461.4 690.3 461.5 693.7 462.5 694.0 463.5 693.6 465.5 698.0 466.5 696.8 467.5 696.9 469.5 698.7 470.5 698.2 471.5 698.5 472.5 699.5 474.5 699.2 476.5 700.6 477.5 700.0 478.5 700.0 480.5 700.9 481.5 700.6 483.5 701.2 485.5 701.0 487.5 701.8 489.5 701.4 491.5 701.9 496.5 702.0 498.5 702.5 500.5 702.2 509.5 702.8 511.5 702.5 520.5 702.9 520.5 870.0 513.5 866.4 509.5 865.0 505.5 864.4 502.5 864.6 498.5 865.7 494.5 868.3 491.5 871.0 487.5 875.3 478.5 886.3 469.5 895.8 466.2 900.0 390.5 899.9 357.5 890.1 349.5 887.2 342.5 883.7 339.0 881.0 335.5 877.5 331.9 872.0 330.1 868.0 328.0 862.1 327.0 856.1 326.7 850.1 326.9 844.1 327.8 837.1 329.6 827.1 329.8 824.1 329.5 822.2 327.9 820.1 325.5 819.0 322.5 818.3 315.5 818.4 311.5 819.2 307.5 821.4 305.1 825.1 303.7 830.1 302.6 841.1 302.1 859.1 302.2 881.0 303.1 900.0 300.5 900.0 300.5 680.3ZM431.5 776.1 417.5 779.0 403.5 782.7 388.5 787.5 376.5 792.1 368.3 796.1 360.5 801.1 357.3 804.1 356.0 806.1 355.6 808.1 356.1 809.1 357.3 810.1 360.0 811.1 367.0 812.1 379.5 812.7 399.5 813.0 430.5 813.0 450.5 812.5 461.5 811.6 468.5 809.8 471.1 808.1 472.7 806.1 473.6 803.1 473.5 799.1 472.4 795.1 470.2 790.1 467.5 786.2 463.8 782.2 461.3 780.2 457.9 778.2 454.5 776.8 450.5 775.8 443.5 775.2 431.5 776.1Z" fill="rgb(0,173,255)" fill-rule="evenodd"/>
<path d="M396.5 680.3 461.0 680.3 459.5 681.7 458.5 682.1 456.5 684.1 455.5 684.7 454.5 684.5 452.5 686.6 450.5 686.8 449.5 687.8 448.5 688.1 447.5 687.7 445.5 688.7 443.5 688.1 441.5 689.0 439.5 688.5 438.5 688.9 436.5 688.3 434.5 688.6 432.5 687.8 430.5 688.0 428.5 687.4 423.5 686.8 421.5 686.0 419.5 685.9 412.5 684.3 396.5 680.3ZM327.9 704.3 364.5 704.0 408.5 704.4 410.5 704.7 412.5 704.4 419.5 704.6 421.5 705.1 423.5 704.7 425.5 705.2 427.5 704.9 428.5 705.3 430.5 705.0 432.5 705.7 434.5 705.2 436.5 705.8 438.5 705.5 439.5 706.0 441.5 705.6 443.5 706.4 445.5 705.8 447.5 706.4 449.5 706.0 450.5 706.5 452.5 706.0 454.5 706.9 456.5 706.0 458.5 706.7 459.5 706.1 460.5 706.1 461.5 706.6 463.5 705.9 465.5 706.8 467.5 705.8 469.5 706.3 470.5 705.7 472.5 706.1 474.5 705.4 476.5 706.1 478.5 705.3 480.5 705.6 481.5 705.2 483.5 705.5 485.5 705.0 487.5 705.5 489.5 704.9 491.5 705.1 496.5 704.7 498.5 705.1 500.5 704.6 502.5 704.9 507.5 704.5 509.5 704.8 511.5 704.5 518.5 704.4 520.5 704.7 520.5 810.8 513.5 811.8 501.5 812.0 491.5 811.4 486.7 810.1 485.1 809.1 483.5 807.3 474.6 790.1 471.1 785.2 467.4 781.2 462.5 777.4 458.5 775.5 454.5 774.2 446.5 773.3 436.5 773.9 425.5 775.8 406.5 780.7 388.6 786.2 377.4 790.1 367.8 794.1 357.8 799.1 344.5 806.9 337.5 809.6 330.5 810.6 322.5 810.8 314.5 810.2 311.5 809.6 308.5 808.4 305.8 806.1 304.2 803.1 303.0 798.1 302.2 790.1 301.6 773.2 301.4 746.2 301.7 727.2 302.5 715.8 305.5 708.2 306.5 707.4 307.5 707.7 309.5 705.9 310.5 705.9 311.5 706.4 312.5 705.4 313.5 705.1 315.5 705.3 317.5 704.7 318.5 705.0 320.5 704.5 322.5 704.8 324.5 704.3 327.9 704.3ZM396.3 814.1 443.5 814.3 469.8 815.1 481.5 816.6 494.5 820.7 498.5 821.2 505.5 820.1 514.5 817.2 520.5 815.9 520.5 868.0 513.5 864.1 509.5 862.4 505.5 861.7 502.5 861.6 498.5 862.5 494.5 865.0 491.5 867.7 487.5 872.1 481.5 880.0 474.5 887.8 467.5 894.5 465.5 895.8 463.5 898.0 461.0 900.0 396.5 900.0 368.5 892.0 357.5 888.4 350.5 885.6 346.5 883.6 342.5 881.1 338.5 877.5 334.5 872.3 331.9 867.0 330.6 863.1 329.2 854.1 329.3 849.1 329.8 844.1 332.1 835.1 335.9 827.1 338.7 823.1 342.5 819.6 346.5 817.5 350.5 816.3 356.5 815.3 365.5 814.7 396.3 814.1Z" fill="rgb(0,193,255)" fill-rule="evenodd"/>
<path d="M402.1 680.3 454.4 680.3 452.5 681.7 445.5 684.1 443.5 684.0 441.5 684.8 434.5 685.1 419.5 683.7 402.1 680.3ZM352.9 705.3 386.5 705.4 408.5 706.2 419.5 707.0 421.5 707.5 423.5 707.4 430.5 708.2 432.5 708.8 434.5 708.7 439.5 709.6 441.5 709.6 443.5 710.3 445.5 710.0 450.5 710.9 452.5 710.7 454.5 711.4 456.5 710.9 458.5 711.4 460.5 711.1 461.5 711.4 463.5 711.0 465.5 711.6 467.5 710.8 469.5 711.1 470.5 710.6 472.5 710.8 474.5 710.2 476.5 710.5 478.5 709.6 480.5 709.7 481.5 709.2 483.5 709.3 485.5 708.6 487.5 708.9 489.5 708.1 491.5 708.2 496.5 707.4 498.5 707.6 500.5 707.1 509.5 706.9 511.5 706.5 520.5 706.5 520.5 802.2 513.5 804.6 506.5 805.6 498.5 805.2 493.5 803.8 490.5 802.3 486.5 799.0 483.5 795.7 472.9 782.2 469.5 778.8 466.1 776.2 462.5 774.2 458.5 772.7 454.5 771.8 447.5 771.3 439.5 771.9 428.5 773.9 399.5 781.6 373.5 790.1 344.5 802.0 337.5 804.2 329.5 805.5 322.5 805.4 317.5 804.4 313.5 802.7 310.4 800.1 308.5 797.5 307.4 795.1 305.5 788.2 304.3 779.2 303.6 763.2 303.7 744.2 304.9 728.2 306.5 720.0 309.5 713.7 310.5 712.8 311.5 712.5 313.5 710.2 317.5 708.4 318.5 708.4 320.5 707.5 322.5 707.5 324.5 706.8 331.5 706.0 352.9 705.3ZM401.8 815.1 439.5 815.5 452.5 816.2 462.5 817.3 473.5 819.7 478.5 821.6 491.5 827.7 494.5 828.5 498.5 828.9 502.5 828.2 505.5 827.2 520.5 820.9 520.5 866.0 513.5 861.8 509.5 859.8 505.5 858.7 502.5 858.4 498.5 859.0 494.5 861.4 491.5 864.1 487.5 868.7 478.5 880.8 471.5 888.1 463.5 894.7 456.5 899.3 454.4 900.0 401.5 899.9 390.5 897.2 375.5 892.8 364.5 889.2 353.5 885.1 346.5 881.5 342.5 878.6 339.5 875.7 335.4 870.0 332.3 862.1 331.3 854.1 331.9 846.1 334.5 837.1 338.5 830.0 342.5 825.5 346.5 822.4 351.5 820.0 357.5 818.2 365.5 816.8 374.5 816.0 401.8 815.1Z" fill="rgb(0,214,255)" fill-rule="evenodd"/>
<path d="M408.6 680.3 447.5 680.3 441.5 681.9 430.5 682.7 419.5 682.0 408.6 680.3ZM337.9 707.3 346.5 706.6 364.5 706.3 386.5 706.6 401.5 707.3 423.5 709.5 430.5 710.6 432.5 711.3 434.5 711.3 439.5 712.4 441.5 712.5 443.5 713.2 445.5 713.2 450.5 714.1 452.5 714.1 454.5 714.7 456.5 714.5 461.5 715.1 463.5 714.8 465.5 715.3 467.5 714.8 472.5 714.7 474.5 714.1 476.5 714.3 478.5 713.4 480.5 713.4 485.5 712.0 487.5 712.0 489.5 711.2 496.5 710.0 498.5 710.1 500.5 709.5 511.5 708.4 520.5 708.1 520.5 797.6 513.5 799.4 506.5 800.2 501.5 799.9 495.5 798.3 491.5 796.3 487.5 793.3 474.5 779.2 468.5 774.2 465.5 772.4 461.5 770.9 454.5 769.5 450.5 769.3 443.5 769.7 436.5 770.8 414.5 776.2 384.3 785.2 348.5 797.6 340.5 799.9 333.5 801.2 329.5 801.5 322.5 800.9 318.5 799.6 314.5 797.1 311.1 793.1 308.6 787.2 306.8 779.2 305.6 766.2 305.5 751.2 306.3 737.2 307.8 728.2 309.4 722.2 310.5 719.8 313.5 715.3 316.5 712.8 320.5 710.6 322.5 710.3 324.5 709.3 331.5 707.9 337.9 707.3ZM400.6 816.1 418.5 816.1 436.5 816.6 449.5 817.5 459.5 819.0 466.5 820.7 473.5 823.4 491.5 833.4 494.5 834.4 498.5 834.8 502.5 833.7 505.5 832.4 520.5 824.5 520.5 864.0 509.5 856.9 505.5 855.3 502.5 854.6 498.5 854.8 494.5 857.2 491.5 860.0 487.5 864.9 478.5 878.0 474.5 882.7 470.5 886.7 463.5 892.2 459.5 894.8 452.5 898.4 448.5 899.9 408.5 900.0 397.5 897.7 382.5 893.7 368.5 889.3 357.5 885.1 349.5 881.3 346.5 879.4 342.5 876.2 338.5 871.5 335.2 865.0 334.1 861.1 333.5 857.1 333.7 849.1 335.5 841.3 339.1 834.1 342.5 829.7 347.5 825.4 352.5 822.6 358.5 820.3 365.5 818.7 374.5 817.5 385.5 816.6 400.6 816.1Z" fill="rgb(0,234,255)" fill-rule="evenodd"/>
<path d="M418.9 680.3 436.5 680.3 430.5 680.8 418.9 680.3ZM436.6 680.3 437.8 680.3 436.6 680.3ZM342.3 708.3 353.5 707.6 368.5 707.3 386.5 707.7 401.5 708.6 419.5 710.8 441.5 715.1 443.5 715.8 452.5 717.0 454.5 717.6 456.5 717.5 461.5 718.2 463.5 718.1 465.5 718.6 467.5 718.2 472.5 718.2 474.5 717.6 476.5 717.8 478.5 716.9 480.5 716.8 485.5 715.2 487.5 715.1 489.5 714.2 500.5 711.7 511.5 710.2 520.5 709.7 520.5 794.1 513.5 795.5 506.5 795.8 501.5 795.3 496.5 793.7 492.5 791.7 488.5 788.7 476.5 776.7 472.5 773.2 469.5 771.2 465.5 769.3 462.5 768.4 454.5 767.2 443.5 767.9 428.5 771.2 388.5 782.8 351.5 794.4 341.5 797.0 334.5 798.0 329.5 798.2 323.5 797.3 319.5 795.7 315.5 792.7 312.2 788.2 309.9 782.2 308.4 775.2 307.4 764.2 307.3 752.2 308.0 740.2 309.6 730.2 310.5 727.3 313.5 720.5 316.5 716.8 320.5 713.7 324.5 711.8 328.5 710.5 335.5 709.0 342.3 708.3ZM398.6 817.1 417.5 817.0 435.5 817.6 448.5 818.9 459.8 821.1 467.5 823.7 474.5 827.3 481.7 832.1 494.5 841.8 497.5 843.0 498.5 844.1 499.5 842.7 502.5 840.7 504.0 839.1 511.5 833.1 520.5 827.5 520.5 861.9 509.5 853.5 504.2 850.1 502.5 848.6 499.5 847.6 498.5 846.4 497.6 848.1 494.5 850.7 491.5 854.6 478.5 875.1 474.5 880.3 470.5 884.5 463.5 890.1 456.5 894.3 449.5 897.3 441.5 899.5 437.8 900.0 418.9 900.0 408.5 898.7 390.5 894.9 379.5 891.7 368.5 888.0 357.5 883.6 349.5 879.4 346.5 877.4 342.8 874.0 339.5 869.8 336.4 863.1 335.1 856.1 335.5 849.1 337.9 841.1 341.3 835.1 345.6 830.1 350.5 826.3 357.5 822.8 365.5 820.4 374.5 818.8 385.5 817.7 398.6 817.1Z" fill="rgb(0,255,255)" fill-rule="evenodd"/>
<path d="M346.0 709.3 357.5 708.6 375.5 708.4 390.5 709.0 401.5 709.9 419.5 712.4 441.5 717.4 443.5 718.1 452.5 719.5 454.5 720.2 463.5 721.0 465.5 721.5 476.5 721.0 478.5 720.2 483.5 719.2 485.5 718.3 487.5 718.1 489.5 717.1 500.5 714.0 511.5 712.0 520.5 711.2 520.5 791.1 513.5 792.1 509.5 792.3 503.5 791.7 498.5 790.3 494.5 788.3 490.5 785.6 476.5 772.4 472.5 769.4 469.5 767.8 465.5 766.2 461.5 765.4 454.5 765.0 443.5 766.2 432.5 768.7 362.5 789.4 344.5 794.1 337.5 795.2 332.5 795.5 326.5 794.9 322.5 793.6 318.5 791.1 316.5 789.2 314.3 786.2 311.7 780.2 309.9 772.2 308.9 761.2 309.0 749.2 310.1 738.2 312.3 729.2 313.5 725.9 316.9 720.2 320.5 716.7 324.4 714.3 328.5 712.5 335.5 710.7 346.0 709.3ZM396.8 818.1 410.5 817.8 425.5 818.1 436.5 818.8 447.5 820.1 456.5 822.1 463.5 824.4 470.5 827.9 475.5 831.2 481.5 836.2 485.5 840.4 488.3 845.1 489.0 848.1 488.5 851.5 485.5 859.1 478.5 872.0 474.5 877.7 470.5 882.3 463.5 888.2 456.5 892.4 452.5 894.2 445.5 896.7 438.5 898.1 430.5 898.9 423.5 899.0 415.5 898.4 404.5 896.8 393.5 894.5 382.5 891.5 371.5 887.9 360.5 883.5 353.5 880.1 346.5 875.3 342.5 871.2 339.4 866.0 337.7 861.1 336.9 855.1 337.5 849.1 339.2 843.1 342.4 837.1 345.5 833.3 349.5 829.6 353.5 826.9 358.5 824.4 364.5 822.3 371.5 820.7 378.5 819.6 396.8 818.1ZM519.2 831.1 520.5 830.3 520.5 859.7 515.2 855.1 511.3 851.1 509.0 847.1 508.4 845.1 508.9 842.1 511.1 838.1 515.1 834.1 519.2 831.1Z" fill="rgb(0,255,234)" fill-rule="evenodd"/>
<path d="M349.0 710.3 360.5 709.5 375.5 709.4 390.5 710.1 401.5 711.1 419.5 714.0 443.5 720.3 454.5 722.7 465.5 724.4 467.5 724.2 469.5 724.5 476.5 724.2 487.5 721.1 489.5 719.9 500.5 716.2 511.5 713.8 520.5 712.8 520.5 788.5 513.5 789.1 509.5 789.0 503.5 788.1 498.5 786.4 491.5 782.1 479.5 770.9 476.5 768.3 473.3 766.2 469.5 764.4 465.5 763.3 458.5 762.7 450.5 763.2 439.5 765.4 381.5 782.7 362.5 788.0 348.5 791.3 340.5 792.7 333.5 793.1 328.5 792.5 323.5 790.9 319.3 788.2 315.5 783.3 312.9 777.2 311.3 770.2 310.4 760.2 310.5 750.2 311.8 739.2 313.5 731.8 317.5 723.4 320.5 719.8 324.5 716.6 328.5 714.6 335.5 712.3 342.5 710.9 349.0 710.3ZM395.1 819.1 407.5 818.7 421.5 818.9 432.5 819.5 443.5 820.8 452.5 822.6 459.5 824.8 466.5 828.1 471.2 831.1 477.5 836.4 481.6 841.1 483.7 845.1 484.7 849.1 484.2 854.1 482.4 860.1 478.5 868.4 474.5 875.0 471.4 879.0 467.5 883.1 463.5 886.4 456.5 890.7 449.5 893.7 441.5 896.0 434.5 897.2 426.5 897.7 419.5 897.5 408.5 896.4 397.5 894.5 386.5 891.7 375.5 888.2 364.5 883.9 357.5 880.7 350.5 876.5 346.4 873.0 342.5 868.3 340.0 863.1 338.8 858.1 338.8 852.1 339.8 847.1 342.3 841.1 345.5 836.2 349.5 832.1 353.5 829.0 358.5 826.3 363.5 824.2 369.5 822.5 377.5 820.9 395.1 819.1ZM520.5 833.1 520.5 857.3 515.0 851.1 513.5 848.1 512.8 845.1 513.2 842.1 514.6 839.1 517.1 836.1 520.5 833.1Z" fill="rgb(0,255,214)" fill-rule="evenodd"/>
<path d="M350.2 711.3 361.5 710.5 375.5 710.4 390.5 711.1 401.5 712.2 419.5 715.5 443.5 722.4 454.5 725.0 465.5 727.2 472.5 727.6 476.5 727.5 483.5 725.5 496.5 719.9 504.5 717.2 511.5 715.5 520.5 714.3 520.5 786.0 514.5 786.3 509.5 786.1 505.5 785.3 500.5 783.7 496.5 781.6 492.5 778.8 480.5 767.5 476.5 764.2 472.5 762.0 469.5 761.0 465.5 760.2 461.5 760.1 454.5 760.6 443.5 762.6 394.5 778.0 370.5 784.6 355.5 788.3 344.5 790.3 337.5 790.9 330.5 790.5 325.5 789.1 320.8 786.2 317.5 782.4 314.9 777.2 313.0 770.2 311.9 761.2 311.9 751.2 312.8 742.2 314.7 734.2 317.6 727.2 320.5 722.9 324.5 719.1 328.5 716.6 335.5 713.9 342.5 712.3 350.2 711.3ZM393.6 820.1 406.5 819.6 418.5 819.7 429.5 820.2 440.5 821.5 448.9 823.1 456.5 825.4 463.5 828.6 468.5 831.8 474.5 836.9 478.0 841.1 480.2 845.1 481.5 850.1 481.3 855.1 478.9 863.1 475.0 871.0 471.5 876.5 467.5 881.1 463.5 884.6 459.5 887.4 452.5 891.0 445.5 893.6 438.5 895.2 430.5 896.2 423.5 896.5 415.5 896.1 405.5 894.9 397.5 893.5 386.5 890.7 375.5 887.1 364.5 882.7 357.5 879.2 350.5 874.7 346.5 871.0 343.5 866.8 341.7 863.1 340.6 858.1 340.5 853.1 341.7 847.1 343.5 842.6 346.5 837.9 349.9 834.1 354.5 830.4 359.5 827.5 364.5 825.4 370.5 823.5 377.5 822.0 393.6 820.1ZM519.5 837.1 520.5 836.1 520.5 854.5 517.4 850.1 516.4 847.1 516.1 845.1 517.0 841.1 519.5 837.1Z" fill="rgb(0,255,193)" fill-rule="evenodd"/>
<path d="M352.1 712.3 364.5 711.4 379.5 711.5 390.5 712.1 404.5 713.8 419.5 716.9 443.5 724.5 454.5 727.4 463.5 729.4 465.5 730.1 472.5 731.0 476.5 730.9 483.5 728.9 487.5 727.2 496.5 722.4 507.5 718.3 515.5 716.4 520.5 715.8 520.5 783.7 514.5 783.8 509.5 783.2 505.5 782.3 500.5 780.3 496.5 777.9 492.9 775.2 480.5 763.0 476.5 760.0 472.5 758.2 469.5 757.5 465.5 757.1 454.5 758.2 443.5 760.8 401.5 775.0 381.5 780.7 362.5 785.4 351.5 787.6 340.5 788.9 333.5 788.8 329.5 788.1 326.5 787.1 322.5 784.7 318.5 780.2 316.0 775.2 314.1 768.2 313.2 759.2 313.4 750.2 314.4 742.2 316.5 734.1 317.6 731.2 321.1 725.2 324.5 721.6 328.5 718.7 331.5 717.1 338.5 714.6 346.5 712.9 352.1 712.3ZM392.2 821.1 403.5 820.5 414.5 820.4 425.5 820.9 436.5 822.0 445.5 823.6 452.5 825.5 458.8 828.1 464.5 831.3 470.5 836.1 474.5 840.5 477.5 845.7 478.7 850.1 478.8 855.1 477.8 860.1 474.7 868.0 471.3 874.0 467.5 879.0 463.5 882.8 459.5 885.8 452.5 889.6 445.5 892.2 438.5 893.9 430.5 895.0 423.5 895.4 415.5 895.1 405.5 894.0 397.5 892.5 386.5 889.8 379.5 887.5 368.5 883.2 360.5 879.4 353.5 875.2 349.5 871.9 346.1 868.0 343.5 863.1 342.3 859.1 342.0 854.1 342.8 849.1 344.7 844.1 347.1 840.1 350.3 836.1 354.5 832.4 358.5 829.8 363.9 827.1 369.5 825.1 376.5 823.3 392.2 821.1ZM519.9 841.1 520.5 840.1 520.5 850.8 519.3 848.1 519.0 846.1 519.2 843.1 519.9 841.1Z" fill="rgb(0,255,173)" fill-rule="evenodd"/>
<path d="M352.7 713.3 364.5 712.4 379.5 712.4 393.5 713.4 405.5 715.1 415.5 717.2 423.5 719.5 443.5 726.6 456.5 730.3 463.5 732.5 465.5 733.5 472.5 734.9 476.5 735.0 483.5 732.6 487.5 730.6 496.5 725.0 503.5 721.7 511.5 719.0 520.5 717.3 520.5 781.5 514.5 781.3 509.5 780.5 505.5 779.3 500.9 777.2 497.5 775.0 493.5 771.7 483.5 761.1 479.5 757.4 476.5 755.2 472.5 753.8 469.5 753.4 465.5 753.5 461.5 754.3 447.5 757.7 439.5 760.2 419.5 767.9 404.5 773.1 385.5 778.6 366.5 783.3 352.5 786.0 341.5 787.1 333.5 786.9 327.5 785.2 323.5 782.8 320.1 779.2 317.4 774.2 315.6 768.2 314.6 760.2 314.6 752.2 315.7 743.2 317.5 736.1 319.6 731.2 321.5 727.9 324.5 724.1 328.5 720.7 332.5 718.4 338.5 716.0 346.5 714.1 352.7 713.3ZM391.1 822.1 410.5 821.2 421.5 821.5 432.5 822.4 440.5 823.7 448.5 825.6 455.2 828.1 460.9 831.1 466.5 835.1 471.3 840.1 474.5 845.0 475.9 849.1 476.4 854.1 475.7 860.1 474.1 865.0 470.5 872.5 467.5 876.8 463.5 881.0 459.5 884.2 452.5 888.2 445.5 891.0 438.5 892.8 430.5 893.9 423.5 894.3 408.5 893.5 401.5 892.4 390.5 890.0 382.5 887.6 372.5 883.8 364.5 880.2 357.5 876.3 353.5 873.5 349.5 869.8 346.5 865.7 344.6 861.1 343.8 857.1 344.0 852.1 345.5 846.4 347.7 842.1 350.5 838.3 354.5 834.4 358.5 831.5 363.5 828.8 369.5 826.4 375.5 824.6 382.5 823.2 391.1 822.1Z" fill="rgb(0,255,153)" fill-rule="evenodd"/>
<path d="M368.3 713.3 379.5 713.4 393.5 714.4 404.5 716.0 415.5 718.5 423.5 721.0 443.5 728.8 456.5 733.2 463.5 736.4 465.5 738.0 467.5 738.6 469.5 740.3 471.5 740.9 472.5 742.1 474.5 741.6 476.5 742.3 477.5 741.0 480.5 739.5 492.9 730.2 500.5 725.4 507.5 722.2 511.5 720.8 520.5 718.8 520.5 779.4 514.5 778.9 509.5 777.8 504.5 775.9 499.8 773.2 496.5 770.6 492.5 766.6 480.5 751.7 477.8 749.2 476.5 747.3 474.7 747.2 472.5 746.2 471.5 747.0 469.5 747.2 467.5 748.4 465.5 748.8 463.5 749.9 460.1 751.2 443.5 756.8 412.5 769.4 397.5 774.3 382.5 778.5 363.5 782.8 348.5 785.0 341.5 785.5 336.5 785.3 332.5 784.8 328.5 783.5 325.9 782.2 323.5 780.3 320.5 776.6 318.0 771.2 316.3 764.2 315.8 755.2 316.6 746.2 318.2 739.2 321.4 731.2 324.5 726.6 328.5 722.8 332.3 720.2 338.5 717.5 342.5 716.2 350.5 714.6 357.5 713.8 368.3 713.3ZM403.9 822.1 414.5 822.0 425.5 822.6 435.5 823.8 443.5 825.4 450.5 827.6 456.5 830.3 462.4 834.1 466.5 837.6 470.5 842.4 472.9 847.1 474.1 851.1 474.3 856.1 473.4 861.1 471.1 868.0 467.5 874.3 463.6 879.0 459.5 882.6 453.5 886.4 448.5 888.7 442.5 890.6 437.5 891.8 430.5 892.9 423.5 893.3 415.5 893.2 405.5 892.2 397.5 890.8 382.5 886.6 372.5 882.7 364.5 878.9 357.5 874.8 353.5 871.7 349.5 867.4 346.9 863.1 345.7 859.1 345.4 855.1 346.0 850.1 347.4 846.1 350.3 841.1 353.8 837.1 357.5 833.9 362.5 830.8 367.5 828.4 373.5 826.3 380.5 824.6 387.5 823.4 403.9 822.1Z" fill="rgb(0,255,132)" fill-rule="evenodd"/>
<path d="M367.2 714.3 379.5 714.3 394.5 715.5 408.5 718.0 419.5 721.1 430.5 725.4 452.5 734.8 454.5 736.3 456.5 737.1 459.5 739.7 460.5 741.2 460.7 744.2 459.4 746.2 456.5 748.5 453.4 750.2 427.2 762.2 412.5 768.3 394.5 774.3 373.5 779.7 355.5 782.9 347.5 783.7 340.5 783.9 335.5 783.5 331.5 782.6 326.5 780.3 323.1 777.2 320.0 772.2 318.1 766.2 317.1 758.2 317.4 750.2 319.1 741.2 321.5 734.5 324.5 729.3 327.5 725.8 331.5 722.5 335.5 720.2 342.5 717.5 349.5 715.9 357.5 714.8 367.2 714.3ZM516.3 721.2 520.5 720.3 520.5 777.4 514.5 776.6 509.4 775.2 504.5 772.9 499.5 769.5 493.5 763.3 489.5 757.7 486.0 751.2 485.0 747.2 485.2 744.2 486.5 741.2 489.5 737.2 496.5 730.8 500.5 728.0 507.5 724.2 516.3 721.2ZM399.6 823.1 410.5 822.8 421.5 823.1 430.5 824.0 438.5 825.4 445.5 827.2 451.5 829.4 456.7 832.1 462.3 836.1 467.2 841.1 469.8 845.1 471.4 849.1 472.2 854.1 471.8 860.1 470.5 865.1 467.5 871.6 463.6 877.0 460.5 880.2 456.5 883.2 452.5 885.6 445.5 888.6 438.5 890.6 430.5 891.9 423.5 892.4 416.5 892.3 408.5 891.7 401.5 890.7 393.5 889.0 383.5 886.0 375.5 883.0 368.5 879.8 361.5 875.9 356.5 872.4 353.5 869.8 349.7 865.0 347.9 861.1 347.1 857.1 347.1 853.1 348.4 848.1 350.2 844.1 353.5 839.6 357.1 836.1 361.2 833.1 365.5 830.6 371.5 828.1 377.5 826.3 384.5 824.8 399.6 823.1Z" fill="rgb(0,255,112)" fill-rule="evenodd"/>
<path d="M364.5 715.3 375.5 715.1 390.5 716.0 404.5 718.2 415.9 721.2 423.5 724.1 430.5 727.2 448.5 736.4 452.8 740.2 453.5 742.2 453.3 744.2 452.0 746.2 448.5 749.1 427.5 760.5 412.7 767.2 397.5 772.4 377.5 777.8 359.5 781.2 344.5 782.4 337.5 782.1 332.5 781.1 327.5 778.8 323.6 775.2 320.8 770.2 319.0 764.2 318.3 756.2 319.0 748.2 320.5 741.1 323.5 733.9 325.1 731.2 328.5 727.1 332.5 723.7 338.5 720.4 342.5 718.8 349.5 717.0 357.5 715.8 364.5 715.3ZM518.4 722.2 520.5 721.9 520.5 775.3 514.5 774.3 509.5 772.6 504.5 769.9 500.5 766.7 496.5 762.4 493.0 757.2 490.8 752.2 489.8 747.2 490.5 743.2 492.4 739.2 497.5 733.3 500.5 730.7 507.5 726.3 511.5 724.5 518.4 722.2ZM397.0 824.1 406.5 823.6 417.5 823.7 426.5 824.4 435.5 825.7 442.5 827.4 448.5 829.5 454.0 832.1 459.5 835.8 463.5 839.4 467.0 844.1 469.3 849.1 470.3 854.1 470.2 859.1 468.7 865.0 466.6 870.0 463.5 875.0 460.5 878.4 456.5 881.8 452.5 884.3 445.5 887.5 438.5 889.5 430.5 890.9 423.5 891.5 416.5 891.5 408.5 890.9 401.5 889.8 394.5 888.4 386.5 886.1 375.5 882.0 368.5 878.6 361.5 874.5 357.5 871.6 353.5 867.8 350.9 864.0 349.6 861.1 348.8 857.1 348.8 853.1 349.7 849.1 351.5 845.1 354.2 841.1 357.5 837.6 361.5 834.5 365.5 832.0 370.5 829.7 376.5 827.6 382.5 826.1 397.0 824.1Z" fill="rgb(0,255,91)" fill-rule="evenodd"/>
<path d="M363.9 716.3 375.5 716.0 390.5 716.9 404.5 719.3 415.5 722.4 427.5 727.6 441.5 735.6 445.7 739.2 446.9 742.2 446.8 744.2 445.5 746.6 441.5 750.1 427.1 759.2 412.5 766.2 397.5 771.5 377.5 776.9 359.5 780.0 344.5 781.0 337.5 780.5 333.5 779.6 328.5 777.3 325.0 774.2 322.4 770.2 320.4 764.2 319.6 757.2 320.0 750.2 321.3 743.2 324.0 736.2 327.5 730.5 330.6 727.2 334.5 724.1 338.5 721.8 342.5 720.1 349.5 718.2 357.5 716.8 363.9 716.3ZM517.5 724.2 520.5 723.5 520.5 773.3 515.5 772.2 510.5 770.4 506.6 768.2 502.8 765.2 499.5 761.7 496.5 757.2 494.8 753.2 493.8 748.2 494.2 744.2 495.7 740.2 496.8 738.2 500.5 733.9 507.5 728.6 511.5 726.5 517.5 724.2ZM394.9 825.1 403.5 824.5 414.5 824.4 424.5 825.0 432.3 826.1 439.5 827.6 445.5 829.5 451.3 832.1 456.2 835.1 460.5 838.7 464.3 843.1 467.0 848.1 468.2 852.1 468.5 857.1 467.7 863.1 466.3 867.0 463.2 873.0 460.0 877.0 456.5 880.3 452.5 883.0 445.5 886.3 434.5 889.4 427.5 890.3 419.5 890.7 405.5 889.7 397.5 888.2 390.5 886.5 383.0 884.0 375.5 881.0 368.5 877.5 361.5 873.1 357.5 869.9 354.0 866.0 352.2 863.1 350.7 859.1 350.3 855.1 350.8 851.1 352.2 847.1 354.5 843.2 357.5 839.6 361.5 836.1 365.5 833.4 370.1 831.1 375.5 829.0 381.5 827.3 394.9 825.1Z" fill="rgb(0,255,71)" fill-rule="evenodd"/>
<path d="M363.4 717.2 375.5 716.9 390.5 717.9 401.5 719.7 412.5 722.7 423.5 727.3 434.5 733.8 438.5 737.1 441.0 740.2 441.7 742.2 441.5 744.6 438.5 748.9 434.7 752.2 423.5 759.6 411.5 765.5 395.6 771.2 377.5 775.9 359.5 778.9 351.5 779.5 344.5 779.5 337.5 778.8 333.5 777.8 329.5 775.9 325.5 772.2 323.2 768.2 321.6 763.2 320.9 757.2 321.1 751.2 322.2 745.2 324.6 738.2 327.5 733.0 330.6 729.2 334.5 725.8 338.5 723.3 342.5 721.5 349.5 719.3 357.5 717.8 363.4 717.2ZM519.6 725.2 520.5 725.1 520.5 771.2 515.5 769.9 511.5 768.2 507.5 765.8 504.4 763.2 501.1 759.2 499.3 756.2 497.8 752.2 497.1 748.2 497.5 744.2 499.1 740.2 500.5 737.8 503.5 734.3 507.5 731.0 511.5 728.5 519.6 725.2ZM393.4 826.1 402.5 825.3 410.5 825.1 421.5 825.6 429.5 826.5 436.5 827.9 443.9 830.1 449.5 832.6 455.2 836.1 459.8 840.1 463.5 844.9 465.8 850.1 466.7 854.1 466.7 859.1 465.7 864.0 463.5 869.8 460.5 874.5 456.5 878.7 453.4 881.0 445.5 885.2 441.5 886.7 434.5 888.4 427.5 889.4 419.5 889.8 412.5 889.6 404.5 888.7 390.5 885.6 382.8 883.0 375.5 879.9 364.5 873.8 357.5 868.0 354.5 864.0 353.0 861.1 352.2 858.1 352.0 854.1 352.7 850.1 354.5 846.0 357.2 842.1 360.5 838.6 364.5 835.5 368.5 833.1 373.5 830.8 379.5 828.8 385.5 827.4 393.4 826.1Z" fill="rgb(0,255,50)" fill-rule="evenodd"/>
<path d="M362.9 718.2 375.5 717.8 390.5 718.8 401.5 720.7 412.5 723.9 423.5 729.0 431.3 734.2 434.6 737.2 436.5 740.2 437.3 742.2 436.9 745.2 434.5 749.2 431.4 752.2 422.5 758.7 416.1 762.2 409.5 765.2 393.5 770.9 375.5 775.4 359.5 777.8 351.5 778.2 344.5 778.1 338.5 777.4 333.9 776.2 329.5 773.8 326.5 770.8 324.4 767.2 322.8 762.2 322.2 756.2 322.6 750.2 323.9 744.2 326.2 738.2 328.5 734.2 331.5 730.4 335.5 726.8 339.5 724.3 343.5 722.4 350.2 720.2 357.5 718.8 362.9 718.2ZM518.7 727.2 520.5 726.8 520.5 769.2 516.5 767.9 512.6 766.2 509.5 764.2 506.5 761.5 503.7 758.2 502.1 755.2 500.6 751.2 500.2 748.2 500.9 743.2 502.8 739.2 504.5 736.8 507.5 733.7 511.5 730.7 518.7 727.2ZM402.3 826.1 410.5 825.9 420.5 826.3 428.5 827.2 435.5 828.6 441.5 830.4 447.5 832.9 452.5 835.8 456.7 839.1 460.3 843.1 463.3 848.1 464.6 852.1 465.1 857.1 464.6 862.1 463.2 867.0 460.5 872.2 456.5 877.0 452.5 880.3 448.5 882.7 444.5 884.5 438.5 886.5 426.5 888.7 419.5 889.0 412.5 888.8 404.5 887.9 397.5 886.6 390.5 884.8 383.5 882.4 371.5 876.8 364.5 872.4 360.5 869.1 357.5 865.9 355.2 862.1 354.0 859.1 353.6 855.1 354.1 851.1 355.2 848.1 357.4 844.1 360.5 840.4 363.5 837.8 367.5 835.0 372.5 832.4 377.5 830.4 388.5 827.7 402.3 826.1Z" fill="rgb(0,255,30)" fill-rule="evenodd"/>
<path d="M362.4 719.2 375.5 718.7 390.5 719.7 401.5 721.8 412.5 725.2 419.5 728.5 423.5 730.8 430.2 736.2 431.8 738.2 433.3 741.2 433.6 743.2 433.3 745.2 431.5 748.8 429.5 751.2 426.2 754.2 419.5 759.0 408.5 764.6 393.5 770.0 376.5 774.3 366.5 776.0 359.5 776.7 351.5 777.0 344.5 776.7 339.5 776.0 335.5 775.0 331.5 773.1 328.1 770.2 325.6 766.2 324.2 762.2 323.5 756.2 323.9 750.2 325.3 744.2 327.5 738.7 330.3 734.2 332.5 731.5 335.5 728.6 339.5 725.8 343.5 723.8 349.5 721.6 357.5 719.8 362.4 719.2ZM518.4 729.2 520.5 728.5 520.5 767.0 513.9 764.2 511.0 762.2 508.5 759.9 506.4 757.2 504.7 754.2 503.7 751.2 503.3 748.2 503.5 745.2 504.3 742.2 507.5 736.9 511.5 733.2 518.4 729.2ZM399.1 827.1 407.5 826.7 417.5 826.9 425.5 827.7 432.5 828.9 439.5 830.8 444.5 832.7 449.1 835.1 453.5 838.1 457.6 842.1 460.5 846.1 462.3 850.1 463.4 855.1 463.4 860.1 462.3 865.0 460.2 870.0 456.6 875.0 452.5 878.9 449.5 880.9 441.5 884.6 430.5 887.3 423.5 888.0 415.5 888.1 408.5 887.7 401.5 886.6 393.5 884.8 386.5 882.6 375.5 877.9 368.5 873.8 364.5 870.9 360.5 867.3 358.0 864.0 356.4 861.1 355.4 857.1 355.3 854.1 356.1 850.1 357.5 846.8 360.0 843.1 362.8 840.1 366.5 837.1 370.5 834.6 375.5 832.2 385.8 829.1 399.1 827.1Z" fill="rgb(0,255,10)" fill-rule="evenodd"/>
<path d="M361.6 720.2 372.5 719.6 386.5 720.2 397.5 721.9 408.5 725.0 415.5 727.9 419.5 730.1 423.5 732.9 426.5 735.5 429.2 739.2 430.2 741.2 430.5 743.2 429.9 746.2 427.6 750.2 425.8 752.2 422.5 755.2 416.5 759.3 404.5 765.2 389.8 770.2 373.5 773.9 359.5 775.6 351.5 775.7 344.5 775.3 339.5 774.4 335.5 773.2 331.5 771.0 328.7 768.2 326.9 765.2 325.5 761.1 324.9 756.2 325.1 751.2 326.5 745.2 328.5 739.9 332.5 733.7 335.5 730.4 339.5 727.4 343.5 725.1 349.5 722.7 354.5 721.4 361.6 720.2ZM518.4 731.2 520.5 730.4 520.5 764.8 515.1 762.2 510.5 758.2 507.3 753.2 506.2 748.2 506.6 744.2 508.5 739.8 511.5 736.1 515.0 733.2 518.4 731.2ZM397.0 828.1 405.5 827.5 413.5 827.5 421.5 828.0 428.5 829.0 435.5 830.6 441.5 832.6 446.8 835.1 451.4 838.1 455.5 841.8 458.0 845.1 460.2 849.1 461.6 854.1 461.9 859.1 461.0 864.0 459.5 868.3 456.5 873.2 452.9 877.0 449.5 879.6 445.5 881.9 441.5 883.6 437.5 884.9 430.5 886.4 423.5 887.2 416.5 887.4 404.5 886.4 397.5 885.0 390.5 883.1 379.5 878.8 372.5 875.1 367.8 872.0 364.5 869.4 361.2 866.0 358.5 862.1 357.3 859.1 356.9 856.1 357.2 852.1 358.1 849.1 360.3 845.1 362.7 842.1 365.9 839.1 370.2 836.1 374.5 833.8 384.5 830.3 397.0 828.1Z" fill="rgb(10,255,0)" fill-rule="evenodd"/>
<path d="M361.4 721.2 372.5 720.5 386.5 721.1 397.5 722.9 408.5 726.2 416.5 730.0 419.9 732.2 423.5 735.3 426.5 739.2 427.3 741.2 427.6 744.2 426.8 747.2 425.0 750.2 422.3 753.2 418.8 756.2 412.6 760.2 401.5 765.3 387.5 769.9 373.5 773.0 359.5 774.5 346.5 774.1 340.5 773.1 336.5 771.8 333.4 770.2 330.1 767.2 328.2 764.2 326.9 760.2 326.3 755.2 326.7 750.2 327.9 745.2 330.0 740.2 332.3 736.2 335.5 732.4 339.1 729.2 342.5 727.0 350.5 723.6 361.4 721.2ZM518.8 733.2 520.5 732.5 520.5 762.4 515.5 759.4 512.3 756.2 510.1 752.2 509.2 748.2 509.7 744.2 511.3 740.2 514.7 736.2 518.8 733.2ZM395.3 829.1 403.5 828.3 410.5 828.2 418.5 828.5 426.5 829.5 432.5 830.7 439.5 832.9 444.5 835.1 449.3 838.1 452.9 841.1 456.5 845.4 459.0 850.1 460.1 854.1 460.4 858.1 459.8 863.1 458.0 868.0 455.7 872.0 452.5 875.8 449.5 878.3 445.5 880.7 441.5 882.6 437.5 884.0 430.5 885.6 423.5 886.4 416.5 886.6 404.5 885.6 397.5 884.2 390.5 882.3 379.5 877.8 372.5 873.9 368.5 871.2 364.5 867.7 361.5 864.2 359.0 859.1 358.5 856.1 358.6 853.1 359.8 849.1 361.3 846.1 363.6 843.1 366.6 840.1 370.5 837.2 374.2 835.1 378.8 833.1 384.5 831.2 395.3 829.1Z" fill="rgb(30,255,0)" fill-rule="evenodd"/>
<path d="M361.3 722.2 372.5 721.4 386.5 722.0 397.5 723.9 408.5 727.5 416.5 731.8 419.7 734.2 422.5 737.2 423.8 739.2 424.8 742.2 424.9 744.2 424.2 747.2 422.6 750.2 420.0 753.2 416.5 756.2 412.0 759.2 400.5 764.7 386.7 769.2 373.5 772.0 359.5 773.4 347.5 772.8 341.5 771.7 337.5 770.4 333.7 768.2 331.5 766.1 329.6 763.2 328.3 759.2 327.8 755.2 328.2 750.2 329.5 745.2 331.5 740.4 335.8 734.2 338.8 731.2 342.5 728.5 346.5 726.4 350.5 724.8 361.3 722.2ZM519.6 735.2 520.5 734.8 520.5 759.8 517.5 757.8 514.5 754.5 512.8 751.2 512.1 747.2 512.6 744.2 514.4 740.2 517.1 737.2 519.6 735.2ZM403.8 829.1 410.5 828.9 418.5 829.3 425.5 830.2 432.5 831.6 438.5 833.6 443.5 835.8 447.2 838.1 451.0 841.1 453.8 844.1 456.5 848.2 458.0 852.1 458.8 857.1 458.6 861.1 457.4 866.0 455.5 870.0 452.5 874.0 449.2 877.0 445.5 879.5 437.5 883.0 426.5 885.3 419.5 885.8 412.5 885.7 405.5 885.0 398.5 883.7 386.6 880.0 375.5 874.6 367.7 869.0 364.5 865.8 361.9 862.1 360.7 859.1 360.1 856.1 360.4 852.1 361.4 849.1 363.0 846.1 365.3 843.1 368.5 840.1 371.5 837.9 375.5 835.6 380.5 833.5 391.5 830.5 403.8 829.1Z" fill="rgb(51,255,0)" fill-rule="evenodd"/>
<path d="M361.3 723.2 372.5 722.3 383.5 722.7 394.5 724.3 405.5 727.5 412.5 730.9 415.9 733.2 419.5 736.6 421.2 739.2 422.4 742.2 422.5 744.3 421.8 747.2 420.3 750.2 417.7 753.2 414.2 756.2 409.6 759.2 399.2 764.2 387.0 768.2 373.5 771.1 360.5 772.2 348.5 771.6 344.5 770.9 339.5 769.4 335.5 767.3 333.1 765.2 331.1 762.2 330.0 759.2 329.4 755.2 329.6 751.2 330.7 746.2 332.2 742.2 336.0 736.2 338.7 733.2 342.5 730.1 346.5 727.7 350.5 726.0 356.5 724.2 361.3 723.2ZM519.6 738.2 520.5 737.6 520.5 756.7 518.5 755.0 516.6 752.2 515.5 749.4 515.2 747.2 516.1 743.2 517.8 740.2 519.6 738.2ZM400.7 830.1 414.5 829.8 421.5 830.4 428.5 831.6 434.2 833.1 439.5 835.1 443.5 837.1 447.9 840.1 451.5 843.4 454.2 847.1 456.2 851.1 457.2 855.1 457.3 859.1 456.6 864.0 455.5 867.0 452.5 872.1 449.5 875.3 445.5 878.3 441.5 880.4 437.5 882.0 427.5 884.3 415.5 885.0 408.5 884.6 401.5 883.5 390.5 880.6 379.5 875.8 371.5 870.7 368.3 868.0 364.8 864.0 363.1 861.1 362.1 858.1 361.7 855.1 362.1 852.1 363.1 849.1 364.7 846.1 367.1 843.1 370.4 840.1 374.5 837.4 378.5 835.3 388.5 832.0 400.7 830.1Z" fill="rgb(71,255,0)" fill-rule="evenodd"/>
<path d="M371.7 723.2 383.5 723.6 394.5 725.3 404.5 728.4 411.9 732.2 416.7 736.2 418.9 739.2 420.0 742.2 420.2 744.2 419.6 747.2 416.4 752.2 413.2 755.2 409.5 757.9 400.5 762.6 387.5 767.1 374.5 769.9 362.5 771.1 351.5 770.6 345.5 769.5 341.5 768.3 338.5 767.0 335.9 765.2 333.5 762.5 331.8 759.2 331.2 756.2 331.1 752.2 331.7 748.2 333.1 744.2 335.5 739.4 338.5 735.5 343.2 731.2 346.5 729.1 350.5 727.2 360.5 724.4 371.7 723.2ZM520.0 742.2 520.5 741.6 520.5 752.5 519.2 750.2 518.6 747.2 519.0 744.2 520.0 742.2ZM398.6 831.1 411.5 830.5 418.5 830.9 425.5 831.9 431.5 833.2 437.0 835.1 441.5 837.2 446.0 840.1 449.5 843.2 452.6 847.1 454.5 851.1 455.7 855.1 455.9 859.1 455.3 863.1 453.5 868.0 451.7 871.0 449.1 874.0 445.5 877.0 441.5 879.3 437.5 881.0 427.5 883.5 416.5 884.3 404.5 883.3 393.5 880.7 382.5 876.3 376.5 872.9 372.5 870.1 367.3 865.0 365.2 862.1 363.9 859.1 363.4 856.1 363.5 853.1 364.3 850.1 365.8 847.1 368.0 844.1 371.1 841.1 374.5 838.6 378.5 836.4 383.5 834.4 388.5 832.9 398.6 831.1Z" fill="rgb(91,255,0)" fill-rule="evenodd"/>
<path d="M371.0 724.2 379.5 724.2 390.5 725.5 400.8 728.2 408.5 731.7 412.5 734.5 415.2 737.2 416.6 739.2 417.4 741.2 417.9 744.2 417.6 746.2 416.5 749.1 415.1 751.2 412.5 753.9 409.5 756.3 405.0 759.2 400.5 761.4 388.5 765.8 375.5 768.8 363.5 770.0 352.5 769.4 343.5 767.3 340.5 766.0 337.5 764.0 335.5 762.0 333.9 759.2 333.0 756.2 332.8 752.2 333.5 748.2 334.7 744.2 336.2 741.2 338.9 737.2 343.5 732.7 346.5 730.6 350.5 728.5 354.5 727.0 360.5 725.5 371.0 724.2ZM397.1 832.1 403.5 831.4 410.5 831.2 417.5 831.6 424.5 832.5 430.5 833.9 435.5 835.6 440.5 837.9 444.5 840.4 448.5 844.0 450.9 847.1 453.0 851.1 454.1 855.1 454.4 859.1 453.6 864.0 452.0 868.0 449.5 871.8 444.9 876.0 441.5 878.2 437.5 880.0 433.5 881.3 427.5 882.7 416.5 883.5 405.5 882.7 394.5 880.2 383.5 875.9 375.5 871.0 371.8 868.0 368.9 865.0 366.9 862.1 365.5 859.1 365.0 854.1 365.6 851.1 366.9 848.1 368.9 845.1 371.5 842.3 377.6 838.1 381.7 836.1 386.5 834.4 397.1 832.1Z" fill="rgb(112,255,0)" fill-rule="evenodd"/>
<path d="M370.8 725.2 379.5 725.2 390.5 726.6 397.5 728.3 405.5 731.6 408.5 733.4 411.9 736.2 414.7 740.2 415.5 742.2 415.7 744.2 415.5 746.2 414.2 749.2 412.1 752.2 409.5 754.6 402.5 759.2 392.5 763.5 380.5 766.9 369.5 768.6 358.5 768.7 348.5 767.2 344.5 765.9 341.5 764.5 338.5 762.2 336.8 760.2 335.3 757.2 334.7 754.2 334.8 750.2 335.5 746.9 337.0 743.2 339.5 738.9 343.5 734.6 346.5 732.2 350.5 729.9 354.5 728.2 360.5 726.5 370.8 725.2ZM406.1 832.1 418.5 832.5 424.5 833.4 430.5 834.8 435.5 836.6 439.5 838.5 443.4 841.1 446.8 844.1 449.3 847.1 451.5 851.1 452.7 855.1 453.0 859.1 452.4 863.1 450.9 867.0 448.5 871.0 445.6 874.0 441.5 877.0 438.5 878.5 430.5 881.2 419.5 882.7 408.5 882.3 397.5 880.2 386.5 876.3 378.7 872.0 375.5 869.7 371.5 866.1 369.1 863.1 367.5 860.1 366.7 857.1 366.6 854.1 367.2 851.1 368.5 848.1 372.5 843.1 378.5 838.8 386.5 835.3 395.5 833.2 406.1 832.1Z" fill="rgb(132,255,0)" fill-rule="evenodd"/>
<path d="M370.7 726.2 379.5 726.2 390.5 727.6 397.5 729.5 404.5 732.6 409.5 736.2 412.5 740.2 413.2 742.2 413.4 745.2 412.1 749.2 409.9 752.2 407.8 754.2 400.5 759.0 390.5 763.2 380.5 765.9 369.5 767.5 359.5 767.6 350.5 766.2 343.5 763.5 340.5 761.3 338.6 759.2 337.2 756.2 336.6 753.2 336.7 750.2 337.6 746.2 339.3 742.2 341.3 739.2 343.5 736.6 346.5 733.9 353.5 729.9 361.5 727.4 370.7 726.2ZM402.5 833.1 414.5 833.0 421.5 833.7 426.5 834.7 431.5 836.1 436.3 838.1 440.5 840.4 444.0 843.1 446.9 846.1 449.5 850.1 451.0 854.1 451.4 857.1 451.3 861.1 450.3 865.0 448.5 868.8 445.9 872.0 442.5 875.0 438.5 877.4 431.5 880.0 423.5 881.5 412.5 881.8 401.5 880.4 390.5 877.1 382.5 873.2 375.2 868.0 370.8 863.1 369.1 860.1 368.3 857.1 368.1 854.1 368.8 851.1 371.5 846.1 374.3 843.1 376.9 841.1 384.4 837.1 392.5 834.6 402.5 833.1Z" fill="rgb(152,255,0)" fill-rule="evenodd"/>
<path d="M370.9 727.2 379.5 727.2 386.5 728.0 394.5 729.8 401.5 732.5 407.0 736.2 409.0 738.2 410.2 740.2 411.3 744.2 411.1 746.2 409.9 749.2 408.5 751.3 405.5 754.2 398.5 758.7 390.2 762.2 379.5 765.1 369.5 766.4 359.5 766.4 351.5 764.9 345.5 762.5 342.5 760.3 340.6 758.2 339.5 756.2 338.7 753.2 338.6 750.2 339.5 746.2 342.5 740.2 347.2 735.2 353.5 731.3 361.5 728.6 370.9 727.2ZM400.7 834.1 406.5 833.7 413.5 833.7 424.5 835.1 429.5 836.5 434.5 838.4 438.5 840.5 442.2 843.1 445.2 846.1 447.4 849.1 448.9 852.1 449.9 856.1 450.0 860.1 449.2 864.0 447.9 867.0 445.5 870.7 441.5 874.3 438.5 876.2 434.5 878.1 426.5 880.2 415.5 881.1 404.5 880.2 394.5 877.7 386.5 874.4 378.5 869.4 375.5 866.8 373.1 864.0 371.5 861.7 370.4 859.1 369.9 857.1 369.8 854.1 370.4 851.1 371.8 848.1 374.1 845.1 376.2 843.1 382.5 839.0 391.5 835.7 400.7 834.1Z" fill="rgb(173,255,0)" fill-rule="evenodd"/>
<path d="M371.4 728.2 379.5 728.2 387.5 729.2 394.5 731.0 401.5 734.1 405.6 737.2 408.5 741.2 409.1 745.2 407.7 749.2 405.5 752.2 403.2 754.2 396.9 758.2 388.5 761.6 378.6 764.2 369.5 765.3 360.6 765.2 352.5 763.6 347.0 761.2 344.3 759.2 342.6 757.2 341.5 755.1 340.8 752.2 340.8 749.2 341.8 745.2 343.2 742.2 345.3 739.2 350.5 734.5 356.5 731.4 364.5 729.1 371.4 728.2ZM399.3 835.1 410.5 834.4 421.5 835.4 431.5 838.2 435.7 840.1 439.5 842.5 442.6 845.1 445.1 848.1 446.9 851.1 448.2 855.1 448.6 859.1 448.2 862.1 446.9 866.0 445.1 869.0 441.3 873.0 438.4 875.0 434.4 877.0 426.5 879.3 420.5 880.1 415.5 880.3 405.5 879.5 397.5 877.7 387.5 873.8 379.8 869.0 374.7 864.0 371.9 859.1 371.4 857.1 371.3 854.1 372.0 851.1 372.9 849.1 375.0 846.1 376.9 844.1 382.7 840.1 390.1 837.1 399.3 835.1Z" fill="rgb(193,255,0)" fill-rule="evenodd"/>
<path d="M374.2 729.2 382.5 729.6 390.5 731.1 397.5 733.6 401.8 736.2 405.5 740.1 406.5 742.2 406.8 744.2 406.0 748.2 403.1 752.2 397.9 756.2 390.5 759.7 382.5 762.2 373.5 763.9 365.5 764.2 357.5 763.3 350.9 761.2 346.4 758.2 344.7 756.2 343.6 754.2 343.1 752.2 342.9 749.2 344.3 744.2 347.5 739.2 352.1 735.2 357.5 732.3 364.5 730.2 374.2 729.2ZM398.4 836.1 403.5 835.5 410.5 835.2 420.5 836.2 429.5 838.5 433.5 840.1 437.5 842.4 440.8 845.1 443.5 848.1 445.3 851.1 446.5 854.1 447.0 857.1 446.9 861.1 445.8 865.0 444.2 868.0 440.6 872.0 437.9 874.0 434.1 876.0 426.5 878.4 416.5 879.5 408.5 879.1 398.1 877.0 390.5 874.3 382.9 870.0 379.1 867.0 376.5 864.3 373.9 860.1 373.0 857.1 372.9 855.1 373.1 853.1 374.1 850.1 375.5 847.6 377.7 845.1 383.1 841.1 390.0 838.1 398.4 836.1Z" fill="rgb(214,255,0)" fill-rule="evenodd"/>
<path d="M365.9 731.2 372.5 730.4 379.5 730.5 386.5 731.4 394.5 733.8 397.5 735.3 400.3 737.2 403.1 740.2 404.1 742.2 404.6 744.2 404.4 746.2 403.7 748.2 400.8 752.2 396.5 755.4 389.5 758.9 381.5 761.3 373.5 762.7 366.5 763.0 359.1 762.2 352.9 760.2 348.4 757.2 346.8 755.2 345.8 753.2 345.2 749.2 346.4 744.2 349.5 739.5 353.5 736.0 356.6 734.2 360.5 732.6 365.9 731.2ZM408.3 836.1 418.5 836.7 428.5 839.1 432.5 840.8 436.4 843.1 441.5 847.7 443.8 851.1 445.0 854.1 445.6 857.1 445.6 860.1 444.7 864.0 443.2 867.0 441.5 869.4 438.7 872.0 433.8 875.0 426.5 877.5 416.5 878.7 408.5 878.3 398.5 876.3 390.5 873.3 383.3 869.0 378.5 864.7 375.5 860.1 374.6 857.1 374.5 855.1 374.9 852.1 375.7 850.1 377.5 847.3 379.5 845.1 384.5 841.6 391.5 838.6 399.5 836.8 408.3 836.1Z" fill="rgb(234,255,0)" fill-rule="evenodd"/>
<path d="M367.3 732.2 375.5 731.5 382.5 732.0 389.5 733.5 394.1 735.2 398.5 738.0 401.2 741.2 402.2 744.2 402.1 746.2 401.4 748.2 398.3 752.2 394.1 755.2 387.8 758.2 381.2 760.2 373.5 761.5 366.5 761.7 360.5 760.9 355.1 759.2 350.5 756.2 348.4 753.2 347.5 749.2 347.7 747.2 348.6 744.2 350.4 741.2 352.2 739.2 356.5 736.0 361.5 733.7 367.3 732.2ZM404.8 837.1 414.5 837.1 424.5 838.9 432.5 842.0 438.3 846.1 442.2 851.1 443.4 854.1 444.1 857.1 444.1 860.1 443.1 864.0 441.6 867.0 440.0 869.0 437.5 871.4 434.5 873.4 427.5 876.2 419.5 877.6 412.5 877.8 404.5 876.8 394.5 874.0 387.5 870.6 382.5 867.0 378.2 862.1 376.7 859.1 376.2 857.1 376.1 854.1 376.6 852.1 378.6 848.1 382.7 844.1 388.5 840.8 396.5 838.3 404.8 837.1Z" fill="rgb(255,255,0)" fill-rule="evenodd"/>
<path d="M369.4 733.2 375.5 732.8 382.5 733.3 387.5 734.4 393.5 736.8 396.9 739.2 399.1 742.2 399.7 745.2 398.9 748.2 396.5 751.4 391.5 755.0 386.5 757.3 379.9 759.2 373.5 760.2 366.5 760.3 360.5 759.3 356.5 757.8 352.8 755.2 350.7 752.2 349.9 748.2 351.0 744.2 353.8 740.2 357.5 737.2 364.5 734.2 369.4 733.2ZM403.4 838.1 413.5 838.0 421.5 839.1 429.5 841.8 433.5 843.9 436.4 846.1 438.5 848.2 440.6 851.1 441.9 854.1 442.5 857.1 442.5 860.1 441.9 863.1 440.5 866.0 438.5 868.7 434.5 872.1 430.7 874.0 427.5 875.2 419.5 876.7 412.5 876.9 404.5 876.0 397.3 874.0 390.3 871.0 383.5 866.3 379.8 862.1 378.1 858.1 377.7 855.1 378.0 853.1 379.7 849.1 383.4 845.1 388.5 842.0 395.5 839.5 403.4 838.1Z" fill="rgb(255,234,0)" fill-rule="evenodd"/>
<path d="M373.7 734.2 379.5 734.3 385.5 735.4 390.5 737.2 393.8 739.2 396.3 742.2 397.1 745.2 396.2 748.2 394.5 750.6 390.5 753.7 385.5 756.1 379.5 757.9 373.5 758.8 367.5 758.8 362.5 758.0 358.5 756.5 355.1 754.2 353.1 751.2 352.5 748.2 353.5 744.2 355.7 741.2 358.5 738.7 363.5 736.2 368.5 734.8 373.7 734.2ZM402.7 839.1 412.5 838.8 421.4 840.1 428.5 842.5 434.4 846.1 436.6 848.1 438.9 851.1 440.8 856.1 441.1 859.1 440.6 862.1 438.1 867.0 434.5 870.6 429.5 873.3 423.5 875.2 415.5 876.0 408.5 875.7 400.5 874.1 393.5 871.5 386.5 867.3 382.5 863.4 380.0 859.1 379.5 857.1 379.4 854.1 380.9 850.1 384.3 846.1 388.8 843.1 395.5 840.5 402.7 839.1Z" fill="rgb(255,214,0)" fill-rule="evenodd"/>
<path d="M369.5 736.2 375.5 735.7 379.5 735.9 385.8 737.2 389.5 738.9 392.4 741.2 393.8 743.2 394.2 745.2 393.3 748.2 390.7 751.2 387.8 753.2 383.3 755.2 378.5 756.5 373.5 757.2 368.5 757.2 364.5 756.6 360.6 755.2 357.7 753.2 355.8 750.2 355.4 747.2 356.3 744.2 358.5 741.4 361.3 739.2 365.5 737.3 369.5 736.2ZM402.4 840.1 410.5 839.6 418.5 840.5 425.5 842.4 429.2 844.1 432.5 846.2 434.7 848.1 437.2 851.1 438.5 853.6 439.2 856.1 439.2 861.1 438.2 864.0 437.0 866.0 433.5 869.7 430.5 871.6 427.5 872.9 422.5 874.3 415.5 875.1 408.5 874.8 400.5 873.1 393.5 870.4 387.5 866.6 383.2 862.1 381.4 858.1 381.1 854.1 382.5 850.3 385.2 847.1 389.5 844.0 395.5 841.6 402.4 840.1Z" fill="rgb(255,193,0)" fill-rule="evenodd"/>
<path d="M368.8 738.2 372.5 737.6 376.5 737.4 382.4 738.2 385.3 739.2 387.5 740.4 390.3 743.2 390.9 745.2 390.5 747.2 389.3 749.2 387.1 751.2 383.4 753.2 379.5 754.5 375.5 755.3 371.5 755.5 367.5 755.2 364.1 754.2 361.5 752.8 359.8 751.2 358.8 749.2 358.7 746.2 359.5 744.2 361.5 741.9 364.5 739.8 368.8 738.2ZM402.4 841.1 410.5 840.6 418.5 841.5 425.5 843.6 431.6 847.1 435.4 851.1 436.6 853.1 437.6 856.1 437.8 859.1 437.5 861.1 436.9 863.1 435.2 866.0 431.5 869.5 427.5 871.7 422.5 873.2 415.5 874.1 408.5 873.8 401.5 872.4 394.5 869.7 389.5 866.6 385.7 863.1 383.4 859.1 382.8 855.1 383.9 851.1 386.5 847.8 390.5 844.9 395.5 842.7 402.4 841.1Z" fill="rgb(255,173,0)" fill-rule="evenodd"/>
<path d="M370.2 740.2 376.5 739.6 379.5 739.9 382.5 740.8 384.9 742.2 386.5 744.0 386.9 745.2 386.6 747.2 383.8 750.2 378.5 752.5 372.5 753.3 369.5 753.1 366.5 752.2 364.5 751.1 362.9 749.2 362.5 748.2 362.5 746.2 363.5 744.2 365.5 742.3 370.2 740.2ZM402.8 842.1 410.5 841.6 417.5 842.4 424.5 844.4 429.5 847.2 433.5 851.1 434.8 853.1 435.9 856.1 436.1 859.1 435.8 861.1 434.0 865.0 430.5 868.5 426.5 870.8 420.5 872.5 415.5 873.1 408.5 872.8 401.5 871.3 395.7 869.0 390.8 866.0 387.5 863.0 385.2 859.1 384.6 855.1 385.3 852.1 387.5 848.9 391.5 845.8 396.5 843.6 402.8 842.1Z" fill="rgb(255,153,0)" fill-rule="evenodd"/>
<path d="M371.7 743.2 375.5 742.7 378.5 743.2 380.2 744.2 380.9 745.2 380.7 747.2 378.5 749.0 375.5 749.9 372.5 750.0 369.7 749.2 368.5 748.2 368.1 746.2 369.5 744.4 371.7 743.2ZM403.4 843.1 410.5 842.7 417.5 843.5 423.5 845.4 428.5 848.2 432.3 852.1 434.1 856.1 434.3 859.1 434.0 861.1 431.9 865.0 428.6 868.0 423.5 870.5 418.5 871.7 412.5 872.0 405.5 871.2 401.1 870.0 396.3 868.0 391.7 865.0 388.7 862.1 387.0 859.1 386.4 855.1 387.3 852.1 389.5 849.1 393.5 846.2 398.5 844.2 403.4 843.1Z" fill="rgb(255,132,0)" fill-rule="evenodd"/>
<path d="M404.8 844.1 410.5 843.8 417.5 844.7 422.5 846.3 427.3 849.1 430.3 852.1 432.2 856.1 432.3 860.1 430.5 864.1 427.5 867.0 423.5 869.1 419.5 870.3 413.5 870.9 408.5 870.6 402.5 869.3 397.5 867.3 393.9 865.0 390.7 862.1 388.9 859.1 388.4 857.1 388.4 855.1 389.4 852.1 391.8 849.1 395.5 846.7 399.5 845.1 404.8 844.1Z" fill="rgb(255,112,0)" fill-rule="evenodd"/>
<path d="M407.3 845.1 413.5 845.3 418.5 846.3 422.9 848.1 427.1 851.1 429.4 854.1 430.4 858.1 430.2 860.1 429.5 862.1 427.5 864.8 424.4 867.0 420.5 868.6 416.5 869.5 411.5 869.6 405.5 868.8 401.5 867.6 397.5 865.7 393.9 863.1 391.5 860.1 390.4 857.1 390.7 854.1 392.3 851.1 394.5 849.1 398.5 846.9 402.5 845.7 407.3 845.1Z" fill="rgb(255,91,0)" fill-rule="evenodd"/>
<path d="M402.9 847.1 407.5 846.4 413.5 846.6 418.5 847.8 422.5 849.6 425.6 852.1 427.6 855.1 428.2 857.1 428.2 859.1 427.2 862.1 425.5 864.0 422.8 866.0 419.5 867.4 415.5 868.2 409.5 868.2 405.5 867.4 401.5 866.1 398.5 864.6 395.3 862.1 393.7 860.1 392.7 857.1 392.7 855.1 394.1 852.1 396.1 850.1 399.5 848.2 402.9 847.1Z" fill="rgb(255,71,0)" fill-rule="evenodd"/>
<path d="M406.0 848.1 410.5 847.8 414.5 848.3 418.5 849.5 421.5 851.1 423.7 853.1 425.5 856.1 425.7 859.1 424.4 862.1 422.5 863.9 419.5 865.6 416.5 866.4 412.5 866.8 408.5 866.5 404.5 865.6 400.9 864.0 398.5 862.4 396.3 860.1 395.3 858.1 395.1 856.1 395.6 854.1 397.0 852.1 399.5 850.1 402.5 848.9 406.0 848.1Z" fill="rgb(255,50,0)" fill-rule="evenodd"/>
<path d="M405.3 850.1 408.5 849.6 412.5 849.8 416.5 850.8 419.1 852.1 421.4 854.1 422.6 856.1 422.8 859.1 421.9 861.1 420.5 862.5 418.5 863.7 415.5 864.7 412.5 865.0 408.5 864.8 405.6 864.0 401.5 862.1 398.7 859.1 398.0 857.1 398.2 855.1 399.5 853.1 400.6 852.1 402.5 851.0 405.3 850.1Z" fill="rgb(255,30,0)" fill-rule="evenodd"/>
<path d="M407.3 852.1 412.5 852.1 415.5 853.0 417.2 854.1 418.5 855.5 419.2 857.1 419.0 859.1 418.5 860.1 415.6 862.1 412.5 862.7 408.5 862.5 404.5 860.9 402.5 859.1 401.7 857.1 401.8 856.1 402.2 855.1 403.5 853.6 407.3 852.1Z" fill="rgb(255,10,0)" fill-rule="evenodd"/>
<path d="M303 680.5h1M307 680.5h1M312 680.5h1M321 680.5h1M336 680.5h1M364 680.5h3M374 680.5h2M380 680.5h2M386 680.5h3M391 680.5h2M397 680.5h3M402 680.5h3M409 680.5h4M419 680.5h17M437 680.5h1M446 680.5h1M460 680.5h1M465 680.5h1M471 680.5h1M475 680.5h1M479 680.5h1M483 680.5h1M487 680.5h1M491 680.5h1M494 680.5h1M498 680.5h1M502 680.5h1M303 681.5h1M307 681.5h1M313 681.5h1M321 681.5h1M336 681.5h1M367 681.5h4M376 681.5h3M382 681.5h4M389 681.5h2M393 681.5h4M400 681.5h3M405 681.5h6M413 681.5h7M421 681.5h1M440 681.5h6M451 681.5h3M459 681.5h1M465 681.5h1M470 681.5h1M475 681.5h1M479 681.5h1M483 681.5h1M487 681.5h1M491 681.5h1M495 681.5h1M499 681.5h1M508 681.5h1M303 682.5h1M307 682.5h1M313 682.5h1M321 682.5h1M336 682.5h1M355 682.5h1M359 682.5h1M371 682.5h4M379 682.5h3M386 682.5h3M391 682.5h3M397 682.5h3M403 682.5h4M411 682.5h4M420 682.5h1M422 682.5h18M449 682.5h2M458 682.5h1M464 682.5h1M470 682.5h1M475 682.5h1M480 682.5h1M484 682.5h1M488 682.5h1M492 682.5h1M496 682.5h1M500 682.5h1M504 682.5h1M509 682.5h3M303 683.5h1M307 683.5h1M314 683.5h1M322 683.5h2M336 683.5h1M351 683.5h4M356 683.5h3M360 683.5h4M366 683.5h1M375 683.5h3M382 683.5h3M389 683.5h2M394 683.5h3M400 683.5h4M407 683.5h4M415 683.5h7M446 683.5h3M457 683.5h1M464 683.5h1M470 683.5h1M475 683.5h1M480 683.5h1M485 683.5h1M489 683.5h1M493 683.5h1M497 683.5h1M501 683.5h1M505 683.5h3M512 683.5h9M303 684.5h1M308 684.5h1M314 684.5h1M322 684.5h1M324 684.5h1M336 684.5h1M350 684.5h1M364 684.5h2M367 684.5h1M378 684.5h2M385 684.5h2M391 684.5h3M397 684.5h3M404 684.5h3M411 684.5h4M422 684.5h11M435 684.5h2M439 684.5h7M454 684.5h3M463 684.5h1M470 684.5h1M475 684.5h1M481 684.5h1M485 684.5h1M490 684.5h1M494 684.5h1M498 684.5h1M502 684.5h2M508 684.5h1M303 685.5h1M308 685.5h1M315 685.5h1M325 685.5h1M336 685.5h1M348 685.5h1M350 685.5h1M368 685.5h3M380 685.5h2M387 685.5h3M394 685.5h3M400 685.5h4M407 685.5h4M415 685.5h5M421 685.5h1M433 685.5h2M437 685.5h2M453 685.5h1M463 685.5h1M470 685.5h1M476 685.5h1M481 685.5h1M486 685.5h1M490 685.5h1M494 685.5h2M499 685.5h2M504 685.5h1M509 685.5h4M303 686.5h1M309 686.5h1M315 686.5h2M325 686.5h1M336 686.5h1M348 686.5h2M371 686.5h3M382 686.5h3M390 686.5h2M397 686.5h3M404 686.5h2M411 686.5h4M420 686.5h1M422 686.5h4M450 686.5h3M462 686.5h1M470 686.5h1M476 686.5h1M482 686.5h1M487 686.5h1M491 686.5h2M496 686.5h2M501 686.5h1M505 686.5h4M513 686.5h8M303 687.5h1M310 687.5h1M317 687.5h1M326 687.5h2M337 687.5h1M348 687.5h2M374 687.5h1M385 687.5h1M392 687.5h1M400 687.5h1M406 687.5h2M415 687.5h3M426 687.5h4M432 687.5h1M447 687.5h1M449 687.5h1M462 687.5h1M471 687.5h1M477 687.5h1M483 687.5h1M488 687.5h2M493 687.5h1M498 687.5h1M502 687.5h3M509 687.5h3M304 688.5h1M310 688.5h1M318 688.5h1M328 688.5h1M337 688.5h2M350 688.5h1M375 688.5h1M377 688.5h1M386 688.5h1M393 688.5h3M401 688.5h2M408 688.5h3M418 688.5h2M430 688.5h2M433 688.5h8M442 688.5h5M448 688.5h1M461 688.5h1M471 688.5h1M478 688.5h1M484 688.5h1M490 688.5h1M494 688.5h2M499 688.5h2M505 688.5h3M512 688.5h9M304 689.5h1M310 689.5h1M318 689.5h2M329 689.5h1M339 689.5h1M351 689.5h1M375 689.5h3M387 689.5h2M396 689.5h1M403 689.5h1M411 689.5h1M420 689.5h3M441 689.5h1M461 689.5h1M471 689.5h1M479 689.5h1M485 689.5h2M491 689.5h2M496 689.5h2M501 689.5h4M508 689.5h5M304 690.5h1M311 690.5h1M320 690.5h1M329 690.5h3M340 690.5h2M351 690.5h4M375 690.5h1M377 690.5h1M388 690.5h1M396 690.5h1M404 690.5h1M412 690.5h3M423 690.5h3M461 690.5h1M472 690.5h1M480 690.5h2M487 690.5h1M493 690.5h1M498 690.5h3M505 690.5h3M513 690.5h8M311 691.5h3M321 691.5h1M332 691.5h1M342 691.5h2M355 691.5h4M360 691.5h1M371 691.5h2M374 691.5h1M388 691.5h1M397 691.5h1M405 691.5h2M415 691.5h1M426 691.5h1M428 691.5h1M461 691.5h1M473 691.5h2M482 691.5h1M487 691.5h3M494 691.5h3M501 691.5h3M508 691.5h5M305 692.5h1M313 692.5h1M322 692.5h3M333 692.5h3M344 692.5h3M359 692.5h1M361 692.5h5M367 692.5h4M373 692.5h1M386 692.5h3M397 692.5h1M406 692.5h1M415 692.5h1M427 692.5h1M429 692.5h1M461 692.5h1M475 692.5h1M483 692.5h2M490 692.5h3M497 692.5h3M504 692.5h4M513 692.5h8M306 693.5h1M314 693.5h1M325 693.5h1M336 693.5h1M347 693.5h4M366 693.5h1M385 693.5h1M396 693.5h1M407 693.5h1M416 693.5h2M430 693.5h3M461 693.5h3M475 693.5h1M485 693.5h2M493 693.5h2M500 693.5h4M508 693.5h8M306 694.5h1M315 694.5h3M326 694.5h3M337 694.5h3M351 694.5h4M379 694.5h1M382 694.5h3M396 694.5h1M407 694.5h1M418 694.5h1M433 694.5h1M463 694.5h1M476 694.5h3M487 694.5h3M495 694.5h3M504 694.5h5M516 694.5h5M307 695.5h1M318 695.5h1M329 695.5h3M340 695.5h4M355 695.5h11M367 695.5h12M380 695.5h2M393 695.5h3M405 695.5h2M418 695.5h1M433 695.5h1M464 695.5h1M479 695.5h3M490 695.5h3M498 695.5h6M509 695.5h11M307 696.5h1M319 696.5h3M332 696.5h4M344 696.5h7M366 696.5h1M386 696.5h2M389 696.5h4M403 696.5h2M416 696.5h2M433 696.5h1M464 696.5h1M466 696.5h2M482 696.5h2M493 696.5h4M504 696.5h5M510 696.5h1M520 696.5h1M308 697.5h2M322 697.5h3M336 697.5h5M351 697.5h11M363 697.5h3M367 697.5h2M371 697.5h2M375 697.5h2M378 697.5h8M388 697.5h1M398 697.5h1M400 697.5h3M415 697.5h1M433 697.5h1M465 697.5h1M468 697.5h1M484 697.5h3M497 697.5h5M509 697.5h1M511 697.5h10M310 698.5h1M325 698.5h5M331 698.5h1M341 698.5h10M362 698.5h1M366 698.5h1M369 698.5h2M373 698.5h2M377 698.5h1M390 698.5h1M393 698.5h5M399 698.5h1M411 698.5h4M433 698.5h1M468 698.5h4M487 698.5h7M502 698.5h10M311 699.5h4M330 699.5h1M332 699.5h5M338 699.5h1M351 699.5h39M391 699.5h2M404 699.5h7M430 699.5h2M433 699.5h1M472 699.5h4M494 699.5h4M499 699.5h2M512 699.5h9M315 700.5h6M337 700.5h1M339 700.5h12M353 700.5h1M390 700.5h1M393 700.5h11M426 700.5h4M432 700.5h1M476 700.5h7M498 700.5h1M501 700.5h15M518 700.5h2M321 701.5h12M335 701.5h1M351 701.5h2M354 701.5h36M391 701.5h2M415 701.5h2M418 701.5h8M483 701.5h11M496 701.5h1M516 701.5h2M520 701.5h1M333 702.5h2M336 702.5h79M417 702.5h1M494 702.5h2M497 702.5h24M316 704.5h105M422 704.5h3M426 704.5h2M485 704.5h1M488 704.5h2M492 704.5h2M495 704.5h3M499 704.5h22M309 705.5h2M312 705.5h4M331 705.5h2M334 705.5h69M404 705.5h1M421 705.5h1M425 705.5h1M428 705.5h15M444 705.5h2M448 705.5h2M452 705.5h1M463 705.5h1M467 705.5h1M470 705.5h2M473 705.5h3M477 705.5h8M486 705.5h2M490 705.5h2M494 705.5h1M498 705.5h1M308 706.5h1M311 706.5h1M324 706.5h7M333 706.5h1M341 706.5h54M403 706.5h1M405 706.5h12M443 706.5h1M446 706.5h2M450 706.5h2M453 706.5h10M464 706.5h3M468 706.5h2M472 706.5h1M476 706.5h1M503 706.5h2M506 706.5h15M306 707.5h2M319 707.5h5M331 707.5h10M346 707.5h45M395 707.5h15M417 707.5h11M492 707.5h11M505 707.5h1M518 707.5h2M305 708.5h1M316 708.5h3M326 708.5h5M336 708.5h10M349 708.5h39M389 708.5h1M391 708.5h15M410 708.5h10M428 708.5h8M484 708.5h8M506 708.5h12M520 708.5h1M305 709.5h1M314 709.5h2M323 709.5h3M331 709.5h5M340 709.5h9M352 709.5h37M390 709.5h12M406 709.5h8M420 709.5h5M436 709.5h7M477 709.5h7M497 709.5h1M499 709.5h7M514 709.5h7M304 710.5h1M313 710.5h1M320 710.5h3M327 710.5h4M334 710.5h6M342 710.5h10M353 710.5h46M400 710.5h1M402 710.5h8M414 710.5h7M425 710.5h7M443 710.5h11M456 710.5h1M467 710.5h1M470 710.5h7M492 710.5h5M498 710.5h1M506 710.5h8M304 711.5h1M312 711.5h1M318 711.5h2M324 711.5h3M330 711.5h4M337 711.5h5M345 711.5h8M354 711.5h1M356 711.5h44M401 711.5h8M410 711.5h7M421 711.5h5M432 711.5h6M454 711.5h2M457 711.5h10M468 711.5h2M486 711.5h1M488 711.5h4M499 711.5h7M511 711.5h10M303 712.5h1M310 712.5h2M316 712.5h2M322 712.5h2M327 712.5h3M334 712.5h3M339 712.5h6M346 712.5h8M355 712.5h51M409 712.5h5M417 712.5h4M426 712.5h5M438 712.5h5M481 712.5h5M487 712.5h1M495 712.5h4M506 712.5h5M517 712.5h4M303 713.5h1M309 713.5h1M315 713.5h1M320 713.5h2M325 713.5h2M330 713.5h4M335 713.5h4M341 713.5h5M347 713.5h51M399 713.5h14M414 713.5h6M421 713.5h6M431 713.5h5M443 713.5h7M477 713.5h4M491 713.5h4M500 713.5h6M510 713.5h7M302 714.5h1M309 714.5h1M314 714.5h1M319 714.5h1M323 714.5h2M328 714.5h2M332 714.5h3M337 714.5h4M342 714.5h5M349 714.5h56M406 714.5h5M413 714.5h4M420 714.5h4M427 714.5h4M436 714.5h5M450 714.5h11M463 714.5h2M466 714.5h11M488 714.5h3M496 714.5h4M506 714.5h4M514 714.5h7M302 715.5h1M308 715.5h1M313 715.5h1M317 715.5h2M322 715.5h1M326 715.5h2M330 715.5h2M334 715.5h3M339 715.5h3M343 715.5h61M405 715.5h5M411 715.5h5M417 715.5h4M424 715.5h4M431 715.5h4M441 715.5h5M461 715.5h2M465 715.5h1M484 715.5h4M493 715.5h3M502 715.5h4M510 715.5h4M518 715.5h3M302 716.5h1M308 716.5h1M312 716.5h1M316 716.5h1M320 716.5h2M324 716.5h2M328 716.5h2M332 716.5h2M336 716.5h3M340 716.5h3M345 716.5h4M350 716.5h53M404 716.5h5M410 716.5h4M416 716.5h4M421 716.5h4M428 716.5h4M435 716.5h4M446 716.5h7M478 716.5h6M490 716.5h3M499 716.5h3M506 716.5h4M513 716.5h5M302 717.5h1M307 717.5h1M312 717.5h1M315 717.5h1M319 717.5h1M323 717.5h1M326 717.5h2M330 717.5h2M334 717.5h2M337 717.5h3M341 717.5h72M414 717.5h4M420 717.5h4M425 717.5h4M432 717.5h3M439 717.5h4M453 717.5h8M471 717.5h1M473 717.5h5M488 717.5h2M495 717.5h4M502 717.5h4M509 717.5h4M516 717.5h5M302 718.5h1M307 718.5h1M311 718.5h1M315 718.5h1M318 718.5h1M321 718.5h2M325 718.5h1M328 718.5h2M331 718.5h3M335 718.5h2M338 718.5h3M342 718.5h3M346 718.5h4M351 718.5h57M409 718.5h8M418 718.5h3M424 718.5h3M429 718.5h3M435 718.5h4M443 718.5h6M461 718.5h10M472 718.5h1M484 718.5h4M492 718.5h3M499 718.5h3M506 718.5h3M512 718.5h4M519 718.5h2M302 719.5h1M306 719.5h1M310 719.5h1M314 719.5h1M317 719.5h1M320 719.5h1M323 719.5h2M327 719.5h1M330 719.5h1M333 719.5h2M336 719.5h2M339 719.5h3M343 719.5h3M347 719.5h4M352 719.5h4M357 719.5h50M408 719.5h4M413 719.5h3M417 719.5h3M421 719.5h4M427 719.5h3M432 719.5h4M439 719.5h4M449 719.5h5M481 719.5h3M489 719.5h3M496 719.5h3M503 719.5h3M508 719.5h4M514 719.5h5M302 720.5h1M306 720.5h1M310 720.5h1M313 720.5h1M316 720.5h1M319 720.5h1M323 720.5h1M325 720.5h2M328 720.5h2M331 720.5h2M334 720.5h2M337 720.5h2M341 720.5h2M344 720.5h3M348 720.5h63M412 720.5h3M416 720.5h3M420 720.5h3M425 720.5h3M430 720.5h2M436 720.5h3M443 720.5h4M454 720.5h7M474 720.5h2M477 720.5h4M488 720.5h1M494 720.5h2M500 720.5h3M506 720.5h2M511 720.5h3M517 720.5h4M302 721.5h1M306 721.5h1M309 721.5h1M312 721.5h1M316 721.5h1M319 721.5h1M321 721.5h2M324 721.5h1M327 721.5h1M330 721.5h1M332 721.5h2M335 721.5h2M338 721.5h6M345 721.5h57M403 721.5h3M407 721.5h3M411 721.5h3M415 721.5h3M419 721.5h3M423 721.5h3M428 721.5h3M432 721.5h4M439 721.5h4M447 721.5h6M461 721.5h13M476 721.5h1M484 721.5h4M492 721.5h2M498 721.5h2M503 721.5h3M508 721.5h3M514 721.5h3M519 721.5h2M301 722.5h1M305 722.5h1M309 722.5h1M312 722.5h1M315 722.5h1M318 722.5h1M320 722.5h1M323 722.5h1M326 722.5h1M328 722.5h2M331 722.5h1M334 722.5h1M336 722.5h2M339 722.5h2M342 722.5h6M349 722.5h3M353 722.5h60M414 722.5h3M418 722.5h3M422 722.5h3M426 722.5h3M431 722.5h3M436 722.5h3M443 722.5h4M453 722.5h4M481 722.5h3M489 722.5h3M496 722.5h2M501 722.5h2M506 722.5h2M511 722.5h3M516 722.5h3M301 723.5h1M305 723.5h1M308 723.5h1M312 723.5h1M314 723.5h1M317 723.5h1M320 723.5h1M322 723.5h1M325 723.5h1M327 723.5h1M330 723.5h1M332 723.5h2M335 723.5h1M337 723.5h2M340 723.5h2M343 723.5h2M346 723.5h63M410 723.5h6M417 723.5h3M421 723.5h2M425 723.5h2M429 723.5h2M434 723.5h2M439 723.5h4M447 723.5h3M457 723.5h8M477 723.5h4M488 723.5h1M493 723.5h3M499 723.5h2M503 723.5h3M508 723.5h3M513 723.5h3M518 723.5h3M301 724.5h1M305 724.5h1M308 724.5h1M311 724.5h1M314 724.5h1M316 724.5h1M319 724.5h1M321 724.5h1M324 724.5h1M326 724.5h1M328 724.5h2M331 724.5h1M333 724.5h2M336 724.5h1M338 724.5h2M341 724.5h2M344 724.5h2M347 724.5h2M350 724.5h7M358 724.5h47M406 724.5h6M413 724.5h2M416 724.5h2M420 724.5h2M423 724.5h2M427 724.5h2M431 724.5h3M436 724.5h3M443 724.5h3M450 724.5h4M465 724.5h12M485 724.5h3M492 724.5h1M497 724.5h2M501 724.5h2M506 724.5h2M510 724.5h3M515 724.5h3M301 725.5h1M305 725.5h1M308 725.5h1M311 725.5h1M313 725.5h1M316 725.5h1M318 725.5h1M320 725.5h1M323 725.5h1M325 725.5h1M327 725.5h1M330 725.5h1M332 725.5h1M334 725.5h2M337 725.5h1M339 725.5h2M342 725.5h2M345 725.5h8M354 725.5h43M398 725.5h3M402 725.5h6M409 725.5h2M412 725.5h2M415 725.5h2M418 725.5h3M422 725.5h2M425 725.5h3M429 725.5h3M434 725.5h2M439 725.5h3M446 725.5h4M454 725.5h6M481 725.5h4M489 725.5h3M495 725.5h2M500 725.5h1M504 725.5h2M508 725.5h2M513 725.5h2M517 725.5h4M301 726.5h1M305 726.5h1M308 726.5h1M310 726.5h1M313 726.5h1M315 726.5h1M318 726.5h1M320 726.5h1M322 726.5h1M324 726.5h1M326 726.5h1M329 726.5h1M331 726.5h1M333 726.5h1M335 726.5h2M338 726.5h1M340 726.5h2M343 726.5h4M348 726.5h2M351 726.5h3M355 726.5h3M359 726.5h4M364 726.5h28M393 726.5h11M405 726.5h2M408 726.5h2M411 726.5h2M414 726.5h6M421 726.5h2M424 726.5h2M428 726.5h2M432 726.5h2M436 726.5h3M442 726.5h4M450 726.5h4M460 726.5h5M478 726.5h3M488 726.5h1M493 726.5h2M498 726.5h2M502 726.5h2M506 726.5h2M510 726.5h3M515 726.5h2M519 726.5h2M301 727.5h1M305 727.5h1M307 727.5h1M310 727.5h1M312 727.5h1M315 727.5h1M317 727.5h1M319 727.5h1M321 727.5h1M323 727.5h1M326 727.5h1M328 727.5h1M330 727.5h1M332 727.5h1M334 727.5h1M336 727.5h2M339 727.5h1M341 727.5h4M346 727.5h2M349 727.5h2M352 727.5h44M397 727.5h3M401 727.5h2M404 727.5h2M407 727.5h9M417 727.5h2M420 727.5h1M423 727.5h2M426 727.5h2M430 727.5h2M434 727.5h2M439 727.5h3M446 727.5h3M454 727.5h3M465 727.5h13M485 727.5h3M492 727.5h1M496 727.5h2M500 727.5h2M505 727.5h1M509 727.5h1M513 727.5h2M517 727.5h2M301 728.5h1M304 728.5h1M307 728.5h1M310 728.5h1M312 728.5h1M314 728.5h1M316 728.5h1M319 728.5h1M321 728.5h1M323 728.5h1M325 728.5h1M327 728.5h1M329 728.5h1M331 728.5h1M333 728.5h1M335 728.5h1M337 728.5h4M342 728.5h1M344 728.5h2M347 728.5h2M350 728.5h2M353 728.5h2M356 728.5h3M360 728.5h4M365 728.5h21M387 728.5h12M400 728.5h9M410 728.5h2M413 728.5h2M416 728.5h1M419 728.5h1M421 728.5h3M425 728.5h2M428 728.5h2M432 728.5h2M436 728.5h3M442 728.5h3M449 728.5h3M457 728.5h4M483 728.5h2M490 728.5h2M495 728.5h1M499 728.5h1M503 728.5h2M507 728.5h2M511 728.5h2M515 728.5h2M519 728.5h2M301 729.5h1M304 729.5h1M307 729.5h1M309 729.5h1M312 729.5h1M314 729.5h1M316 729.5h1M318 729.5h1M320 729.5h1M322 729.5h1M324 729.5h1M326 729.5h1M328 729.5h1M330 729.5h1M332 729.5h1M334 729.5h1M336 729.5h1M338 729.5h1M340 729.5h2M343 729.5h1M345 729.5h2M348 729.5h8M357 729.5h3M361 729.5h4M366 729.5h19M386 729.5h5M392 729.5h3M396 729.5h6M403 729.5h2M406 729.5h2M409 729.5h2M412 729.5h2M415 729.5h1M417 729.5h2M420 729.5h2M424 729.5h1M427 729.5h1M430 729.5h2M434 729.5h2M439 729.5h2M445 729.5h2M452 729.5h3M461 729.5h4M480 729.5h3M488 729.5h2M493 729.5h2M498 729.5h1M502 729.5h1M505 729.5h2M509 729.5h2M513 729.5h2M517 729.5h2M301 730.5h1M304 730.5h1M307 730.5h1M309 730.5h1M311 730.5h1M313 730.5h1M316 730.5h1M318 730.5h2M321 730.5h1M323 730.5h1M325 730.5h1M327 730.5h1M329 730.5h1M331 730.5h1M333 730.5h1M335 730.5h1M337 730.5h1M339 730.5h1M341 730.5h2M344 730.5h1M346 730.5h2M349 730.5h1M351 730.5h2M354 730.5h12M367 730.5h17M385 730.5h5M391 730.5h3M395 730.5h3M399 730.5h2M402 730.5h2M405 730.5h2M408 730.5h2M411 730.5h2M414 730.5h1M416 730.5h2M419 730.5h2M422 730.5h2M425 730.5h2M428 730.5h2M432 730.5h2M436 730.5h2M441 730.5h2M447 730.5h3M455 730.5h3M465 730.5h15M486 730.5h2M492 730.5h1M496 730.5h2M500 730.5h2M504 730.5h1M507 730.5h2M511 730.5h2M515 730.5h2M519 730.5h2M301 731.5h1M304 731.5h1M307 731.5h1M309 731.5h1M311 731.5h1M313 731.5h1M315 731.5h1M317 731.5h1M319 731.5h1M321 731.5h1M323 731.5h2M326 731.5h1M328 731.5h1M330 731.5h1M332 731.5h1M334 731.5h1M336 731.5h1M338 731.5h1M340 731.5h1M342 731.5h2M345 731.5h1M347 731.5h4M352 731.5h2M355 731.5h2M358 731.5h3M363 731.5h4M369 731.5h14M384 731.5h5M390 731.5h3M394 731.5h3M398 731.5h2M401 731.5h2M404 731.5h2M407 731.5h2M410 731.5h2M413 731.5h1M415 731.5h2M418 731.5h2M421 731.5h1M424 731.5h1M427 731.5h1M430 731.5h2M434 731.5h2M438 731.5h2M443 731.5h3M450 731.5h3M458 731.5h3M485 731.5h1M491 731.5h1M495 731.5h1M499 731.5h1M503 731.5h1M506 731.5h1M510 731.5h1M513 731.5h2M517 731.5h2M301 732.5h1M304 732.5h1M306 732.5h1M309 732.5h1M311 732.5h1M313 732.5h1M315 732.5h1M317 732.5h1M319 732.5h2M322 732.5h1M324 732.5h1M326 732.5h2M329 732.5h1M331 732.5h1M333 732.5h1M335 732.5h1M337 732.5h1M339 732.5h1M341 732.5h1M343 732.5h4M348 732.5h1M350 732.5h2M353 732.5h2M356 732.5h2M360 732.5h3M364 732.5h5M371 732.5h9M383 732.5h5M389 732.5h3M393 732.5h3M397 732.5h2M400 732.5h2M403 732.5h2M406 732.5h2M409 732.5h1M412 732.5h1M414 732.5h2M417 732.5h1M420 732.5h1M422 732.5h2M425 732.5h2M428 732.5h2M432 732.5h1M436 732.5h1M440 732.5h2M446 732.5h3M453 732.5h3M461 732.5h4M482 732.5h3M489 732.5h2M494 732.5h1M498 732.5h1M502 732.5h1M505 732.5h1M508 732.5h2M512 732.5h1M515 732.5h2M519 732.5h2M301 733.5h1M304 733.5h1M306 733.5h1M308 733.5h1M311 733.5h1M313 733.5h2M316 733.5h1M318 733.5h1M320 733.5h1M322 733.5h2M325 733.5h1M327 733.5h1M329 733.5h2M332 733.5h1M334 733.5h1M336 733.5h1M338 733.5h1M340 733.5h1M342 733.5h1M344 733.5h1M346 733.5h2M349 733.5h1M351 733.5h2M354 733.5h2M357 733.5h3M361 733.5h3M365 733.5h6M380 733.5h6M388 733.5h3M392 733.5h3M396 733.5h2M399 733.5h2M402 733.5h2M405 733.5h2M408 733.5h1M410 733.5h2M413 733.5h1M416 733.5h1M418 733.5h1M421 733.5h1M424 733.5h1M427 733.5h1M430 733.5h1M433 733.5h2M437 733.5h2M442 733.5h2M449 733.5h1M456 733.5h2M465 733.5h3M480 733.5h2M488 733.5h1M493 733.5h1M497 733.5h1M500 733.5h2M504 733.5h1M507 733.5h1M511 733.5h1M514 733.5h1M518 733.5h1M301 734.5h1M304 734.5h1M306 734.5h1M308 734.5h1M310 734.5h1M312 734.5h1M314 734.5h1M316 734.5h1M318 734.5h2M321 734.5h1M323 734.5h2M326 734.5h1M328 734.5h1M330 734.5h2M333 734.5h1M335 734.5h1M337 734.5h1M339 734.5h1M341 734.5h1M343 734.5h1M345 734.5h1M347 734.5h2M350 734.5h1M352 734.5h2M355 734.5h2M358 734.5h3M362 734.5h3M368 734.5h16M386 734.5h3M391 734.5h3M395 734.5h2M398 734.5h2M401 734.5h2M404 734.5h2M407 734.5h1M409 734.5h1M412 734.5h1M414 734.5h2M417 734.5h1M419 734.5h2M422 734.5h1M425 734.5h1M428 734.5h1M431 734.5h1M435 734.5h1M439 734.5h1M444 734.5h2M450 734.5h3M458 734.5h3M468 734.5h8M477 734.5h3M486 734.5h2M492 734.5h1M496 734.5h1M499 734.5h1M503 734.5h1M506 734.5h1M510 734.5h1M513 734.5h1M516 734.5h2M520 734.5h1M301 735.5h1M304 735.5h1M306 735.5h1M308 735.5h1M310 735.5h1M312 735.5h1M314 735.5h1M316 735.5h2M319 735.5h1M321 735.5h2M324 735.5h1M326 735.5h2M329 735.5h1M331 735.5h2M334 735.5h1M336 735.5h1M338 735.5h1M340 735.5h1M342 735.5h1M344 735.5h1M346 735.5h1M349 735.5h1M351 735.5h1M354 735.5h1M356 735.5h2M360 735.5h2M364 735.5h4M371 735.5h9M384 735.5h4M389 735.5h3M394 735.5h1M397 735.5h2M400 735.5h2M403 735.5h1M406 735.5h1M408 735.5h1M410 735.5h2M413 735.5h1M416 735.5h1M418 735.5h1M420 735.5h1M423 735.5h1M426 735.5h1M429 735.5h1M432 735.5h1M436 735.5h1M440 735.5h2M446 735.5h1M453 735.5h1M461 735.5h1M476 735.5h1M485 735.5h1M491 735.5h1M495 735.5h1M499 735.5h1M502 735.5h1M505 735.5h1M508 735.5h1M512 735.5h1M515 735.5h1M518 735.5h2M301 736.5h1M304 736.5h1M306 736.5h1M308 736.5h1M310 736.5h1M312 736.5h1M314 736.5h2M317 736.5h1M319 736.5h2M322 736.5h2M325 736.5h1M327 736.5h2M330 736.5h1M332 736.5h2M335 736.5h1M337 736.5h1M339 736.5h1M341 736.5h1M343 736.5h1M345 736.5h1M347 736.5h2M350 736.5h1M352 736.5h2M355 736.5h1M358 736.5h2M362 736.5h2M367 736.5h4M380 736.5h5M388 736.5h2M392 736.5h2M395 736.5h2M399 736.5h1M402 736.5h1M404 736.5h1M407 736.5h1M409 736.5h1M412 736.5h1M414 736.5h1M416 736.5h1M419 736.5h1M421 736.5h1M424 736.5h1M427 736.5h1M430 736.5h1M433 736.5h1M437 736.5h1M442 736.5h1M447 736.5h2M454 736.5h2M462 736.5h2M484 736.5h1M490 736.5h1M494 736.5h1M498 736.5h1M501 736.5h1M504 736.5h1M507 736.5h1M511 736.5h1M514 736.5h1M517 736.5h1M301 737.5h1M304 737.5h1M306 737.5h1M308 737.5h1M310 737.5h1M312 737.5h2M315 737.5h1M317 737.5h2M320 737.5h2M323 737.5h2M326 737.5h1M328 737.5h2M331 737.5h1M333 737.5h2M336 737.5h1M338 737.5h1M340 737.5h1M342 737.5h1M344 737.5h1M346 737.5h1M349 737.5h1M351 737.5h1M354 737.5h1M356 737.5h2M360 737.5h2M364 737.5h3M370 737.5h11M385 737.5h3M390 737.5h2M394 737.5h1M397 737.5h1M400 737.5h1M403 737.5h1M405 737.5h1M408 737.5h1M410 737.5h1M413 737.5h1M415 737.5h1M417 737.5h1M420 737.5h1M422 737.5h1M425 737.5h1M428 737.5h1M431 737.5h1M434 737.5h1M438 737.5h1M443 737.5h1M449 737.5h1M456 737.5h1M464 737.5h1M482 737.5h2M489 737.5h1M493 737.5h1M497 737.5h1M500 737.5h1M503 737.5h1M507 737.5h1M510 737.5h1M513 737.5h1M516 737.5h1M520 737.5h1M301 738.5h1M304 738.5h1M306 738.5h1M308 738.5h1M310 738.5h2M313 738.5h1M315 738.5h2M318 738.5h2M321 738.5h2M324 738.5h1M326 738.5h2M329 738.5h2M332 738.5h1M334 738.5h1M336 738.5h2M339 738.5h1M341 738.5h1M343 738.5h1M345 738.5h1M348 738.5h1M350 738.5h1M352 738.5h2M355 738.5h1M358 738.5h2M362 738.5h2M367 738.5h3M381 738.5h4M388 738.5h2M392 738.5h1M395 738.5h2M398 738.5h1M401 738.5h1M404 738.5h1M406 738.5h1M409 738.5h1M411 738.5h1M413 738.5h1M416 738.5h1M418 738.5h1M420 738.5h1M423 738.5h1M425 738.5h1M428 738.5h1M431 738.5h1M435 738.5h1M439 738.5h1M444 738.5h2M450 738.5h2M457 738.5h1M465 738.5h3M481 738.5h1M488 738.5h1M492 738.5h1M496 738.5h1M500 738.5h1M503 738.5h1M506 738.5h1M509 738.5h1M512 738.5h1M515 738.5h1M519 738.5h1M301 739.5h1M303 739.5h1M306 739.5h1M308 739.5h2M311 739.5h1M313 739.5h1M315 739.5h2M318 739.5h2M321 739.5h2M324 739.5h2M327 739.5h2M330 739.5h2M333 739.5h1M335 739.5h1M337 739.5h1M339 739.5h1M341 739.5h1M343 739.5h1M345 739.5h1M347 739.5h1M349 739.5h1M351 739.5h1M354 739.5h1M357 739.5h1M360 739.5h2M364 739.5h3M371 739.5h9M385 739.5h2M390 739.5h1M393 739.5h2M397 739.5h1M399 739.5h1M402 739.5h1M405 739.5h1M407 739.5h1M409 739.5h1M412 739.5h1M414 739.5h1M416 739.5h1M419 739.5h1M421 739.5h1M423 739.5h1M426 739.5h1M429 739.5h1M432 739.5h1M436 739.5h1M440 739.5h1M445 739.5h1M452 739.5h1M458 739.5h2M468 739.5h1M480 739.5h1M487 739.5h1M492 739.5h1M496 739.5h1M499 739.5h1M502 739.5h1M505 739.5h1M508 739.5h1M511 739.5h1M514 739.5h1M518 739.5h1M301 740.5h1M303 740.5h1M305 740.5h1M308 740.5h2M311 740.5h1M313 740.5h2M316 740.5h2M319 740.5h2M322 740.5h2M325 740.5h2M328 740.5h2M331 740.5h1M333 740.5h2M336 740.5h1M338 740.5h1M340 740.5h1M342 740.5h1M344 740.5h1M346 740.5h1M348 740.5h1M351 740.5h1M353 740.5h1M356 740.5h1M359 740.5h1M363 740.5h1M368 740.5h3M380 740.5h3M387 740.5h1M391 740.5h1M395 740.5h1M398 740.5h1M400 740.5h1M403 740.5h1M405 740.5h1M408 740.5h1M410 740.5h1M412 740.5h1M414 740.5h1M417 740.5h1M419 740.5h1M421 740.5h1M424 740.5h1M427 740.5h1M429 740.5h1M432 740.5h1M436 740.5h1M441 740.5h1M446 740.5h1M452 740.5h1M460 740.5h1M469 740.5h3M477 740.5h3M487 740.5h1M491 740.5h1M495 740.5h1M498 740.5h1M502 740.5h1M505 740.5h1M508 740.5h1M511 740.5h1M514 740.5h1M517 740.5h1M301 741.5h1M303 741.5h1M305 741.5h1M307 741.5h1M309 741.5h1M311 741.5h2M314 741.5h1M316 741.5h2M319 741.5h3M323 741.5h2M326 741.5h2M329 741.5h2M332 741.5h1M334 741.5h1M336 741.5h2M339 741.5h1M341 741.5h1M343 741.5h1M345 741.5h1M347 741.5h1M350 741.5h1M352 741.5h1M355 741.5h1M358 741.5h1M361 741.5h2M366 741.5h2M383 741.5h2M388 741.5h1M392 741.5h1M395 741.5h1M398 741.5h1M401 741.5h1M403 741.5h1M406 741.5h1M408 741.5h1M410 741.5h1M413 741.5h1M415 741.5h1M417 741.5h1M419 741.5h1M422 741.5h1M424 741.5h1M427 741.5h1M430 741.5h1M433 741.5h1M437 741.5h1M441 741.5h1M446 741.5h1M453 741.5h1M460 741.5h1M472 741.5h1M474 741.5h2M477 741.5h1M486 741.5h1M491 741.5h1M495 741.5h1M498 741.5h1M501 741.5h1M504 741.5h1M507 741.5h1M510 741.5h1M513 741.5h1M516 741.5h1M301 742.5h1M303 742.5h1M305 742.5h1M307 742.5h1M309 742.5h1M311 742.5h2M314 742.5h2M317 742.5h2M320 742.5h2M323 742.5h3M327 742.5h2M330 742.5h1M332 742.5h2M335 742.5h1M337 742.5h1M339 742.5h1M341 742.5h1M343 742.5h1M345 742.5h1M347 742.5h1M349 742.5h1M351 742.5h1M354 742.5h1M357 742.5h1M360 742.5h1M365 742.5h1M372 742.5h5M385 742.5h1M389 742.5h1M393 742.5h1M396 742.5h1M399 742.5h1M401 742.5h1M404 742.5h1M406 742.5h1M408 742.5h1M411 742.5h1M413 742.5h1M415 742.5h1M417 742.5h1M420 742.5h1M422 742.5h1M424 742.5h1M427 742.5h1M430 742.5h1M433 742.5h1M437 742.5h1M441 742.5h1M446 742.5h1M453 742.5h1M460 742.5h1M472 742.5h2M476 742.5h1M485 742.5h1M490 742.5h1M494 742.5h1M498 742.5h1M501 742.5h1M504 742.5h1M507 742.5h1M510 742.5h1M513 742.5h1M516 742.5h1M519 742.5h1M301 743.5h1M303 743.5h1M305 743.5h1M307 743.5h1M309 743.5h1M311 743.5h2M314 743.5h2M317 743.5h3M321 743.5h2M324 743.5h2M327 743.5h2M330 743.5h2M333 743.5h1M335 743.5h2M338 743.5h1M340 743.5h1M342 743.5h1M344 743.5h1M346 743.5h1M348 743.5h1M351 743.5h1M353 743.5h1M356 743.5h1M360 743.5h1M364 743.5h1M370 743.5h2M377 743.5h3M386 743.5h1M390 743.5h1M393 743.5h1M396 743.5h1M399 743.5h1M402 743.5h1M404 743.5h1M406 743.5h1M409 743.5h1M411 743.5h1M413 743.5h1M415 743.5h1M417 743.5h1M420 743.5h1M422 743.5h1M424 743.5h1M427 743.5h1M430 743.5h1M433 743.5h1M437 743.5h1M441 743.5h1M446 743.5h1M453 743.5h1M460 743.5h1M485 743.5h1M490 743.5h1M494 743.5h1M497 743.5h1M500 743.5h1M503 743.5h1M506 743.5h1M509 743.5h1M512 743.5h1M515 743.5h1M519 743.5h1M301 744.5h1M303 744.5h1M305 744.5h1M307 744.5h1M309 744.5h1M311 744.5h2M314 744.5h3M318 744.5h3M322 744.5h2M325 744.5h2M328 744.5h2M331 744.5h2M334 744.5h1M336 744.5h1M338 744.5h1M340 744.5h1M342 744.5h1M344 744.5h1M346 744.5h1M348 744.5h1M350 744.5h1M353 744.5h1M356 744.5h1M359 744.5h1M363 744.5h1M369 744.5h1M380 744.5h1M386 744.5h1M390 744.5h1M394 744.5h1M397 744.5h1M399 744.5h1M402 744.5h1M404 744.5h1M406 744.5h1M409 744.5h1M411 744.5h1M413 744.5h1M415 744.5h1M417 744.5h1M420 744.5h1M422 744.5h1M424 744.5h1M427 744.5h1M430 744.5h1M433 744.5h1M437 744.5h1M441 744.5h1M446 744.5h1M453 744.5h1M460 744.5h1M485 744.5h1M490 744.5h1M494 744.5h1M497 744.5h1M500 744.5h1M503 744.5h1M506 744.5h1M509 744.5h1M512 744.5h1M515 744.5h1M518 744.5h1M301 745.5h1M303 745.5h1M305 745.5h1M307 745.5h1M309 745.5h2M312 745.5h2M315 745.5h2M318 745.5h3M322 745.5h3M326 745.5h2M329 745.5h2M332 745.5h1M334 745.5h2M337 745.5h1M339 745.5h1M341 745.5h1M343 745.5h1M345 745.5h1M348 745.5h1M350 745.5h1M353 745.5h1M355 745.5h1M358 745.5h1M362 745.5h1M368 745.5h1M380 745.5h1M386 745.5h1M390 745.5h1M394 745.5h1M397 745.5h1M399 745.5h1M402 745.5h1M404 745.5h1M406 745.5h1M409 745.5h1M411 745.5h1M413 745.5h1M415 745.5h1M417 745.5h1M420 745.5h1M422 745.5h1M424 745.5h1M427 745.5h1M430 745.5h1M433 745.5h1M436 745.5h1M441 745.5h1M446 745.5h1M452 745.5h1M460 745.5h1M484 745.5h1M489 745.5h1M493 745.5h1M497 745.5h1M500 745.5h1M503 745.5h1M506 745.5h1M509 745.5h1M512 745.5h1M515 745.5h1M518 745.5h1M301 746.5h1M303 746.5h1M305 746.5h1M307 746.5h1M309 746.5h2M312 746.5h2M315 746.5h3M319 746.5h3M323 746.5h2M326 746.5h2M329 746.5h2M332 746.5h2M335 746.5h1M337 746.5h1M339 746.5h1M341 746.5h1M343 746.5h1M345 746.5h1M347 746.5h1M350 746.5h1M352 746.5h1M355 746.5h1M358 746.5h1M362 746.5h1M368 746.5h1M380 746.5h1M386 746.5h1M390 746.5h1M394 746.5h1M396 746.5h1M399 746.5h1M401 746.5h1M404 746.5h1M406 746.5h1M408 746.5h1M410 746.5h1M413 746.5h1M415 746.5h1M417 746.5h1M419 746.5h1M422 746.5h1M424 746.5h1M427 746.5h1M429 746.5h1M432 746.5h1M436 746.5h1M440 746.5h1M445 746.5h1M451 746.5h1M458 746.5h2M471 746.5h3M484 746.5h1M489 746.5h1M493 746.5h1M497 746.5h1M500 746.5h1M503 746.5h1M506 746.5h1M509 746.5h1M512 746.5h1M515 746.5h1M518 746.5h1M301 747.5h1M303 747.5h1M305 747.5h1M307 747.5h1M309 747.5h2M312 747.5h2M315 747.5h3M319 747.5h3M323 747.5h3M327 747.5h2M330 747.5h2M333 747.5h1M335 747.5h1M337 747.5h1M339 747.5h1M341 747.5h1M343 747.5h1M345 747.5h1M347 747.5h1M350 747.5h1M352 747.5h1M355 747.5h1M358 747.5h1M362 747.5h1M368 747.5h1M380 747.5h1M386 747.5h1M390 747.5h1M393 747.5h1M396 747.5h1M399 747.5h1M401 747.5h1M404 747.5h1M406 747.5h1M408 747.5h1M410 747.5h1M412 747.5h1M415 747.5h1M417 747.5h1M419 747.5h1M421 747.5h1M424 747.5h1M426 747.5h1M429 747.5h1M432 747.5h1M435 747.5h1M439 747.5h1M444 747.5h1M450 747.5h1M457 747.5h1M468 747.5h3M474 747.5h3M485 747.5h1M489 747.5h1M493 747.5h1M497 747.5h1M500 747.5h1M503 747.5h1M506 747.5h1M509 747.5h1M512 747.5h1M515 747.5h1M518 747.5h1M301 748.5h1M303 748.5h1M305 748.5h1M307 748.5h1M309 748.5h2M312 748.5h3M316 748.5h3M320 748.5h3M324 748.5h2M327 748.5h2M330 748.5h2M333 748.5h1M335 748.5h2M338 748.5h1M340 748.5h1M343 748.5h1M345 748.5h1M347 748.5h1M349 748.5h1M352 748.5h1M355 748.5h1M358 748.5h1M362 748.5h1M368 748.5h1M379 748.5h1M385 748.5h1M389 748.5h1M393 748.5h1M396 748.5h1M398 748.5h1M401 748.5h1M403 748.5h1M405 748.5h1M408 748.5h1M410 748.5h1M412 748.5h1M414 748.5h1M416 748.5h1M419 748.5h1M421 748.5h1M423 748.5h1M426 748.5h1M428 748.5h1M431 748.5h1M435 748.5h1M438 748.5h1M443 748.5h1M449 748.5h1M456 748.5h1M465 748.5h3M477 748.5h1M485 748.5h1M489 748.5h1M493 748.5h1M497 748.5h1M500 748.5h1M503 748.5h1M506 748.5h1M509 748.5h1M512 748.5h1M515 748.5h1M518 748.5h1M301 749.5h1M303 749.5h1M305 749.5h1M307 749.5h2M310 749.5h1M312 749.5h3M316 749.5h3M320 749.5h3M324 749.5h3M328 749.5h2M331 749.5h1M333 749.5h2M336 749.5h1M338 749.5h1M340 749.5h1M342 749.5h1M345 749.5h1M347 749.5h1M349 749.5h1M352 749.5h1M355 749.5h1M358 749.5h1M363 749.5h1M369 749.5h3M375 749.5h4M384 749.5h1M388 749.5h1M392 749.5h1M395 749.5h1M398 749.5h1M400 749.5h1M403 749.5h1M405 749.5h1M407 749.5h1M409 749.5h1M411 749.5h1M414 749.5h1M416 749.5h1M418 749.5h1M420 749.5h1M423 749.5h1M425 749.5h1M428 749.5h1M430 749.5h1M434 749.5h1M437 749.5h1M442 749.5h1M447 749.5h2M454 749.5h2M463 749.5h2M478 749.5h1M485 749.5h1M490 749.5h1M493 749.5h1M497 749.5h1M500 749.5h1M503 749.5h1M506 749.5h1M509 749.5h1M512 749.5h1M515 749.5h1M518 749.5h1M301 750.5h1M303 750.5h1M305 750.5h1M307 750.5h2M310 750.5h2M313 750.5h2M316 750.5h4M321 750.5h3M325 750.5h2M328 750.5h2M331 750.5h2M334 750.5h1M336 750.5h1M338 750.5h1M340 750.5h1M342 750.5h1M345 750.5h1M347 750.5h1M350 750.5h1M352 750.5h1M355 750.5h1M359 750.5h1M372 750.5h3M383 750.5h1M387 750.5h1M391 750.5h1M394 750.5h1M397 750.5h1M399 750.5h1M402 750.5h1M404 750.5h1M406 750.5h1M409 750.5h1M411 750.5h1M413 750.5h1M415 750.5h1M417 750.5h1M420 750.5h1M422 750.5h1M424 750.5h1M427 750.5h1M430 750.5h1M433 750.5h1M436 750.5h1M440 750.5h2M445 750.5h2M452 750.5h2M461 750.5h2M479 750.5h1M485 750.5h1M490 750.5h1M494 750.5h1M497 750.5h1M500 750.5h1M503 750.5h1M506 750.5h1M509 750.5h1M512 750.5h1M515 750.5h1M519 750.5h1M301 751.5h1M303 751.5h1M305 751.5h1M307 751.5h2M310 751.5h2M313 751.5h3M317 751.5h3M321 751.5h3M325 751.5h3M329 751.5h1M331 751.5h2M334 751.5h1M336 751.5h1M338 751.5h1M340 751.5h1M342 751.5h1M345 751.5h1M347 751.5h1M350 751.5h1M353 751.5h1M356 751.5h1M360 751.5h1M364 751.5h2M380 751.5h3M386 751.5h1M390 751.5h1M393 751.5h1M396 751.5h1M398 751.5h1M401 751.5h1M403 751.5h1M406 751.5h1M408 751.5h1M410 751.5h1M412 751.5h1M414 751.5h1M417 751.5h1M419 751.5h1M421 751.5h1M423 751.5h1M426 751.5h1M432 751.5h1M435 751.5h1M439 751.5h1M443 751.5h2M450 751.5h2M458 751.5h3M480 751.5h1M486 751.5h1M490 751.5h1M494 751.5h1M497 751.5h1M500 751.5h1M503 751.5h1M506 751.5h1M509 751.5h1M512 751.5h1M516 751.5h1M519 751.5h1M301 752.5h1M303 752.5h1M305 752.5h1M307 752.5h2M310 752.5h2M313 752.5h3M317 752.5h3M321 752.5h3M325 752.5h3M329 752.5h1M331 752.5h2M334 752.5h1M336 752.5h1M338 752.5h1M340 752.5h1M343 752.5h1M345 752.5h1M348 752.5h1M350 752.5h1M353 752.5h1M357 752.5h1M361 752.5h1M366 752.5h3M376 752.5h4M384 752.5h2M388 752.5h2M392 752.5h1M395 752.5h1M397 752.5h1M400 752.5h1M402 752.5h1M407 752.5h1M409 752.5h1M411 752.5h1M413 752.5h1M416 752.5h1M418 752.5h1M420 752.5h1M425 752.5h1M428 752.5h1M431 752.5h1M434 752.5h1M437 752.5h2M442 752.5h1M447 752.5h3M454 752.5h4M481 752.5h1M486 752.5h1M490 752.5h1M494 752.5h1M497 752.5h1M500 752.5h1M504 752.5h1M507 752.5h1M510 752.5h1M513 752.5h1M516 752.5h1M301 753.5h1M303 753.5h1M305 753.5h1M307 753.5h2M310 753.5h2M313 753.5h3M317 753.5h4M322 753.5h3M326 753.5h2M329 753.5h1M331 753.5h2M334 753.5h1M336 753.5h1M338 753.5h1M341 753.5h1M343 753.5h1M345 753.5h1M348 753.5h1M351 753.5h1M354 753.5h1M358 753.5h1M362 753.5h2M369 753.5h7M381 753.5h3M386 753.5h2M390 753.5h2M393 753.5h2M396 753.5h1M399 753.5h1M401 753.5h1M403 753.5h2M406 753.5h1M408 753.5h1M410 753.5h1M412 753.5h1M417 753.5h1M419 753.5h1M421 753.5h2M424 753.5h1M426 753.5h2M429 753.5h2M432 753.5h2M436 753.5h1M440 753.5h2M445 753.5h2M452 753.5h2M464 753.5h9M481 753.5h1M487 753.5h1M491 753.5h1M494 753.5h1M498 753.5h1M501 753.5h1M504 753.5h1M507 753.5h1M510 753.5h1M513 753.5h1M517 753.5h1M301 754.5h1M303 754.5h1M305 754.5h1M307 754.5h2M310 754.5h2M313 754.5h3M317 754.5h4M322 754.5h3M326 754.5h2M329 754.5h1M331 754.5h2M334 754.5h1M336 754.5h1M338 754.5h1M341 754.5h1M343 754.5h1M346 754.5h1M349 754.5h1M352 754.5h1M355 754.5h1M359 754.5h1M364 754.5h3M377 754.5h4M384 754.5h2M388 754.5h2M391 754.5h2M394 754.5h2M397 754.5h2M400 754.5h1M402 754.5h1M405 754.5h1M407 754.5h1M409 754.5h1M411 754.5h1M413 754.5h2M416 754.5h1M418 754.5h1M420 754.5h1M423 754.5h1M425 754.5h1M428 754.5h1M431 754.5h1M434 754.5h2M438 754.5h2M443 754.5h2M449 754.5h3M458 754.5h6M473 754.5h3M482 754.5h1M487 754.5h1M491 754.5h1M495 754.5h1M498 754.5h1M501 754.5h1M504 754.5h1M507 754.5h1M511 754.5h1M514 754.5h1M518 754.5h1M301 755.5h1M303 755.5h1M305 755.5h1M307 755.5h2M310 755.5h2M313 755.5h3M317 755.5h4M322 755.5h3M326 755.5h2M329 755.5h1M331 755.5h2M334 755.5h1M337 755.5h1M339 755.5h1M341 755.5h1M344 755.5h1M346 755.5h1M349 755.5h1M353 755.5h1M356 755.5h1M360 755.5h2M367 755.5h10M381 755.5h3M386 755.5h2M389 755.5h2M393 755.5h1M396 755.5h1M398 755.5h2M401 755.5h1M403 755.5h4M408 755.5h1M410 755.5h1M412 755.5h1M414 755.5h2M417 755.5h1M419 755.5h1M421 755.5h2M424 755.5h1M427 755.5h1M429 755.5h2M432 755.5h2M436 755.5h2M440 755.5h3M446 755.5h3M454 755.5h4M476 755.5h2M483 755.5h1M488 755.5h1M492 755.5h1M495 755.5h1M499 755.5h1M502 755.5h1M505 755.5h1M508 755.5h1M511 755.5h1M515 755.5h1M519 755.5h1M301 756.5h1M303 756.5h1M305 756.5h1M307 756.5h2M310 756.5h2M313 756.5h3M317 756.5h4M322 756.5h3M326 756.5h2M329 756.5h1M331 756.5h1M333 756.5h1M335 756.5h1M337 756.5h1M339 756.5h1M342 756.5h1M344 756.5h1M347 756.5h1M354 756.5h1M357 756.5h2M362 756.5h5M376 756.5h5M383 756.5h3M387 756.5h2M391 756.5h2M394 756.5h4M399 756.5h2M402 756.5h1M404 756.5h1M406 756.5h2M409 756.5h1M411 756.5h1M413 756.5h1M415 756.5h2M418 756.5h1M420 756.5h1M423 756.5h1M425 756.5h2M428 756.5h1M431 756.5h1M434 756.5h2M438 756.5h2M443 756.5h3M450 756.5h4M478 756.5h1M484 756.5h1M488 756.5h1M492 756.5h1M496 756.5h1M499 756.5h1M502 756.5h1M505 756.5h1M509 756.5h1M512 756.5h1M516 756.5h1M520 756.5h1M301 757.5h1M303 757.5h1M305 757.5h1M307 757.5h2M310 757.5h2M313 757.5h3M317 757.5h4M322 757.5h3M326 757.5h2M329 757.5h1M331 757.5h1M333 757.5h1M335 757.5h1M337 757.5h1M340 757.5h1M342 757.5h1M345 757.5h1M348 757.5h1M351 757.5h2M355 757.5h2M359 757.5h3M367 757.5h9M379 757.5h4M384 757.5h3M388 757.5h3M392 757.5h2M395 757.5h1M397 757.5h2M400 757.5h4M405 757.5h1M407 757.5h4M412 757.5h1M414 757.5h1M416 757.5h2M419 757.5h1M421 757.5h2M424 757.5h1M426 757.5h2M429 757.5h2M432 757.5h2M436 757.5h2M440 757.5h3M446 757.5h4M457 757.5h15M479 757.5h1M485 757.5h1M489 757.5h1M493 757.5h1M496 757.5h1M500 757.5h1M503 757.5h1M506 757.5h1M509 757.5h1M513 757.5h1M517 757.5h1M301 758.5h1M303 758.5h1M305 758.5h1M307 758.5h2M310 758.5h2M313 758.5h3M317 758.5h4M322 758.5h2M325 758.5h2M328 758.5h2M331 758.5h1M333 758.5h1M335 758.5h1M338 758.5h1M340 758.5h1M343 758.5h1M346 758.5h1M349 758.5h2M353 758.5h2M357 758.5h3M362 758.5h17M381 758.5h3M385 758.5h3M389 758.5h8M398 758.5h4M403 758.5h4M408 758.5h1M410 758.5h4M415 758.5h1M417 758.5h4M422 758.5h2M425 758.5h1M427 758.5h2M430 758.5h2M434 758.5h2M438 758.5h2M443 758.5h3M451 758.5h6M472 758.5h2M480 758.5h1M485 758.5h1M490 758.5h1M493 758.5h1M497 758.5h1M500 758.5h1M503 758.5h1M507 758.5h1M510 758.5h1M514 758.5h1M518 758.5h1M301 759.5h1M303 759.5h1M305 759.5h1M307 759.5h2M310 759.5h2M313 759.5h3M317 759.5h3M321 759.5h3M325 759.5h2M328 759.5h1M330 759.5h2M334 759.5h1M336 759.5h1M338 759.5h1M341 759.5h1M344 759.5h1M347 759.5h2M351 759.5h2M355 759.5h2M360 759.5h4M375 759.5h6M382 759.5h3M386 759.5h3M390 759.5h2M393 759.5h2M396 759.5h4M401 759.5h4M406 759.5h4M411 759.5h1M413 759.5h4M418 759.5h1M420 759.5h2M423 759.5h2M426 759.5h1M428 759.5h2M432 759.5h2M436 759.5h2M440 759.5h3M447 759.5h4M474 759.5h3M481 759.5h1M486 759.5h1M490 759.5h1M494 759.5h1M497 759.5h1M501 759.5h1M504 759.5h1M508 759.5h1M511 759.5h1M515 759.5h1M519 759.5h2M301 760.5h1M303 760.5h1M305 760.5h1M307 760.5h2M310 760.5h2M313 760.5h3M317 760.5h3M321 760.5h3M325 760.5h2M328 760.5h1M330 760.5h1M332 760.5h1M334 760.5h1M336 760.5h1M339 760.5h1M342 760.5h1M345 760.5h2M349 760.5h2M353 760.5h2M357 760.5h4M364 760.5h11M377 760.5h5M383 760.5h3M387 760.5h11M399 760.5h4M404 760.5h4M409 760.5h6M416 760.5h4M421 760.5h2M424 760.5h2M427 760.5h1M430 760.5h2M433 760.5h3M438 760.5h2M443 760.5h4M452 760.5h17M477 760.5h1M482 760.5h1M487 760.5h1M491 760.5h1M495 760.5h1M498 760.5h1M502 760.5h1M505 760.5h1M509 760.5h1M512 760.5h1M516 760.5h2M301 761.5h1M303 761.5h1M305 761.5h1M307 761.5h2M310 761.5h2M313 761.5h2M316 761.5h4M321 761.5h2M324 761.5h2M327 761.5h2M330 761.5h1M332 761.5h1M335 761.5h1M337 761.5h1M340 761.5h1M343 761.5h2M347 761.5h2M351 761.5h2M355 761.5h3M361 761.5h16M378 761.5h12M391 761.5h2M394 761.5h2M397 761.5h4M402 761.5h4M407 761.5h4M412 761.5h1M414 761.5h4M419 761.5h2M422 761.5h2M425 761.5h2M428 761.5h2M431 761.5h2M435 761.5h3M440 761.5h3M446 761.5h6M469 761.5h3M478 761.5h1M483 761.5h1M488 761.5h1M492 761.5h1M495 761.5h1M499 761.5h1M502 761.5h1M506 761.5h1M510 761.5h1M513 761.5h2M518 761.5h2M301 762.5h1M303 762.5h1M305 762.5h1M307 762.5h2M310 762.5h2M313 762.5h2M316 762.5h3M320 762.5h3M324 762.5h2M327 762.5h1M329 762.5h1M331 762.5h1M333 762.5h1M335 762.5h1M338 762.5h1M341 762.5h2M345 762.5h2M349 762.5h2M353 762.5h3M358 762.5h8M369 762.5h9M379 762.5h4M384 762.5h3M388 762.5h16M405 762.5h11M417 762.5h2M420 762.5h8M429 762.5h2M432 762.5h3M436 762.5h4M442 762.5h4M453 762.5h10M472 762.5h2M479 762.5h1M484 762.5h1M489 762.5h1M492 762.5h1M496 762.5h1M500 762.5h1M503 762.5h1M507 762.5h1M511 762.5h1M515 762.5h2M520 762.5h1M301 763.5h1M303 763.5h1M305 763.5h1M307 763.5h1M309 763.5h2M312 763.5h3M316 763.5h3M320 763.5h2M323 763.5h2M326 763.5h2M329 763.5h1M331 763.5h1M334 763.5h1M339 763.5h2M343 763.5h2M347 763.5h2M351 763.5h3M356 763.5h6M366 763.5h3M372 763.5h7M380 763.5h19M400 763.5h9M410 763.5h4M415 763.5h7M423 763.5h2M426 763.5h3M430 763.5h2M434 763.5h2M439 763.5h3M446 763.5h7M463 763.5h5M474 763.5h2M480 763.5h2M485 763.5h1M489 763.5h1M493 763.5h1M497 763.5h1M501 763.5h1M504 763.5h1M508 763.5h1M512 763.5h2M517 763.5h1M301 764.5h1M303 764.5h1M305 764.5h1M307 764.5h1M309 764.5h2M312 764.5h2M315 764.5h3M319 764.5h3M323 764.5h2M326 764.5h1M328 764.5h1M330 764.5h1M332 764.5h1M335 764.5h1M337 764.5h2M341 764.5h2M345 764.5h2M349 764.5h3M354 764.5h5M362 764.5h10M373 764.5h39M413 764.5h4M418 764.5h2M421 764.5h2M424 764.5h2M427 764.5h3M431 764.5h3M435 764.5h4M441 764.5h5M468 764.5h3M476 764.5h1M482 764.5h1M486 764.5h1M490 764.5h1M494 764.5h1M498 764.5h1M502 764.5h1M505 764.5h1M509 764.5h2M514 764.5h1M518 764.5h3M301 765.5h1M303 765.5h1M305 765.5h1M307 765.5h1M309 765.5h2M312 765.5h2M315 765.5h3M319 765.5h2M322 765.5h2M325 765.5h1M327 765.5h2M331 765.5h1M333 765.5h1M336 765.5h1M339 765.5h2M343 765.5h2M347 765.5h3M352 765.5h5M359 765.5h14M374 765.5h33M408 765.5h7M416 765.5h8M425 765.5h2M428 765.5h3M432 765.5h3M437 765.5h4M445 765.5h19M471 765.5h2M477 765.5h2M483 765.5h1M487 765.5h1M491 765.5h1M495 765.5h1M499 765.5h1M503 765.5h1M506 765.5h2M511 765.5h1M515 765.5h3M301 766.5h1M303 766.5h1M305 766.5h1M307 766.5h1M309 766.5h2M312 766.5h2M315 766.5h2M318 766.5h2M321 766.5h2M324 766.5h2M327 766.5h1M329 766.5h1M331 766.5h1M334 766.5h1M337 766.5h2M341 766.5h2M345 766.5h3M350 766.5h4M357 766.5h61M419 766.5h2M422 766.5h6M429 766.5h3M434 766.5h3M439 766.5h6M464 766.5h4M473 766.5h2M479 766.5h1M484 766.5h1M488 766.5h1M492 766.5h1M496 766.5h1M500 766.5h1M504 766.5h1M508 766.5h1M512 766.5h2M518 766.5h2M301 767.5h1M303 767.5h1M305 767.5h1M307 767.5h1M309 767.5h2M312 767.5h1M314 767.5h3M318 767.5h2M321 767.5h2M324 767.5h1M326 767.5h1M328 767.5h1M330 767.5h1M332 767.5h1M335 767.5h2M339 767.5h2M343 767.5h3M348 767.5h4M354 767.5h56M411 767.5h11M423 767.5h2M426 767.5h3M430 767.5h4M435 767.5h4M443 767.5h18M468 767.5h2M475 767.5h1M480 767.5h1M485 767.5h1M489 767.5h1M493 767.5h1M497 767.5h1M501 767.5h1M505 767.5h1M509 767.5h2M514 767.5h3M520 767.5h1M301 768.5h1M303 768.5h1M305 768.5h1M307 768.5h1M309 768.5h1M311 768.5h2M314 768.5h2M317 768.5h2M320 768.5h2M323 768.5h1M325 768.5h2M328 768.5h1M331 768.5h1M333 768.5h2M337 768.5h2M341 768.5h3M346 768.5h4M352 768.5h61M414 768.5h2M417 768.5h2M420 768.5h6M427 768.5h3M432 768.5h3M438 768.5h5M461 768.5h4M470 768.5h2M476 768.5h1M481 768.5h1M486 768.5h1M490 768.5h1M494 768.5h1M498 768.5h1M502 768.5h1M506 768.5h2M511 768.5h2M517 768.5h3M301 769.5h1M303 769.5h1M305 769.5h1M307 769.5h1M309 769.5h1M311 769.5h2M314 769.5h2M317 769.5h2M320 769.5h1M322 769.5h2M325 769.5h1M327 769.5h1M332 769.5h1M335 769.5h2M339 769.5h2M344 769.5h4M350 769.5h73M424 769.5h3M428 769.5h4M433 769.5h5M441 769.5h17M465 769.5h2M472 769.5h1M477 769.5h1M482 769.5h1M487 769.5h1M491 769.5h1M495 769.5h1M499 769.5h1M503 769.5h2M508 769.5h2M513 769.5h3M520 769.5h1M301 770.5h1M303 770.5h1M305 770.5h1M307 770.5h1M309 770.5h1M311 770.5h1M313 770.5h2M316 770.5h2M319 770.5h2M322 770.5h1M324 770.5h1M326 770.5h1M328 770.5h1M330 770.5h2M333 770.5h2M337 770.5h2M341 770.5h4M348 770.5h8M365 770.5h55M421 770.5h3M425 770.5h3M429 770.5h4M435 770.5h6M458 770.5h4M467 770.5h2M473 770.5h2M478 770.5h2M483 770.5h1M487 770.5h1M492 770.5h1M496 770.5h1M500 770.5h1M505 770.5h1M510 770.5h2M516 770.5h3M301 771.5h1M303 771.5h1M305 771.5h1M307 771.5h1M309 771.5h1M311 771.5h1M313 771.5h2M316 771.5h1M318 771.5h2M321 771.5h1M323 771.5h1M325 771.5h1M327 771.5h1M329 771.5h1M332 771.5h1M335 771.5h2M339 771.5h4M345 771.5h7M356 771.5h73M431 771.5h4M439 771.5h16M462 771.5h3M469 771.5h2M475 771.5h1M480 771.5h1M484 771.5h1M488 771.5h1M493 771.5h1M497 771.5h1M501 771.5h2M506 771.5h2M512 771.5h3M519 771.5h2M301 772.5h1M303 772.5h1M306 772.5h1M308 772.5h2M311 772.5h1M313 772.5h1M315 772.5h2M318 772.5h1M320 772.5h2M323 772.5h1M325 772.5h1M328 772.5h1M330 772.5h1M333 772.5h2M337 772.5h3M343 772.5h6M352 772.5h13M366 772.5h51M418 772.5h3M422 772.5h3M427 772.5h4M433 772.5h6M455 772.5h4M465 772.5h2M471 772.5h1M476 772.5h1M481 772.5h1M485 772.5h1M489 772.5h1M494 772.5h1M498 772.5h2M503 772.5h2M508 772.5h3M515 772.5h4M301 773.5h1M303 773.5h1M306 773.5h1M308 773.5h1M310 773.5h2M313 773.5h1M315 773.5h1M317 773.5h2M320 773.5h1M322 773.5h1M324 773.5h1M326 773.5h1M329 773.5h1M331 773.5h2M335 773.5h3M340 773.5h6M349 773.5h65M415 773.5h7M423 773.5h4M428 773.5h5M436 773.5h17M459 773.5h3M467 773.5h1M472 773.5h1M477 773.5h1M482 773.5h1M486 773.5h1M490 773.5h2M495 773.5h1M500 773.5h1M505 773.5h2M511 773.5h3M519 773.5h2M301 774.5h1M304 774.5h1M306 774.5h1M308 774.5h1M310 774.5h1M312 774.5h2M315 774.5h1M317 774.5h1M319 774.5h1M321 774.5h1M323 774.5h1M325 774.5h1M327 774.5h1M330 774.5h1M333 774.5h3M338 774.5h5M346 774.5h72M419 774.5h4M424 774.5h4M430 774.5h6M453 774.5h4M462 774.5h2M468 774.5h2M473 774.5h2M478 774.5h1M483 774.5h1M487 774.5h1M492 774.5h1M496 774.5h1M501 774.5h2M507 774.5h2M514 774.5h4M301 775.5h1M304 775.5h1M306 775.5h1M308 775.5h1M310 775.5h1M312 775.5h1M314 775.5h1M316 775.5h2M319 775.5h1M321 775.5h1M323 775.5h1M326 775.5h1M328 775.5h2M331 775.5h2M336 775.5h3M343 775.5h76M420 775.5h4M425 775.5h5M432 775.5h19M457 775.5h3M464 775.5h2M470 775.5h1M475 775.5h1M479 775.5h1M484 775.5h1M488 775.5h1M493 775.5h1M497 775.5h2M503 775.5h2M509 775.5h3M518 775.5h3M301 776.5h1M304 776.5h1M306 776.5h1M308 776.5h1M310 776.5h1M312 776.5h1M314 776.5h1M316 776.5h1M318 776.5h1M320 776.5h1M322 776.5h1M324 776.5h1M327 776.5h1M330 776.5h2M333 776.5h4M339 776.5h72M412 776.5h3M416 776.5h4M421 776.5h4M427 776.5h5M451 776.5h4M460 776.5h2M466 776.5h1M471 776.5h1M476 776.5h1M480 776.5h1M485 776.5h1M489 776.5h1M494 776.5h1M499 776.5h2M505 776.5h2M512 776.5h5M301 777.5h1M304 777.5h1M306 777.5h1M308 777.5h1M310 777.5h1M313 777.5h1M315 777.5h2M319 777.5h1M321 777.5h1M323 777.5h1M325 777.5h1M328 777.5h2M332 777.5h2M337 777.5h6M357 777.5h9M367 777.5h54M422 777.5h5M429 777.5h20M455 777.5h3M462 777.5h1M467 777.5h2M472 777.5h1M477 777.5h1M481 777.5h1M486 777.5h1M490 777.5h2M495 777.5h2M501 777.5h1M507 777.5h3M517 777.5h4M301 778.5h1M304 778.5h1M306 778.5h1M309 778.5h1M311 778.5h1M313 778.5h1M315 778.5h1M317 778.5h1M319 778.5h1M321 778.5h1M324 778.5h1M326 778.5h2M330 778.5h2M334 778.5h5M343 778.5h14M359 778.5h49M409 778.5h3M413 778.5h3M417 778.5h5M423 778.5h6M435 778.5h5M449 778.5h4M458 778.5h1M463 778.5h2M469 778.5h1M473 778.5h1M478 778.5h1M482 778.5h1M487 778.5h1M492 778.5h1M497 778.5h1M502 778.5h3M510 778.5h5M301 779.5h1M304 779.5h1M306 779.5h1M309 779.5h1M311 779.5h1M313 779.5h1M315 779.5h1M318 779.5h1M320 779.5h1M322 779.5h1M325 779.5h1M328 779.5h2M332 779.5h3M339 779.5h20M360 779.5h57M419 779.5h4M426 779.5h9M440 779.5h7M453 779.5h2M459 779.5h2M465 779.5h1M470 779.5h1M474 779.5h1M479 779.5h1M483 779.5h1M488 779.5h1M493 779.5h1M498 779.5h2M505 779.5h3M515 779.5h6M301 780.5h1M304 780.5h1M307 780.5h1M309 780.5h1M311 780.5h1M314 780.5h1M316 780.5h1M318 780.5h1M321 780.5h1M323 780.5h1M326 780.5h2M330 780.5h2M335 780.5h25M361 780.5h40M402 780.5h7M410 780.5h3M414 780.5h5M420 780.5h6M431 780.5h8M447 780.5h4M455 780.5h2M461 780.5h1M466 780.5h1M471 780.5h1M475 780.5h1M480 780.5h1M484 780.5h1M489 780.5h1M494 780.5h2M500 780.5h2M508 780.5h4M301 781.5h1M304 781.5h1M307 781.5h1M309 781.5h1M312 781.5h1M314 781.5h1M316 781.5h1M319 781.5h1M322 781.5h1M324 781.5h2M328 781.5h2M332 781.5h5M352 781.5h9M362 781.5h5M368 781.5h8M377 781.5h10M388 781.5h6M395 781.5h10M406 781.5h8M416 781.5h4M423 781.5h8M439 781.5h6M451 781.5h2M457 781.5h2M462 781.5h2M467 781.5h1M472 781.5h1M476 781.5h1M481 781.5h1M485 781.5h1M490 781.5h1M496 781.5h1M502 781.5h3M512 781.5h9M301 782.5h1M304 782.5h1M307 782.5h1M310 782.5h1M312 782.5h1M315 782.5h1M317 782.5h1M320 782.5h1M323 782.5h1M326 782.5h1M330 782.5h3M337 782.5h15M355 782.5h17M373 782.5h7M381 782.5h17M399 782.5h7M407 782.5h3M411 782.5h5M417 782.5h6M428 782.5h9M445 782.5h3M453 782.5h2M459 782.5h1M464 782.5h1M468 782.5h1M473 782.5h1M477 782.5h1M482 782.5h1M486 782.5h1M491 782.5h2M497 782.5h2M505 782.5h3M301 783.5h1M304 783.5h1M307 783.5h1M310 783.5h1M312 783.5h1M315 783.5h1M318 783.5h1M321 783.5h1M324 783.5h1M327 783.5h3M333 783.5h22M357 783.5h5M363 783.5h28M392 783.5h10M403 783.5h4M408 783.5h3M413 783.5h4M420 783.5h8M437 783.5h6M448 783.5h2M455 783.5h1M460 783.5h1M465 783.5h1M469 783.5h1M474 783.5h1M478 783.5h1M483 783.5h1M487 783.5h2M493 783.5h1M499 783.5h2M508 783.5h13M301 784.5h1M304 784.5h1M307 784.5h1M310 784.5h1M313 784.5h1M316 784.5h1M319 784.5h1M322 784.5h1M325 784.5h2M330 784.5h4M349 784.5h8M358 784.5h5M364 784.5h4M369 784.5h15M385 784.5h10M396 784.5h3M400 784.5h3M404 784.5h4M409 784.5h4M415 784.5h5M427 784.5h6M443 784.5h2M450 784.5h2M456 784.5h1M461 784.5h1M466 784.5h1M470 784.5h1M474 784.5h1M479 784.5h1M484 784.5h1M489 784.5h1M494 784.5h2M501 784.5h3M301 785.5h1M305 785.5h1M308 785.5h1M311 785.5h1M313 785.5h1M316 785.5h1M320 785.5h1M323 785.5h1M327 785.5h3M334 785.5h15M352 785.5h6M360 785.5h4M365 785.5h4M370 785.5h3M374 785.5h3M378 785.5h3M382 785.5h6M389 785.5h3M393 785.5h3M397 785.5h3M401 785.5h3M406 785.5h3M411 785.5h4M419 785.5h8M433 785.5h7M445 785.5h3M452 785.5h1M457 785.5h1M462 785.5h1M467 785.5h1M471 785.5h1M475 785.5h1M480 785.5h1M485 785.5h1M490 785.5h1M496 785.5h2M504 785.5h5M301 786.5h1M305 786.5h1M308 786.5h1M311 786.5h1M314 786.5h1M317 786.5h1M321 786.5h1M324 786.5h2M330 786.5h5M343 786.5h9M355 786.5h5M361 786.5h4M366 786.5h4M371 786.5h3M375 786.5h3M379 786.5h6M386 786.5h3M390 786.5h3M394 786.5h3M398 786.5h3M402 786.5h4M407 786.5h4M414 786.5h5M440 786.5h2M448 786.5h1M453 786.5h2M458 786.5h1M463 786.5h1M467 786.5h1M472 786.5h1M476 786.5h1M481 786.5h1M486 786.5h1M491 786.5h1M498 786.5h2M509 786.5h12M302 787.5h1M305 787.5h1M308 787.5h1M311 787.5h1M315 787.5h1M318 787.5h1M322 787.5h1M326 787.5h3M335 787.5h8M349 787.5h6M357 787.5h4M362 787.5h4M367 787.5h4M372 787.5h3M376 787.5h6M383 787.5h3M387 787.5h3M391 787.5h3M395 787.5h3M399 787.5h3M404 787.5h3M410 787.5h4M419 787.5h16M442 787.5h2M449 787.5h1M454 787.5h1M459 787.5h1M464 787.5h1M468 787.5h1M472 787.5h1M477 787.5h1M481 787.5h1M487 787.5h1M492 787.5h2M500 787.5h3M302 788.5h1M305 788.5h1M309 788.5h1M312 788.5h1M315 788.5h1M319 788.5h1M323 788.5h2M329 788.5h20M352 788.5h5M359 788.5h3M364 788.5h3M368 788.5h4M373 788.5h3M377 788.5h2M381 788.5h2M384 788.5h3M388 788.5h3M392 788.5h3M396 788.5h3M401 788.5h3M406 788.5h4M414 788.5h5M435 788.5h3M444 788.5h2M450 788.5h1M455 788.5h1M460 788.5h1M464 788.5h1M469 788.5h1M473 788.5h1M478 788.5h1M482 788.5h1M488 788.5h1M494 788.5h2M503 788.5h6M515 788.5h6M302 789.5h1M305 789.5h1M309 789.5h1M313 789.5h1M316 789.5h1M320 789.5h2M325 789.5h3M346 789.5h6M354 789.5h5M360 789.5h4M365 789.5h3M370 789.5h3M374 789.5h3M378 789.5h3M382 789.5h2M386 789.5h2M390 789.5h2M394 789.5h2M398 789.5h3M403 789.5h3M410 789.5h4M438 789.5h2M446 789.5h1M451 789.5h1M456 789.5h1M461 789.5h1M465 789.5h1M469 789.5h1M474 789.5h1M478 789.5h1M483 789.5h1M489 789.5h1M496 789.5h2M509 789.5h6M302 790.5h1M305 790.5h1M309 790.5h1M313 790.5h1M317 790.5h1M322 790.5h2M328 790.5h18M350 790.5h4M357 790.5h3M362 790.5h3M367 790.5h3M371 790.5h3M375 790.5h3M379 790.5h3M383 790.5h3M387 790.5h3M391 790.5h3M396 790.5h2M401 790.5h2M407 790.5h3M416 790.5h16M440 790.5h1M447 790.5h1M452 790.5h1M457 790.5h1M461 790.5h1M465 790.5h1M470 790.5h1M474 790.5h1M479 790.5h1M484 790.5h1M490 790.5h1M498 790.5h3M302 791.5h1M306 791.5h1M310 791.5h1M314 791.5h1M318 791.5h2M324 791.5h2M345 791.5h5M353 791.5h4M359 791.5h3M364 791.5h3M369 791.5h2M373 791.5h2M377 791.5h2M381 791.5h2M385 791.5h2M389 791.5h2M394 791.5h2M398 791.5h3M404 791.5h3M412 791.5h4M432 791.5h2M441 791.5h1M447 791.5h1M452 791.5h1M457 791.5h1M462 791.5h1M466 791.5h1M470 791.5h1M475 791.5h1M480 791.5h1M485 791.5h1M491 791.5h2M501 791.5h5M514 791.5h7M302 792.5h1M306 792.5h1M310 792.5h1M315 792.5h1M320 792.5h1M326 792.5h6M337 792.5h8M349 792.5h4M356 792.5h3M361 792.5h3M366 792.5h3M370 792.5h3M375 792.5h2M379 792.5h2M383 792.5h2M387 792.5h2M391 792.5h3M396 792.5h2M402 792.5h2M409 792.5h3M434 792.5h1M442 792.5h1M448 792.5h1M453 792.5h1M457 792.5h1M462 792.5h1M466 792.5h1M471 792.5h1M475 792.5h1M481 792.5h1M486 792.5h1M493 792.5h2M506 792.5h8M302 793.5h1M306 793.5h1M311 793.5h1M316 793.5h1M321 793.5h3M332 793.5h5M345 793.5h4M353 793.5h3M359 793.5h2M364 793.5h2M368 793.5h2M373 793.5h2M377 793.5h2M381 793.5h2M385 793.5h2M390 793.5h1M394 793.5h2M400 793.5h2M407 793.5h2M435 793.5h1M442 793.5h1M448 793.5h1M453 793.5h1M458 793.5h1M462 793.5h1M467 793.5h1M471 793.5h1M476 793.5h1M481 793.5h1M487 793.5h1M495 793.5h2M302 794.5h1M307 794.5h1M312 794.5h1M317 794.5h1M324 794.5h3M339 794.5h6M349 794.5h4M356 794.5h3M361 794.5h3M366 794.5h2M370 794.5h3M375 794.5h2M379 794.5h2M383 794.5h2M388 794.5h2M393 794.5h1M398 794.5h2M405 794.5h2M435 794.5h1M443 794.5h1M448 794.5h1M453 794.5h1M458 794.5h1M462 794.5h1M467 794.5h1M472 794.5h1M477 794.5h1M482 794.5h1M488 794.5h2M497 794.5h3M516 794.5h5M302 795.5h1M307 795.5h1M312 795.5h1M318 795.5h2M327 795.5h12M346 795.5h3M353 795.5h3M359 795.5h2M364 795.5h2M369 795.5h1M373 795.5h2M377 795.5h2M382 795.5h1M387 795.5h1M391 795.5h2M397 795.5h1M404 795.5h1M435 795.5h1M443 795.5h1M448 795.5h1M453 795.5h1M458 795.5h1M463 795.5h1M467 795.5h1M472 795.5h1M477 795.5h1M483 795.5h1M490 795.5h1M500 795.5h16M302 796.5h1M307 796.5h1M313 796.5h1M320 796.5h2M341 796.5h5M350 796.5h3M356 796.5h3M362 796.5h2M367 796.5h2M371 796.5h2M376 796.5h1M381 796.5h1M385 796.5h2M390 796.5h1M396 796.5h1M403 796.5h1M435 796.5h1M442 796.5h1M448 796.5h1M453 796.5h1M458 796.5h1M463 796.5h1M467 796.5h1M472 796.5h1M478 796.5h1M484 796.5h1M491 796.5h2M302 797.5h1M308 797.5h1M314 797.5h2M322 797.5h5M335 797.5h6M347 797.5h3M354 797.5h2M360 797.5h2M365 797.5h2M370 797.5h1M375 797.5h1M379 797.5h2M384 797.5h1M389 797.5h1M395 797.5h1M402 797.5h1M434 797.5h1M442 797.5h1M448 797.5h1M453 797.5h1M458 797.5h1M463 797.5h1M468 797.5h1M473 797.5h1M478 797.5h1M485 797.5h1M493 797.5h2M519 797.5h2M303 798.5h1M309 798.5h1M316 798.5h1M327 798.5h8M344 798.5h3M352 798.5h2M358 798.5h2M364 798.5h1M369 798.5h1M374 798.5h1M378 798.5h1M383 798.5h1M389 798.5h1M395 798.5h1M402 798.5h1M433 798.5h1M441 798.5h1M447 798.5h1M452 798.5h1M458 798.5h1M463 798.5h1M468 798.5h1M473 798.5h1M479 798.5h1M485 798.5h1M495 798.5h2M515 798.5h4M303 799.5h1M309 799.5h1M317 799.5h2M340 799.5h4M350 799.5h2M356 799.5h2M362 799.5h2M367 799.5h2M373 799.5h1M378 799.5h1M383 799.5h1M388 799.5h1M394 799.5h1M403 799.5h1M431 799.5h2M440 799.5h1M446 799.5h1M452 799.5h1M457 799.5h1M462 799.5h1M468 799.5h1M473 799.5h1M479 799.5h1M486 799.5h1M497 799.5h5M510 799.5h5M303 800.5h1M310 800.5h1M319 800.5h4M335 800.5h5M347 800.5h3M355 800.5h1M361 800.5h1M366 800.5h1M372 800.5h1M377 800.5h1M382 800.5h1M388 800.5h1M395 800.5h1M404 800.5h2M428 800.5h3M438 800.5h2M445 800.5h1M451 800.5h1M457 800.5h1M462 800.5h1M467 800.5h1M473 800.5h1M480 800.5h1M487 800.5h2M502 800.5h8M303 801.5h1M311 801.5h1M323 801.5h12M345 801.5h2M353 801.5h2M360 801.5h1M365 801.5h1M371 801.5h1M377 801.5h1M382 801.5h1M388 801.5h1M396 801.5h1M406 801.5h4M422 801.5h6M435 801.5h3M443 801.5h2M450 801.5h1M456 801.5h1M461 801.5h1M467 801.5h1M473 801.5h1M480 801.5h1M489 801.5h1M303 802.5h1M312 802.5h2M342 802.5h3M351 802.5h2M358 802.5h2M365 802.5h1M371 802.5h1M376 802.5h1M383 802.5h1M389 802.5h1M397 802.5h2M410 802.5h12M432 802.5h3M441 802.5h2M448 802.5h2M455 802.5h1M461 802.5h1M467 802.5h1M473 802.5h1M481 802.5h1M490 802.5h2M518 802.5h3M304 803.5h1M314 803.5h2M338 803.5h4M349 803.5h2M357 803.5h1M364 803.5h1M370 803.5h1M377 803.5h1M383 803.5h1M390 803.5h2M399 803.5h5M426 803.5h6M438 803.5h3M446 803.5h2M453 803.5h2M460 803.5h1M466 803.5h1M473 803.5h1M481 803.5h1M492 803.5h2M516 803.5h2M304 804.5h1M316 804.5h4M334 804.5h4M348 804.5h1M357 804.5h1M364 804.5h1M371 804.5h1M378 804.5h1M384 804.5h2M392 804.5h4M404 804.5h22M434 804.5h4M443 804.5h3M451 804.5h2M458 804.5h2M466 804.5h1M473 804.5h1M481 804.5h1M494 804.5h4M512 804.5h4M305 805.5h1M320 805.5h14M346 805.5h2M356 805.5h1M364 805.5h1M371 805.5h1M379 805.5h1M386 805.5h3M396 805.5h6M426 805.5h8M439 805.5h4M449 805.5h2M457 805.5h1M464 805.5h1M472 805.5h1M482 805.5h1M498 805.5h14M306 806.5h1M344 806.5h2M355 806.5h1M364 806.5h1M372 806.5h2M380 806.5h3M389 806.5h5M402 806.5h24M434 806.5h5M445 806.5h4M454 806.5h3M463 806.5h1M472 806.5h1M483 806.5h1M307 807.5h1M342 807.5h2M355 807.5h1M365 807.5h1M374 807.5h2M383 807.5h5M394 807.5h12M421 807.5h13M440 807.5h5M451 807.5h3M461 807.5h2M471 807.5h1M483 807.5h1M308 808.5h2M339 808.5h3M355 808.5h1M366 808.5h2M376 808.5h5M388 808.5h9M406 808.5h15M430 808.5h10M446 808.5h5M458 808.5h3M470 808.5h1M484 808.5h1M310 809.5h3M335 809.5h4M356 809.5h1M368 809.5h4M381 809.5h8M397 809.5h33M437 809.5h9M453 809.5h5M468 809.5h2M485 809.5h1M313 810.5h22M357 810.5h3M372 810.5h8M389 810.5h48M445 810.5h8M465 810.5h3M486 810.5h3M520 810.5h1M360 811.5h6M380 811.5h65M458 811.5h7M489 811.5h11M509 811.5h11M366 812.5h33M425 812.5h33M500 812.5h9M399 813.5h26M360 814.5h108M352 815.5h8M374 815.5h76M468 815.5h10M520 815.5h1M348 816.5h4M364 816.5h10M380 816.5h63M450 816.5h10M478 816.5h5M515 816.5h5M345 817.5h3M358 817.5h6M370 817.5h10M382 817.5h58M443 817.5h10M460 817.5h7M483 817.5h3M512 817.5h3M312 818.5h14M343 818.5h2M354 818.5h4M364 818.5h6M373 818.5h9M383 818.5h56M440 818.5h9M453 818.5h6M467 818.5h4M486 818.5h3M509 818.5h3M310 819.5h2M326 819.5h2M342 819.5h1M351 819.5h3M360 819.5h4M367 819.5h6M375 819.5h8M384 819.5h54M439 819.5h8M449 819.5h6M459 819.5h5M471 819.5h3M489 819.5h3M506 819.5h3M308 820.5h2M328 820.5h1M341 820.5h1M349 820.5h2M356 820.5h4M363 820.5h4M370 820.5h5M377 820.5h60M438 820.5h7M447 820.5h5M455 820.5h4M464 820.5h3M474 820.5h3M492 820.5h5M501 820.5h5M520 820.5h1M307 821.5h1M329 821.5h1M340 821.5h1M347 821.5h2M354 821.5h2M360 821.5h3M366 821.5h4M371 821.5h73M445 821.5h5M452 821.5h4M459 821.5h4M467 821.5h3M477 821.5h2M497 821.5h4M518 821.5h2M306 822.5h1M329 822.5h1M339 822.5h1M346 822.5h1M352 822.5h2M357 822.5h3M362 822.5h4M367 822.5h4M373 822.5h4M378 822.5h65M444 822.5h4M450 822.5h4M456 822.5h4M463 822.5h3M470 822.5h3M479 822.5h3M515 822.5h3M305 823.5h1M329 823.5h1M338 823.5h1M344 823.5h2M350 823.5h2M355 823.5h2M360 823.5h2M364 823.5h3M369 823.5h73M443 823.5h4M448 823.5h4M454 823.5h3M460 823.5h2M466 823.5h2M473 823.5h2M482 823.5h1M513 823.5h2M305 824.5h1M329 824.5h1M337 824.5h1M343 824.5h1M348 824.5h2M353 824.5h2M357 824.5h3M361 824.5h3M366 824.5h3M370 824.5h3M374 824.5h4M379 824.5h67M447 824.5h4M452 824.5h3M457 824.5h3M462 824.5h3M468 824.5h2M475 824.5h2M483 824.5h3M511 824.5h2M519 824.5h2M304 825.5h1M329 825.5h1M336 825.5h1M342 825.5h1M347 825.5h1M351 825.5h2M355 825.5h2M359 825.5h2M363 825.5h3M367 825.5h3M371 825.5h3M375 825.5h66M442 825.5h8M451 825.5h3M455 825.5h3M460 825.5h2M465 825.5h2M470 825.5h2M477 825.5h2M486 825.5h1M508 825.5h3M517 825.5h2M304 826.5h1M329 826.5h1M336 826.5h1M341 826.5h1M345 826.5h2M349 826.5h2M353 826.5h2M357 826.5h2M361 826.5h2M364 826.5h3M368 826.5h77M446 826.5h3M450 826.5h3M454 826.5h2M458 826.5h2M462 826.5h2M467 826.5h2M472 826.5h2M479 826.5h1M487 826.5h3M506 826.5h2M515 826.5h2M304 827.5h1M329 827.5h1M335 827.5h1M340 827.5h1M344 827.5h1M348 827.5h1M352 827.5h1M355 827.5h2M359 827.5h2M362 827.5h2M365 827.5h6M372 827.5h72M445 827.5h3M449 827.5h2M453 827.5h2M456 827.5h3M460 827.5h2M464 827.5h2M469 827.5h2M474 827.5h2M480 827.5h2M490 827.5h3M503 827.5h3M513 827.5h2M519 827.5h2M303 828.5h1M315 828.5h3M329 828.5h1M335 828.5h1M339 828.5h1M343 828.5h1M347 828.5h1M350 828.5h2M354 828.5h1M357 828.5h2M360 828.5h2M363 828.5h2M366 828.5h2M369 828.5h78M448 828.5h6M455 828.5h2M459 828.5h2M462 828.5h2M466 828.5h2M471 828.5h1M476 828.5h1M482 828.5h1M493 828.5h10M512 828.5h1M518 828.5h1M303 829.5h1M313 829.5h2M318 829.5h2M329 829.5h1M334 829.5h1M338 829.5h1M342 829.5h1M346 829.5h1M349 829.5h1M352 829.5h2M355 829.5h2M358 829.5h2M361 829.5h2M364 829.5h2M367 829.5h2M370 829.5h2M373 829.5h2M376 829.5h64M441 829.5h9M451 829.5h2M454 829.5h2M457 829.5h2M461 829.5h1M464 829.5h2M468 829.5h2M472 829.5h2M477 829.5h2M483 829.5h2M510 829.5h2M516 829.5h2M303 830.5h1M311 830.5h2M320 830.5h1M329 830.5h1M334 830.5h1M338 830.5h1M341 830.5h1M345 830.5h1M348 830.5h1M351 830.5h1M354 830.5h1M357 830.5h1M359 830.5h2M362 830.5h2M365 830.5h2M368 830.5h75M444 830.5h2M447 830.5h2M450 830.5h2M453 830.5h2M456 830.5h2M459 830.5h2M462 830.5h2M466 830.5h1M470 830.5h1M474 830.5h1M479 830.5h1M485 830.5h2M508 830.5h2M514 830.5h2M519 830.5h2M303 831.5h1M311 831.5h1M321 831.5h1M328 831.5h1M333 831.5h1M337 831.5h1M340 831.5h1M344 831.5h1M347 831.5h1M350 831.5h1M352 831.5h2M355 831.5h2M358 831.5h1M360 831.5h2M363 831.5h2M366 831.5h4M371 831.5h77M449 831.5h2M452 831.5h2M455 831.5h2M458 831.5h1M461 831.5h1M464 831.5h1M467 831.5h2M471 831.5h1M475 831.5h1M480 831.5h2M487 831.5h2M506 831.5h2M513 831.5h1M518 831.5h1M303 832.5h1M310 832.5h1M321 832.5h1M328 832.5h1M333 832.5h1M336 832.5h1M340 832.5h1M343 832.5h1M346 832.5h1M349 832.5h1M351 832.5h1M354 832.5h1M356 832.5h2M359 832.5h1M361 832.5h2M364 832.5h4M369 832.5h4M374 832.5h71M446 832.5h4M451 832.5h2M454 832.5h2M457 832.5h1M459 832.5h2M462 832.5h2M465 832.5h2M469 832.5h1M472 832.5h2M476 832.5h2M482 832.5h1M489 832.5h2M504 832.5h2M512 832.5h1M517 832.5h1M303 833.5h1M309 833.5h1M322 833.5h1M328 833.5h1M332 833.5h1M336 833.5h1M339 833.5h1M342 833.5h1M345 833.5h1M347 833.5h2M350 833.5h1M353 833.5h1M355 833.5h1M357 833.5h2M360 833.5h1M362 833.5h2M365 833.5h1M367 833.5h4M372 833.5h4M377 833.5h65M443 833.5h4M448 833.5h4M453 833.5h2M456 833.5h1M458 833.5h2M461 833.5h1M464 833.5h1M467 833.5h1M470 833.5h1M474 833.5h1M478 833.5h1M483 833.5h1M491 833.5h2M502 833.5h2M510 833.5h2M515 833.5h2M519 833.5h2M303 834.5h1M309 834.5h1M322 834.5h1M328 834.5h1M332 834.5h1M335 834.5h1M338 834.5h1M341 834.5h1M344 834.5h1M347 834.5h1M349 834.5h1M351 834.5h2M354 834.5h1M356 834.5h1M358 834.5h2M361 834.5h1M363 834.5h4M368 834.5h1M370 834.5h69M440 834.5h4M445 834.5h4M450 834.5h1M452 834.5h2M455 834.5h1M457 834.5h1M460 834.5h1M462 834.5h2M465 834.5h1M468 834.5h1M471 834.5h1M475 834.5h1M479 834.5h1M484 834.5h2M493 834.5h9M509 834.5h1M514 834.5h1M518 834.5h1M302 835.5h1M308 835.5h1M322 835.5h1M328 835.5h1M331 835.5h1M335 835.5h1M338 835.5h1M341 835.5h1M343 835.5h1M346 835.5h1M348 835.5h1M350 835.5h1M353 835.5h1M355 835.5h1M357 835.5h1M359 835.5h2M362 835.5h1M364 835.5h1M366 835.5h6M373 835.5h1M375 835.5h66M442 835.5h4M447 835.5h1M449 835.5h4M454 835.5h1M456 835.5h1M458 835.5h2M461 835.5h1M464 835.5h1M466 835.5h2M469 835.5h1M472 835.5h2M476 835.5h1M480 835.5h1M486 835.5h1M508 835.5h1M513 835.5h1M517 835.5h1M302 836.5h1M308 836.5h1M322 836.5h1M327 836.5h1M331 836.5h1M334 836.5h1M337 836.5h1M340 836.5h1M342 836.5h1M345 836.5h1M347 836.5h1M349 836.5h1M352 836.5h1M354 836.5h1M356 836.5h1M358 836.5h1M360 836.5h4M365 836.5h1M367 836.5h1M369 836.5h1M371 836.5h8M380 836.5h56M437 836.5h6M444 836.5h6M451 836.5h1M453 836.5h1M455 836.5h1M457 836.5h2M460 836.5h1M462 836.5h1M465 836.5h1M468 836.5h1M470 836.5h1M474 836.5h1M477 836.5h1M481 836.5h1M487 836.5h1M507 836.5h1M512 836.5h1M516 836.5h1M520 836.5h1M302 837.5h1M307 837.5h1M322 837.5h1M327 837.5h1M331 837.5h1M334 837.5h1M337 837.5h1M339 837.5h1M342 837.5h1M344 837.5h1M346 837.5h1M349 837.5h1M351 837.5h1M353 837.5h1M355 837.5h1M357 837.5h1M359 837.5h1M361 837.5h1M363 837.5h12M376 837.5h1M378 837.5h60M439 837.5h6M446 837.5h1M448 837.5h1M450 837.5h1M452 837.5h1M454 837.5h1M456 837.5h2M459 837.5h1M461 837.5h1M463 837.5h1M466 837.5h1M469 837.5h1M471 837.5h1M475 837.5h1M478 837.5h1M482 837.5h1M488 837.5h2M506 837.5h1M511 837.5h1M515 837.5h1M519 837.5h1M302 838.5h1M307 838.5h1M323 838.5h1M327 838.5h1M331 838.5h1M334 838.5h1M336 838.5h1M339 838.5h1M341 838.5h1M343 838.5h1M346 838.5h1M348 838.5h1M350 838.5h1M352 838.5h1M354 838.5h1M356 838.5h1M358 838.5h1M360 838.5h1M362 838.5h1M364 838.5h1M366 838.5h1M368 838.5h1M370 838.5h1M372 838.5h1M374 838.5h8M383 838.5h4M388 838.5h45M434 838.5h6M441 838.5h1M443 838.5h1M445 838.5h1M447 838.5h10M458 838.5h1M460 838.5h1M462 838.5h1M464 838.5h1M467 838.5h1M469 838.5h1M472 838.5h1M475 838.5h1M479 838.5h1M483 838.5h1M490 838.5h1M504 838.5h2M510 838.5h1M514 838.5h1M518 838.5h1M302 839.5h1M307 839.5h1M323 839.5h1M327 839.5h1M330 839.5h1M333 839.5h1M336 839.5h1M338 839.5h1M340 839.5h1M343 839.5h1M345 839.5h1M347 839.5h1M349 839.5h1M351 839.5h1M353 839.5h1M355 839.5h1M357 839.5h1M359 839.5h1M361 839.5h1M363 839.5h1M365 839.5h1M367 839.5h1M369 839.5h1M371 839.5h7M379 839.5h1M381 839.5h67M449 839.5h1M451 839.5h1M453 839.5h1M455 839.5h1M457 839.5h1M459 839.5h1M461 839.5h1M463 839.5h1M465 839.5h1M468 839.5h1M470 839.5h1M473 839.5h1M476 839.5h1M480 839.5h1M484 839.5h1M491 839.5h1M503 839.5h1M510 839.5h1M514 839.5h1M517 839.5h1M302 840.5h1M306 840.5h1M323 840.5h1M327 840.5h1M330 840.5h1M333 840.5h1M335 840.5h1M338 840.5h1M340 840.5h1M342 840.5h1M344 840.5h1M346 840.5h1M348 840.5h1M350 840.5h1M352 840.5h1M354 840.5h1M356 840.5h1M358 840.5h1M360 840.5h1M362 840.5h1M364 840.5h1M366 840.5h6M373 840.5h1M375 840.5h1M377 840.5h8M386 840.5h4M391 840.5h6M398 840.5h32M431 840.5h4M436 840.5h1M438 840.5h1M440 840.5h1M442 840.5h1M444 840.5h1M446 840.5h1M448 840.5h1M450 840.5h1M452 840.5h1M454 840.5h1M456 840.5h1M458 840.5h1M460 840.5h1M462 840.5h1M464 840.5h1M466 840.5h1M469 840.5h1M471 840.5h1M474 840.5h1M477 840.5h1M481 840.5h1M485 840.5h1M492 840.5h2M502 840.5h1M509 840.5h1M513 840.5h1M517 840.5h1M520 840.5h1M302 841.5h1M306 841.5h1M323 841.5h1M327 841.5h1M330 841.5h1M333 841.5h1M335 841.5h1M337 841.5h1M339 841.5h1M342 841.5h1M344 841.5h1M346 841.5h1M348 841.5h1M350 841.5h2M353 841.5h1M355 841.5h1M357 841.5h1M359 841.5h1M361 841.5h1M363 841.5h1M365 841.5h2M368 841.5h1M370 841.5h1M372 841.5h1M374 841.5h1M376 841.5h1M378 841.5h1M380 841.5h1M382 841.5h1M384 841.5h40M425 841.5h2M428 841.5h4M433 841.5h13M447 841.5h1M449 841.5h1M451 841.5h1M453 841.5h1M455 841.5h1M457 841.5h1M459 841.5h1M461 841.5h1M463 841.5h1M465 841.5h1M467 841.5h1M469 841.5h1M472 841.5h1M475 841.5h1M478 841.5h1M481 841.5h1M486 841.5h1M494 841.5h1M500 841.5h2M509 841.5h1M513 841.5h1M516 841.5h1M519 841.5h1M302 842.5h1M306 842.5h1M323 842.5h1M327 842.5h1M330 842.5h1M332 842.5h1M335 842.5h1M337 842.5h1M339 842.5h1M341 842.5h1M343 842.5h1M345 842.5h1M347 842.5h1M349 842.5h1M351 842.5h1M353 842.5h1M355 842.5h2M358 842.5h1M360 842.5h1M362 842.5h1M364 842.5h2M367 842.5h1M369 842.5h1M371 842.5h1M373 842.5h13M387 842.5h1M389 842.5h2M392 842.5h2M395 842.5h8M404 842.5h16M421 842.5h13M435 842.5h1M437 842.5h1M439 842.5h1M441 842.5h1M443 842.5h1M445 842.5h4M450 842.5h1M452 842.5h1M454 842.5h1M456 842.5h2M459 842.5h1M461 842.5h1M463 842.5h1M465 842.5h1M468 842.5h1M470 842.5h1M473 842.5h1M475 842.5h1M478 842.5h1M482 842.5h1M486 842.5h1M495 842.5h3M499 842.5h1M508 842.5h1M513 842.5h1M516 842.5h1M519 842.5h1M302 843.5h1M306 843.5h1M323 843.5h1M326 843.5h1M329 843.5h1M332 843.5h1M334 843.5h1M337 843.5h1M339 843.5h1M341 843.5h1M343 843.5h1M345 843.5h2M348 843.5h1M350 843.5h1M352 843.5h1M354 843.5h1M356 843.5h2M359 843.5h1M361 843.5h1M363 843.5h2M366 843.5h1M368 843.5h1M370 843.5h1M372 843.5h2M375 843.5h1M377 843.5h1M379 843.5h1M381 843.5h1M383 843.5h1M385 843.5h4M390 843.5h8M399 843.5h5M405 843.5h8M415 843.5h8M424 843.5h2M427 843.5h2M430 843.5h1M432 843.5h9M442 843.5h1M444 843.5h1M446 843.5h1M448 843.5h2M451 843.5h1M453 843.5h1M455 843.5h2M458 843.5h1M460 843.5h1M462 843.5h1M464 843.5h1M466 843.5h1M468 843.5h1M471 843.5h1M473 843.5h1M476 843.5h1M479 843.5h1M483 843.5h1M487 843.5h1M497 843.5h2M508 843.5h1M512 843.5h1M516 843.5h1M519 843.5h1M302 844.5h1M306 844.5h1M314 844.5h2M323 844.5h1M326 844.5h1M329 844.5h1M332 844.5h1M334 844.5h1M336 844.5h1M338 844.5h1M340 844.5h1M342 844.5h1M344 844.5h1M346 844.5h1M348 844.5h1M350 844.5h2M353 844.5h1M355 844.5h1M357 844.5h2M360 844.5h1M362 844.5h1M364 844.5h2M367 844.5h1M369 844.5h1M371 844.5h2M374 844.5h1M376 844.5h1M378 844.5h1M380 844.5h1M382 844.5h1M384 844.5h1M386 844.5h1M388 844.5h4M393 844.5h2M396 844.5h3M400 844.5h5M413 844.5h6M420 844.5h8M429 844.5h4M434 844.5h1M436 844.5h1M438 844.5h1M440 844.5h4M445 844.5h1M447 844.5h2M450 844.5h1M452 844.5h1M454 844.5h2M457 844.5h1M459 844.5h1M461 844.5h1M463 844.5h1M465 844.5h1M467 844.5h1M469 844.5h1M471 844.5h1M474 844.5h1M476 844.5h1M479 844.5h1M483 844.5h1M488 844.5h1M508 844.5h1M512 844.5h1M516 844.5h1M518 844.5h1M302 845.5h1M306 845.5h1M313 845.5h1M316 845.5h1M323 845.5h1M326 845.5h1M329 845.5h1M332 845.5h1M334 845.5h1M336 845.5h1M338 845.5h1M340 845.5h1M342 845.5h1M344 845.5h2M347 845.5h1M349 845.5h1M351 845.5h1M353 845.5h2M356 845.5h1M358 845.5h2M361 845.5h1M363 845.5h1M365 845.5h2M368 845.5h1M370 845.5h2M373 845.5h1M375 845.5h1M377 845.5h1M379 845.5h9M389 845.5h1M391 845.5h2M394 845.5h2M397 845.5h3M401 845.5h16M419 845.5h3M423 845.5h2M426 845.5h4M431 845.5h1M433 845.5h1M435 845.5h1M437 845.5h1M439 845.5h1M441 845.5h2M444 845.5h1M446 845.5h1M448 845.5h2M451 845.5h1M453 845.5h2M456 845.5h1M458 845.5h1M460 845.5h2M463 845.5h1M465 845.5h1M467 845.5h1M469 845.5h1M472 845.5h1M474 845.5h1M477 845.5h1M480 845.5h1M483 845.5h1M488 845.5h1M508 845.5h1M512 845.5h1M516 845.5h1M518 845.5h1M302 846.5h1M305 846.5h1M311 846.5h2M317 846.5h1M323 846.5h1M326 846.5h1M329 846.5h1M331 846.5h1M334 846.5h1M336 846.5h1M338 846.5h2M341 846.5h1M343 846.5h1M345 846.5h1M347 846.5h1M349 846.5h2M352 846.5h1M354 846.5h2M357 846.5h1M359 846.5h1M361 846.5h2M364 846.5h1M366 846.5h2M369 846.5h1M371 846.5h2M374 846.5h1M376 846.5h1M378 846.5h2M381 846.5h1M383 846.5h1M385 846.5h1M387 846.5h2M390 846.5h1M392 846.5h2M395 846.5h2M398 846.5h3M403 846.5h13M417 846.5h4M422 846.5h2M425 846.5h2M428 846.5h1M430 846.5h1M432 846.5h5M438 846.5h1M440 846.5h1M442 846.5h2M445 846.5h1M447 846.5h2M450 846.5h1M452 846.5h2M455 846.5h1M457 846.5h2M460 846.5h1M462 846.5h1M464 846.5h1M466 846.5h1M468 846.5h1M470 846.5h1M472 846.5h1M475 846.5h1M477 846.5h1M480 846.5h1M484 846.5h1M488 846.5h1M498 846.5h1M508 846.5h1M512 846.5h1M516 846.5h1M519 846.5h1M302 847.5h1M305 847.5h1M311 847.5h1M317 847.5h1M323 847.5h1M326 847.5h1M329 847.5h1M331 847.5h1M333 847.5h1M335 847.5h1M337 847.5h1M339 847.5h1M341 847.5h1M343 847.5h1M345 847.5h2M348 847.5h1M350 847.5h1M352 847.5h2M355 847.5h1M357 847.5h2M360 847.5h1M362 847.5h2M365 847.5h1M367 847.5h2M370 847.5h1M372 847.5h2M375 847.5h1M377 847.5h1M379 847.5h2M382 847.5h1M384 847.5h1M386 847.5h1M388 847.5h2M391 847.5h1M393 847.5h2M396 847.5h2M400 847.5h3M407 847.5h5M416 847.5h3M421 847.5h2M424 847.5h2M427 847.5h1M429 847.5h4M434 847.5h1M436 847.5h2M439 847.5h1M441 847.5h1M443 847.5h2M446 847.5h2M449 847.5h1M451 847.5h2M454 847.5h1M456 847.5h2M459 847.5h1M461 847.5h1M463 847.5h2M466 847.5h1M468 847.5h1M470 847.5h1M473 847.5h1M475 847.5h1M478 847.5h1M481 847.5h1M484 847.5h1M488 847.5h1M497 847.5h1M499 847.5h1M509 847.5h1M513 847.5h1M516 847.5h1M519 847.5h1M302 848.5h1M305 848.5h1M310 848.5h1M318 848.5h1M323 848.5h1M326 848.5h1M329 848.5h1M331 848.5h1M333 848.5h1M335 848.5h1M337 848.5h1M339 848.5h1M341 848.5h2M344 848.5h1M346 848.5h1M348 848.5h2M351 848.5h1M353 848.5h1M355 848.5h2M358 848.5h1M360 848.5h2M363 848.5h2M366 848.5h1M368 848.5h2M371 848.5h1M373 848.5h2M376 848.5h1M378 848.5h1M380 848.5h2M383 848.5h1M385 848.5h1M387 848.5h1M390 848.5h1M392 848.5h1M395 848.5h1M398 848.5h2M402 848.5h5M412 848.5h5M419 848.5h2M423 848.5h2M426 848.5h1M428 848.5h2M431 848.5h1M433 848.5h1M435 848.5h2M438 848.5h1M440 848.5h1M442 848.5h2M445 848.5h1M447 848.5h2M450 848.5h2M453 848.5h2M456 848.5h1M458 848.5h2M461 848.5h1M463 848.5h1M465 848.5h1M467 848.5h1M469 848.5h1M471 848.5h1M473 848.5h1M475 848.5h1M478 848.5h1M481 848.5h1M484 848.5h1M488 848.5h1M497 848.5h1M500 848.5h3M509 848.5h1M513 848.5h1M516 848.5h1M519 848.5h1M302 849.5h1M305 849.5h1M310 849.5h1M318 849.5h1M323 849.5h1M326 849.5h1M329 849.5h1M331 849.5h1M333 849.5h1M335 849.5h1M337 849.5h1M339 849.5h1M341 849.5h2M344 849.5h1M346 849.5h2M349 849.5h1M351 849.5h2M354 849.5h1M356 849.5h2M359 849.5h1M361 849.5h2M364 849.5h1M366 849.5h2M369 849.5h1M371 849.5h2M374 849.5h1M376 849.5h2M379 849.5h1M381 849.5h1M383 849.5h2M386 849.5h1M389 849.5h1M391 849.5h1M393 849.5h2M396 849.5h2M400 849.5h2M406 849.5h8M417 849.5h3M421 849.5h2M425 849.5h1M427 849.5h1M430 849.5h1M432 849.5h1M434 849.5h1M436 849.5h2M439 849.5h1M441 849.5h2M444 849.5h1M446 849.5h2M449 849.5h2M452 849.5h2M455 849.5h1M457 849.5h2M460 849.5h1M462 849.5h2M465 849.5h1M467 849.5h1M469 849.5h1M471 849.5h1M473 849.5h1M476 849.5h1M478 849.5h1M481 849.5h1M484 849.5h1M488 849.5h1M495 849.5h2M503 849.5h1M510 849.5h1M514 849.5h1M517 849.5h1M519 849.5h1M302 850.5h1M305 850.5h1M310 850.5h1M319 850.5h1M323 850.5h1M326 850.5h1M329 850.5h1M331 850.5h1M333 850.5h1M335 850.5h1M337 850.5h2M340 850.5h1M342 850.5h1M344 850.5h2M347 850.5h1M349 850.5h2M352 850.5h1M354 850.5h2M357 850.5h1M359 850.5h2M362 850.5h1M364 850.5h2M367 850.5h2M370 850.5h1M372 850.5h2M375 850.5h1M377 850.5h2M380 850.5h1M382 850.5h1M384 850.5h1M386 850.5h1M388 850.5h1M390 850.5h1M392 850.5h1M395 850.5h1M398 850.5h2M402 850.5h4M414 850.5h3M420 850.5h1M423 850.5h1M426 850.5h1M428 850.5h1M431 850.5h1M433 850.5h2M436 850.5h1M438 850.5h1M440 850.5h2M443 850.5h1M445 850.5h2M448 850.5h2M451 850.5h2M454 850.5h2M457 850.5h1M459 850.5h2M462 850.5h1M464 850.5h2M467 850.5h1M469 850.5h1M471 850.5h1M473 850.5h1M476 850.5h1M478 850.5h1M481 850.5h1M484 850.5h1M488 850.5h1M494 850.5h1M504 850.5h2M510 850.5h1M514 850.5h1M517 850.5h1M520 850.5h1M302 851.5h1M305 851.5h1M310 851.5h1M319 851.5h1M323 851.5h1M326 851.5h1M329 851.5h1M331 851.5h1M333 851.5h1M335 851.5h1M337 851.5h2M340 851.5h1M342 851.5h1M344 851.5h2M347 851.5h1M349 851.5h2M352 851.5h1M354 851.5h2M357 851.5h2M360 851.5h1M362 851.5h2M365 851.5h1M367 851.5h2M370 851.5h2M373 851.5h1M375 851.5h2M378 851.5h1M380 851.5h2M383 851.5h1M385 851.5h1M387 851.5h1M389 851.5h1M392 851.5h1M394 851.5h1M397 851.5h1M401 851.5h1M408 851.5h4M417 851.5h2M421 851.5h2M424 851.5h2M427 851.5h1M429 851.5h1M431 851.5h1M433 851.5h1M435 851.5h1M437 851.5h1M439 851.5h2M442 851.5h2M445 851.5h1M447 851.5h2M450 851.5h2M453 851.5h2M456 851.5h2M459 851.5h1M461 851.5h2M464 851.5h1M466 851.5h1M468 851.5h2M471 851.5h1M474 851.5h1M476 851.5h1M478 851.5h1M481 851.5h1M484 851.5h1M488 851.5h1M494 851.5h1M506 851.5h1M511 851.5h1M515 851.5h1M518 851.5h1M302 852.5h1M305 852.5h1M309 852.5h1M319 852.5h1M323 852.5h1M326 852.5h1M329 852.5h1M331 852.5h1M333 852.5h1M335 852.5h1M337 852.5h2M340 852.5h1M342 852.5h2M345 852.5h1M347 852.5h2M350 852.5h1M352 852.5h2M355 852.5h1M357 852.5h2M360 852.5h2M363 852.5h1M365 852.5h2M368 852.5h1M370 852.5h2M373 852.5h2M376 852.5h1M378 852.5h2M381 852.5h1M383 852.5h1M385 852.5h1M387 852.5h1M389 852.5h1M391 852.5h1M393 852.5h1M396 852.5h1M400 852.5h1M405 852.5h3M412 852.5h3M419 852.5h1M423 852.5h1M425 852.5h1M428 852.5h1M430 852.5h1M432 852.5h1M434 852.5h1M436 852.5h2M439 852.5h1M441 852.5h2M444 852.5h2M447 852.5h1M449 852.5h2M452 852.5h2M455 852.5h2M458 852.5h2M461 852.5h1M463 852.5h2M466 852.5h1M468 852.5h1M470 852.5h1M472 852.5h1M474 852.5h1M476 852.5h1M478 852.5h1M481 852.5h1M484 852.5h1M488 852.5h1M493 852.5h1M507 852.5h2M512 852.5h1M516 852.5h1M518 852.5h1M302 853.5h1M305 853.5h1M309 853.5h1M319 853.5h1M323 853.5h1M326 853.5h1M329 853.5h1M331 853.5h1M333 853.5h1M335 853.5h2M338 853.5h1M340 853.5h1M342 853.5h2M345 853.5h1M347 853.5h2M350 853.5h1M352 853.5h2M355 853.5h2M358 853.5h1M360 853.5h2M363 853.5h1M365 853.5h2M368 853.5h2M371 853.5h1M373 853.5h2M376 853.5h2M379 853.5h1M381 853.5h1M383 853.5h2M386 853.5h1M388 853.5h1M390 853.5h1M393 853.5h1M395 853.5h1M399 853.5h1M403 853.5h2M415 853.5h2M420 853.5h1M424 853.5h1M426 853.5h1M429 853.5h1M431 853.5h1M433 853.5h2M436 853.5h1M438 853.5h1M440 853.5h2M443 853.5h2M446 853.5h2M449 853.5h2M452 853.5h2M455 853.5h2M458 853.5h2M461 853.5h1M463 853.5h2M466 853.5h1M468 853.5h1M470 853.5h1M472 853.5h1M474 853.5h1M476 853.5h1M478 853.5h1M481 853.5h1M484 853.5h1M487 853.5h1M492 853.5h1M509 853.5h1M513 853.5h1M516 853.5h1M519 853.5h1M302 854.5h1M305 854.5h1M309 854.5h1M320 854.5h1M324 854.5h1M326 854.5h1M329 854.5h1M331 854.5h1M333 854.5h1M335 854.5h2M338 854.5h1M340 854.5h1M342 854.5h2M345 854.5h1M347 854.5h2M350 854.5h2M353 854.5h1M355 854.5h2M358 854.5h1M360 854.5h2M363 854.5h2M366 854.5h1M368 854.5h2M371 854.5h2M374 854.5h1M376 854.5h2M379 854.5h1M381 854.5h2M384 854.5h1M386 854.5h1M388 854.5h1M390 854.5h1M392 854.5h1M395 854.5h1M398 854.5h1M402 854.5h1M417 854.5h1M421 854.5h1M424 854.5h1M427 854.5h1M429 854.5h1M431 854.5h1M433 854.5h1M435 854.5h1M437 854.5h2M440 854.5h1M442 854.5h2M445 854.5h2M448 854.5h2M451 854.5h2M454 854.5h2M457 854.5h2M460 854.5h2M463 854.5h2M466 854.5h1M468 854.5h1M470 854.5h1M472 854.5h1M474 854.5h1M476 854.5h1M478 854.5h1M481 854.5h1M484 854.5h1M487 854.5h1M491 854.5h1M498 854.5h6M510 854.5h1M514 854.5h1M517 854.5h1M520 854.5h1M302 855.5h1M305 855.5h1M309 855.5h1M320 855.5h1M324 855.5h1M326 855.5h1M329 855.5h1M331 855.5h1M333 855.5h1M335 855.5h2M338 855.5h1M340 855.5h1M342 855.5h2M345 855.5h2M348 855.5h1M350 855.5h2M353 855.5h1M355 855.5h2M358 855.5h1M360 855.5h2M363 855.5h2M366 855.5h1M368 855.5h2M371 855.5h2M374 855.5h1M376 855.5h2M379 855.5h1M381 855.5h2M384 855.5h1M386 855.5h1M388 855.5h1M390 855.5h1M392 855.5h1M395 855.5h1M398 855.5h1M401 855.5h1M418 855.5h1M422 855.5h1M425 855.5h1M427 855.5h1M429 855.5h1M431 855.5h1M433 855.5h1M435 855.5h1M437 855.5h1M439 855.5h2M442 855.5h2M445 855.5h2M448 855.5h2M451 855.5h2M454 855.5h2M457 855.5h2M460 855.5h2M463 855.5h1M465 855.5h2M468 855.5h1M470 855.5h1M472 855.5h1M474 855.5h1M476 855.5h1M478 855.5h1M481 855.5h1M483 855.5h1M487 855.5h1M490 855.5h1M497 855.5h1M504 855.5h3M511 855.5h2M515 855.5h1M518 855.5h1M302 856.5h1M305 856.5h1M309 856.5h1M320 856.5h1M324 856.5h1M327 856.5h1M329 856.5h1M331 856.5h1M333 856.5h1M335 856.5h1M337 856.5h2M340 856.5h1M342 856.5h2M345 856.5h1M347 856.5h2M350 856.5h1M352 856.5h2M355 856.5h2M358 856.5h1M360 856.5h2M363 856.5h1M365 856.5h2M368 856.5h2M371 856.5h2M374 856.5h1M376 856.5h2M379 856.5h1M381 856.5h2M384 856.5h1M386 856.5h1M388 856.5h1M390 856.5h1M392 856.5h1M395 856.5h1M398 856.5h1M401 856.5h1M419 856.5h1M422 856.5h1M425 856.5h1M428 856.5h1M430 856.5h1M432 856.5h1M434 856.5h2M437 856.5h1M439 856.5h2M442 856.5h2M445 856.5h2M448 856.5h2M451 856.5h2M454 856.5h2M457 856.5h2M460 856.5h2M463 856.5h1M465 856.5h2M468 856.5h1M470 856.5h1M472 856.5h1M474 856.5h1M476 856.5h1M478 856.5h1M480 856.5h1M483 856.5h1M486 856.5h1M490 856.5h1M495 856.5h2M507 856.5h3M513 856.5h1M516 856.5h1M519 856.5h1M302 857.5h1M304 857.5h1M308 857.5h1M320 857.5h1M324 857.5h1M327 857.5h1M329 857.5h1M331 857.5h1M333 857.5h1M335 857.5h1M337 857.5h2M340 857.5h1M342 857.5h2M345 857.5h1M347 857.5h2M350 857.5h1M352 857.5h2M355 857.5h1M357 857.5h2M360 857.5h2M363 857.5h1M365 857.5h2M368 857.5h2M371 857.5h1M373 857.5h2M376 857.5h2M379 857.5h1M381 857.5h2M384 857.5h1M386 857.5h1M388 857.5h1M390 857.5h1M392 857.5h1M395 857.5h1M398 857.5h1M401 857.5h1M419 857.5h1M422 857.5h1M425 857.5h1M428 857.5h1M430 857.5h1M432 857.5h1M434 857.5h1M436 857.5h2M439 857.5h1M441 857.5h2M444 857.5h2M447 857.5h2M450 857.5h3M454 857.5h2M457 857.5h2M460 857.5h2M463 857.5h1M465 857.5h2M468 857.5h1M470 857.5h1M472 857.5h1M474 857.5h1M476 857.5h1M478 857.5h1M480 857.5h1M483 857.5h1M486 857.5h1M489 857.5h1M494 857.5h1M510 857.5h1M514 857.5h1M517 857.5h1M520 857.5h1M302 858.5h1M304 858.5h1M308 858.5h1M321 858.5h1M324 858.5h1M327 858.5h1M329 858.5h1M331 858.5h1M333 858.5h1M335 858.5h1M337 858.5h2M340 858.5h1M342 858.5h2M345 858.5h1M347 858.5h2M350 858.5h1M352 858.5h2M355 858.5h1M357 858.5h2M360 858.5h1M362 858.5h2M365 858.5h1M367 858.5h2M370 858.5h2M373 858.5h2M376 858.5h1M378 858.5h2M381 858.5h1M383 858.5h2M386 858.5h1M388 858.5h1M390 858.5h1M393 858.5h1M395 858.5h1M398 858.5h1M402 858.5h1M419 858.5h1M422 858.5h1M425 858.5h1M428 858.5h1M430 858.5h1M432 858.5h1M434 858.5h1M436 858.5h2M439 858.5h1M441 858.5h2M444 858.5h2M447 858.5h2M450 858.5h3M454 858.5h2M457 858.5h2M460 858.5h2M463 858.5h1M465 858.5h2M468 858.5h1M470 858.5h1M472 858.5h2M475 858.5h1M478 858.5h1M480 858.5h1M482 858.5h1M485 858.5h1M489 858.5h1M493 858.5h1M499 858.5h8M511 858.5h2M515 858.5h2M518 858.5h2M302 859.5h1M304 859.5h1M308 859.5h1M321 859.5h1M324 859.5h1M327 859.5h1M329 859.5h1M331 859.5h1M333 859.5h1M335 859.5h1M337 859.5h1M339 859.5h2M342 859.5h1M344 859.5h2M347 859.5h1M349 859.5h2M352 859.5h1M354 859.5h2M357 859.5h1M359 859.5h2M362 859.5h1M364 859.5h2M367 859.5h2M370 859.5h1M372 859.5h2M375 859.5h2M378 859.5h1M380 859.5h2M383 859.5h1M385 859.5h1M387 859.5h1M389 859.5h1M391 859.5h1M393 859.5h1M395 859.5h1M398 859.5h1M402 859.5h1M418 859.5h1M422 859.5h1M425 859.5h1M428 859.5h1M430 859.5h1M432 859.5h1M434 859.5h1M436 859.5h2M439 859.5h1M441 859.5h2M444 859.5h2M447 859.5h2M450 859.5h3M454 859.5h2M457 859.5h2M460 859.5h2M463 859.5h2M466 859.5h1M468 859.5h1M470 859.5h2M473 859.5h1M475 859.5h1M477 859.5h1M480 859.5h1M482 859.5h1M485 859.5h1M488 859.5h1M492 859.5h1M497 859.5h2M507 859.5h3M513 859.5h1M517 859.5h1M520 859.5h1M302 860.5h1M304 860.5h1M308 860.5h1M321 860.5h1M325 860.5h1M327 860.5h1M330 860.5h2M333 860.5h1M335 860.5h1M337 860.5h1M339 860.5h1M341 860.5h2M344 860.5h1M346 860.5h2M349 860.5h1M351 860.5h2M354 860.5h1M356 860.5h2M359 860.5h1M361 860.5h2M364 860.5h1M366 860.5h2M369 860.5h2M372 860.5h1M374 860.5h2M377 860.5h2M380 860.5h1M382 860.5h1M384 860.5h2M387 860.5h1M389 860.5h1M391 860.5h1M394 860.5h1M396 860.5h1M399 860.5h1M403 860.5h2M417 860.5h1M422 860.5h1M425 860.5h1M427 860.5h1M430 860.5h1M432 860.5h1M434 860.5h2M437 860.5h1M439 860.5h2M442 860.5h2M445 860.5h2M448 860.5h2M451 860.5h2M454 860.5h2M457 860.5h2M460 860.5h2M463 860.5h2M466 860.5h1M468 860.5h2M471 860.5h1M473 860.5h1M475 860.5h1M477 860.5h1M479 860.5h1M482 860.5h1M484 860.5h1M487 860.5h1M491 860.5h1M495 860.5h2M510 860.5h2M514 860.5h2M518 860.5h1M302 861.5h1M304 861.5h1M308 861.5h1M322 861.5h1M325 861.5h1M327 861.5h1M330 861.5h1M332 861.5h1M334 861.5h2M337 861.5h1M339 861.5h1M341 861.5h2M344 861.5h1M346 861.5h1M348 861.5h2M351 861.5h1M353 861.5h2M356 861.5h1M358 861.5h2M361 861.5h1M363 861.5h2M366 861.5h1M368 861.5h2M371 861.5h1M373 861.5h2M376 861.5h2M379 861.5h1M381 861.5h2M384 861.5h1M386 861.5h1M388 861.5h1M390 861.5h1M392 861.5h1M394 861.5h1M397 861.5h1M400 861.5h1M405 861.5h2M416 861.5h1M421 861.5h1M424 861.5h1M427 861.5h1M429 861.5h1M431 861.5h1M433 861.5h1M435 861.5h1M437 861.5h1M439 861.5h2M442 861.5h2M445 861.5h2M448 861.5h2M451 861.5h2M454 861.5h2M457 861.5h2M460 861.5h2M463 861.5h2M466 861.5h1M468 861.5h2M471 861.5h1M473 861.5h1M475 861.5h1M477 861.5h1M479 861.5h1M481 861.5h1M484 861.5h1M486 861.5h1M490 861.5h1M494 861.5h1M501 861.5h6M512 861.5h2M516 861.5h2M519 861.5h2M302 862.5h1M304 862.5h1M308 862.5h1M322 862.5h1M325 862.5h1M328 862.5h1M330 862.5h1M332 862.5h1M334 862.5h1M336 862.5h1M338 862.5h2M341 862.5h1M343 862.5h1M345 862.5h2M348 862.5h1M350 862.5h2M353 862.5h1M355 862.5h1M357 862.5h2M360 862.5h1M362 862.5h2M365 862.5h1M367 862.5h2M370 862.5h2M373 862.5h1M375 862.5h2M378 862.5h1M380 862.5h2M383 862.5h1M385 862.5h1M387 862.5h1M389 862.5h1M391 862.5h1M393 862.5h1M395 862.5h1M398 862.5h1M401 862.5h2M407 862.5h9M420 862.5h1M424 862.5h1M426 862.5h1M429 862.5h1M431 862.5h1M433 862.5h1M435 862.5h1M437 862.5h2M440 862.5h1M442 862.5h2M445 862.5h2M448 862.5h2M451 862.5h3M455 862.5h2M458 862.5h2M461 862.5h2M464 862.5h1M466 862.5h2M469 862.5h1M471 862.5h1M473 862.5h1M475 862.5h2M479 862.5h1M481 862.5h1M483 862.5h1M486 862.5h1M489 862.5h1M493 862.5h1M498 862.5h3M507 862.5h4M514 862.5h1M518 862.5h1M302 863.5h1M304 863.5h1M308 863.5h1M322 863.5h1M325 863.5h1M328 863.5h1M330 863.5h1M332 863.5h1M334 863.5h1M336 863.5h1M338 863.5h1M340 863.5h2M343 863.5h1M345 863.5h1M347 863.5h2M350 863.5h1M352 863.5h1M354 863.5h2M357 863.5h1M359 863.5h1M361 863.5h2M364 863.5h1M366 863.5h2M369 863.5h1M371 863.5h2M374 863.5h2M377 863.5h1M379 863.5h2M382 863.5h1M384 863.5h1M386 863.5h1M388 863.5h2M392 863.5h1M394 863.5h1M396 863.5h2M399 863.5h2M403 863.5h2M418 863.5h2M422 863.5h2M426 863.5h1M428 863.5h1M430 863.5h1M432 863.5h1M434 863.5h1M436 863.5h1M438 863.5h1M440 863.5h2M443 863.5h2M446 863.5h2M449 863.5h2M452 863.5h2M455 863.5h2M458 863.5h2M461 863.5h2M464 863.5h2M467 863.5h1M469 863.5h1M471 863.5h2M474 863.5h1M476 863.5h1M478 863.5h1M480 863.5h1M483 863.5h1M485 863.5h1M488 863.5h1M492 863.5h1M496 863.5h2M511 863.5h2M515 863.5h2M519 863.5h2M302 864.5h1M304 864.5h1M308 864.5h1M315 864.5h1M323 864.5h1M326 864.5h1M328 864.5h1M330 864.5h1M333 864.5h2M336 864.5h1M338 864.5h1M340 864.5h1M342 864.5h1M344 864.5h2M347 864.5h1M349 864.5h1M351 864.5h2M354 864.5h1M356 864.5h1M358 864.5h1M360 864.5h2M363 864.5h1M365 864.5h2M368 864.5h1M370 864.5h2M373 864.5h1M375 864.5h2M378 864.5h1M380 864.5h2M383 864.5h1M385 864.5h1M387 864.5h1M389 864.5h3M393 864.5h1M395 864.5h1M398 864.5h1M401 864.5h2M405 864.5h6M413 864.5h5M421 864.5h1M424 864.5h2M427 864.5h1M430 864.5h1M432 864.5h1M434 864.5h1M436 864.5h2M439 864.5h1M441 864.5h2M444 864.5h1M446 864.5h2M449 864.5h3M453 864.5h2M456 864.5h2M459 864.5h2M462 864.5h1M464 864.5h2M467 864.5h2M470 864.5h1M472 864.5h1M474 864.5h1M476 864.5h1M478 864.5h1M480 864.5h1M482 864.5h1M485 864.5h1M487 864.5h1M491 864.5h1M495 864.5h1M501 864.5h9M513 864.5h2M517 864.5h2M302 865.5h1M304 865.5h1M307 865.5h1M314 865.5h1M316 865.5h1M323 865.5h1M326 865.5h1M329 865.5h1M331 865.5h1M333 865.5h1M335 865.5h1M337 865.5h1M339 865.5h1M341 865.5h2M344 865.5h1M346 865.5h1M348 865.5h2M351 865.5h1M353 865.5h1M355 865.5h1M357 865.5h1M359 865.5h2M362 865.5h1M364 865.5h1M366 865.5h2M369 865.5h1M371 865.5h2M374 865.5h2M377 865.5h1M379 865.5h1M382 865.5h1M384 865.5h1M386 865.5h1M388 865.5h1M390 865.5h1M392 865.5h1M394 865.5h1M396 865.5h2M399 865.5h2M403 865.5h3M411 865.5h2M418 865.5h3M423 865.5h1M426 865.5h1M429 865.5h1M431 865.5h1M433 865.5h1M435 865.5h1M437 865.5h1M439 865.5h2M442 865.5h1M444 865.5h2M447 865.5h2M450 865.5h2M453 865.5h2M456 865.5h2M459 865.5h2M462 865.5h2M465 865.5h2M468 865.5h1M470 865.5h1M472 865.5h2M475 865.5h1M477 865.5h1M479 865.5h1M482 865.5h1M484 865.5h1M487 865.5h1M490 865.5h1M494 865.5h1M498 865.5h3M510 865.5h2M515 865.5h2M519 865.5h1M302 866.5h1M304 866.5h1M307 866.5h1M314 866.5h1M317 866.5h2M323 866.5h1M326 866.5h1M329 866.5h1M331 866.5h1M333 866.5h1M335 866.5h1M337 866.5h1M339 866.5h1M341 866.5h1M343 866.5h1M345 866.5h1M347 866.5h2M350 866.5h1M352 866.5h1M354 866.5h1M356 866.5h1M358 866.5h2M361 866.5h1M363 866.5h1M365 866.5h2M368 866.5h1M370 866.5h2M373 866.5h1M375 866.5h2M378 866.5h1M380 866.5h4M385 866.5h1M387 866.5h1M389 866.5h1M391 866.5h1M393 866.5h1M395 866.5h2M398 866.5h2M401 866.5h3M406 866.5h12M421 866.5h2M425 866.5h1M428 866.5h1M430 866.5h1M432 866.5h1M434 866.5h1M436 866.5h1M438 866.5h1M440 866.5h2M443 866.5h1M445 866.5h2M448 866.5h2M451 866.5h2M454 866.5h2M457 866.5h2M460 866.5h2M463 866.5h2M466 866.5h1M468 866.5h2M471 866.5h1M473 866.5h1M475 866.5h1M477 866.5h1M479 866.5h1M481 866.5h1M483 866.5h1M486 866.5h1M489 866.5h1M492 866.5h2M497 866.5h1M512 866.5h2M517 866.5h2M520 866.5h1M302 867.5h1M304 867.5h1M307 867.5h1M313 867.5h1M318 867.5h1M323 867.5h1M327 867.5h1M329 867.5h1M332 867.5h1M334 867.5h1M336 867.5h1M338 867.5h1M340 867.5h1M342 867.5h2M345 867.5h1M347 867.5h1M349 867.5h1M351 867.5h1M353 867.5h1M355 867.5h1M357 867.5h2M360 867.5h1M362 867.5h1M364 867.5h1M366 867.5h2M369 867.5h1M371 867.5h4M376 867.5h4M381 867.5h1M383 867.5h4M388 867.5h1M390 867.5h6M397 867.5h2M400 867.5h3M404 867.5h4M417 867.5h4M422 867.5h3M426 867.5h2M429 867.5h1M431 867.5h1M433 867.5h1M435 867.5h1M437 867.5h1M439 867.5h1M441 867.5h2M444 867.5h1M446 867.5h2M449 867.5h2M452 867.5h2M455 867.5h2M458 867.5h2M461 867.5h2M464 867.5h1M466 867.5h2M469 867.5h1M471 867.5h1M473 867.5h2M476 867.5h1M478 867.5h1M481 867.5h1M483 867.5h1M485 867.5h1M488 867.5h1M491 867.5h1M495 867.5h2M501 867.5h10M514 867.5h3M519 867.5h1M302 868.5h1M304 868.5h1M307 868.5h1M313 868.5h1M319 868.5h1M324 868.5h1M327 868.5h1M330 868.5h1M332 868.5h1M334 868.5h1M336 868.5h1M338 868.5h1M340 868.5h1M342 868.5h1M344 868.5h1M346 868.5h1M348 868.5h1M350 868.5h1M352 868.5h1M354 868.5h1M356 868.5h1M358 868.5h2M361 868.5h1M363 868.5h1M365 868.5h1M367 868.5h2M370 868.5h1M372 868.5h1M374 868.5h2M377 868.5h1M379 868.5h4M384 868.5h1M386 868.5h5M392 868.5h1M394 868.5h4M399 868.5h3M403 868.5h3M408 868.5h9M419 868.5h3M424 868.5h2M427 868.5h2M430 868.5h1M432 868.5h1M434 868.5h1M436 868.5h1M438 868.5h1M440 868.5h1M442 868.5h2M445 868.5h1M447 868.5h2M450 868.5h2M453 868.5h2M456 868.5h2M459 868.5h2M462 868.5h1M464 868.5h2M467 868.5h1M469 868.5h2M472 868.5h1M474 868.5h1M476 868.5h1M478 868.5h1M480 868.5h1M482 868.5h1M485 868.5h1M487 868.5h1M490 868.5h1M494 868.5h1M498 868.5h3M511 868.5h3M517 868.5h1M520 868.5h1M302 869.5h1M304 869.5h1M307 869.5h1M313 869.5h1M319 869.5h1M324 869.5h1M327 869.5h1M330 869.5h1M333 869.5h1M335 869.5h1M337 869.5h1M339 869.5h1M341 869.5h1M343 869.5h1M345 869.5h1M347 869.5h1M349 869.5h1M351 869.5h1M353 869.5h1M355 869.5h1M357 869.5h1M359 869.5h2M362 869.5h1M364 869.5h1M366 869.5h1M368 869.5h4M373 869.5h1M375 869.5h4M380 869.5h1M382 869.5h13M396 869.5h5M402 869.5h3M406 869.5h13M421 869.5h3M425 869.5h2M428 869.5h2M431 869.5h1M433 869.5h1M435 869.5h1M437 869.5h1M439 869.5h1M441 869.5h1M443 869.5h2M446 869.5h2M449 869.5h1M451 869.5h2M454 869.5h2M457 869.5h2M460 869.5h2M463 869.5h1M465 869.5h2M468 869.5h1M470 869.5h1M472 869.5h2M475 869.5h1M477 869.5h1M479 869.5h1M482 869.5h1M484 869.5h1M486 869.5h1M489 869.5h1M493 869.5h1M497 869.5h1M505 869.5h5M514 869.5h3M518 869.5h2M302 870.5h1M304 870.5h1M307 870.5h1M313 870.5h1M320 870.5h1M325 870.5h1M328 870.5h1M331 870.5h1M333 870.5h1M335 870.5h1M337 870.5h1M340 870.5h1M342 870.5h1M344 870.5h1M346 870.5h1M348 870.5h1M350 870.5h1M352 870.5h1M354 870.5h1M356 870.5h1M358 870.5h1M360 870.5h8M369 870.5h1M371 870.5h4M376 870.5h1M378 870.5h6M385 870.5h1M387 870.5h1M389 870.5h1M391 870.5h6M398 870.5h6M405 870.5h16M422 870.5h3M426 870.5h2M429 870.5h2M432 870.5h1M434 870.5h1M436 870.5h1M438 870.5h1M440 870.5h1M442 870.5h2M445 870.5h1M447 870.5h2M450 870.5h1M452 870.5h2M455 870.5h2M458 870.5h2M461 870.5h1M463 870.5h2M466 870.5h1M468 870.5h2M471 870.5h1M473 870.5h1M475 870.5h1M477 870.5h1M479 870.5h1M481 870.5h1M483 870.5h1M486 870.5h1M489 870.5h1M492 870.5h1M495 870.5h2M501 870.5h4M510 870.5h4M517 870.5h1M520 870.5h1M302 871.5h1M304 871.5h1M307 871.5h1M312 871.5h1M320 871.5h1M325 871.5h1M328 871.5h1M331 871.5h1M334 871.5h1M336 871.5h1M338 871.5h1M340 871.5h1M342 871.5h1M345 871.5h1M347 871.5h1M349 871.5h1M351 871.5h1M353 871.5h1M355 871.5h1M357 871.5h1M359 871.5h1M361 871.5h1M363 871.5h1M365 871.5h1M367 871.5h4M372 871.5h1M374 871.5h6M381 871.5h1M383 871.5h9M393 871.5h7M401 871.5h11M415 871.5h7M423 871.5h3M427 871.5h2M430 871.5h4M435 871.5h1M437 871.5h1M439 871.5h1M441 871.5h2M444 871.5h1M446 871.5h1M448 871.5h2M451 871.5h2M454 871.5h1M456 871.5h2M459 871.5h2M462 871.5h1M464 871.5h2M467 871.5h1M469 871.5h1M471 871.5h2M474 871.5h1M476 871.5h1M478 871.5h1M480 871.5h1M483 871.5h1M485 871.5h1M488 871.5h1M491 871.5h1M494 871.5h1M498 871.5h3M514 871.5h2M518 871.5h2M302 872.5h1M304 872.5h1M307 872.5h1M312 872.5h1M321 872.5h1M326 872.5h1M329 872.5h1M332 872.5h1M334 872.5h1M337 872.5h1M339 872.5h1M341 872.5h1M345 872.5h1M348 872.5h1M350 872.5h1M352 872.5h1M354 872.5h1M356 872.5h1M358 872.5h1M360 872.5h1M362 872.5h1M364 872.5h1M366 872.5h1M368 872.5h1M370 872.5h8M379 872.5h32M412 872.5h3M417 872.5h6M424 872.5h8M433 872.5h9M443 872.5h1M445 872.5h1M447 872.5h2M450 872.5h1M452 872.5h2M455 872.5h2M458 872.5h1M460 872.5h2M463 872.5h1M465 872.5h2M468 872.5h1M470 872.5h1M472 872.5h1M474 872.5h1M476 872.5h1M478 872.5h1M480 872.5h1M482 872.5h1M484 872.5h1M487 872.5h1M490 872.5h1M493 872.5h1M497 872.5h1M503 872.5h10M516 872.5h2M520 872.5h1M302 873.5h1M304 873.5h1M307 873.5h1M312 873.5h1M322 873.5h1M326 873.5h1M330 873.5h1M332 873.5h1M335 873.5h1M337 873.5h1M340 873.5h1M342 873.5h1M344 873.5h1M346 873.5h1M349 873.5h1M351 873.5h1M353 873.5h1M355 873.5h1M357 873.5h19M377 873.5h50M428 873.5h2M431 873.5h4M436 873.5h1M438 873.5h1M440 873.5h1M442 873.5h1M444 873.5h1M446 873.5h2M449 873.5h1M451 873.5h2M454 873.5h1M456 873.5h2M459 873.5h1M461 873.5h2M464 873.5h1M466 873.5h1M468 873.5h2M471 873.5h1M473 873.5h1M475 873.5h1M477 873.5h1M479 873.5h1M481 873.5h1M484 873.5h1M486 873.5h1M489 873.5h1M492 873.5h1M495 873.5h2M501 873.5h2M513 873.5h3M518 873.5h3M302 874.5h1M304 874.5h1M307 874.5h1M312 874.5h1M322 874.5h1M327 874.5h1M330 874.5h1M333 874.5h1M336 874.5h1M338 874.5h1M341 874.5h1M343 874.5h1M345 874.5h1M347 874.5h2M350 874.5h1M352 874.5h1M354 874.5h4M359 874.5h1M361 874.5h1M363 874.5h1M365 874.5h3M369 874.5h3M373 874.5h1M375 874.5h58M434 874.5h6M441 874.5h1M443 874.5h4M448 874.5h1M450 874.5h1M452 874.5h2M455 874.5h1M457 874.5h2M460 874.5h1M462 874.5h2M465 874.5h1M467 874.5h1M469 874.5h1M471 874.5h2M474 874.5h1M476 874.5h1M478 874.5h1M481 874.5h1M483 874.5h1M485 874.5h1M488 874.5h1M491 874.5h1M494 874.5h1M498 874.5h3M505 874.5h5M516 874.5h2M302 875.5h1M304 875.5h1M307 875.5h1M312 875.5h1M323 875.5h1M327 875.5h1M331 875.5h1M334 875.5h1M336 875.5h1M339 875.5h1M341 875.5h1M344 875.5h1M346 875.5h1M349 875.5h1M351 875.5h1M353 875.5h2M356 875.5h1M358 875.5h8M367 875.5h3M371 875.5h65M437 875.5h1M439 875.5h5M445 875.5h1M447 875.5h1M449 875.5h4M454 875.5h1M456 875.5h2M459 875.5h1M461 875.5h1M463 875.5h2M466 875.5h1M468 875.5h1M470 875.5h1M472 875.5h1M474 875.5h1M476 875.5h1M478 875.5h1M480 875.5h1M482 875.5h1M485 875.5h1M487 875.5h1M490 875.5h1M493 875.5h1M497 875.5h1M502 875.5h3M510 875.5h5M518 875.5h3M302 876.5h1M304 876.5h1M307 876.5h1M312 876.5h1M323 876.5h1M328 876.5h1M331 876.5h1M334 876.5h1M337 876.5h1M340 876.5h1M342 876.5h1M345 876.5h1M347 876.5h2M350 876.5h1M352 876.5h2M355 876.5h1M357 876.5h2M360 876.5h1M362 876.5h1M364 876.5h67M432 876.5h13M446 876.5h4M451 876.5h1M453 876.5h1M455 876.5h2M458 876.5h1M460 876.5h1M462 876.5h1M464 876.5h2M467 876.5h1M469 876.5h1M471 876.5h1M473 876.5h1M475 876.5h1M477 876.5h1M479 876.5h1M481 876.5h1M484 876.5h1M486 876.5h1M489 876.5h1M492 876.5h1M495 876.5h2M500 876.5h2M515 876.5h3M302 877.5h1M304 877.5h1M307 877.5h1M312 877.5h1M323 877.5h1M328 877.5h1M332 877.5h1M335 877.5h1M338 877.5h1M341 877.5h1M343 877.5h2M346 877.5h2M349 877.5h1M351 877.5h2M354 877.5h4M359 877.5h1M361 877.5h4M366 877.5h1M368 877.5h66M435 877.5h6M442 877.5h1M444 877.5h3M448 877.5h1M450 877.5h1M452 877.5h1M454 877.5h4M459 877.5h1M461 877.5h1M463 877.5h2M466 877.5h1M468 877.5h1M470 877.5h1M472 877.5h1M474 877.5h1M476 877.5h1M478 877.5h1M481 877.5h1M483 877.5h1M485 877.5h1M488 877.5h1M491 877.5h1M494 877.5h1M498 877.5h2M505 877.5h9M518 877.5h3M302 878.5h1M304 878.5h1M307 878.5h1M312 878.5h1M324 878.5h1M329 878.5h1M333 878.5h1M336 878.5h1M339 878.5h1M342 878.5h1M345 878.5h1M348 878.5h1M350 878.5h2M353 878.5h1M356 878.5h1M358 878.5h4M363 878.5h6M370 878.5h1M372 878.5h67M440 878.5h15M456 878.5h1M458 878.5h1M460 878.5h1M462 878.5h1M464 878.5h2M467 878.5h1M469 878.5h1M471 878.5h1M473 878.5h1M475 878.5h1M478 878.5h1M480 878.5h1M482 878.5h1M485 878.5h1M487 878.5h1M490 878.5h1M493 878.5h1M497 878.5h1M502 878.5h3M514 878.5h4M302 879.5h1M304 879.5h1M307 879.5h1M312 879.5h1M325 879.5h1M330 879.5h1M334 879.5h1M337 879.5h1M340 879.5h1M343 879.5h2M346 879.5h2M349 879.5h1M352 879.5h1M354 879.5h2M357 879.5h2M360 879.5h4M365 879.5h72M438 879.5h6M445 879.5h1M447 879.5h1M449 879.5h1M451 879.5h1M453 879.5h1M455 879.5h1M457 879.5h1M459 879.5h1M461 879.5h1M463 879.5h2M466 879.5h1M468 879.5h1M470 879.5h1M472 879.5h1M475 879.5h1M477 879.5h1M479 879.5h1M481 879.5h1M484 879.5h1M486 879.5h1M489 879.5h1M492 879.5h1M495 879.5h2M500 879.5h2M507 879.5h7M518 879.5h3M302 880.5h1M304 880.5h1M308 880.5h1M312 880.5h1M326 880.5h1M330 880.5h1M334 880.5h1M338 880.5h1M341 880.5h1M345 880.5h1M348 880.5h1M350 880.5h2M353 880.5h5M359 880.5h2M362 880.5h4M367 880.5h6M374 880.5h68M443 880.5h16M460 880.5h3M464 880.5h2M468 880.5h3M472 880.5h1M474 880.5h1M476 880.5h1M478 880.5h1M480 880.5h1M483 880.5h1M486 880.5h1M488 880.5h1M491 880.5h1M494 880.5h1M498 880.5h2M504 880.5h3M514 880.5h4M302 881.5h1M304 881.5h1M308 881.5h1M312 881.5h1M326 881.5h1M331 881.5h1M335 881.5h1M339 881.5h1M342 881.5h2M346 881.5h2M349 881.5h2M352 881.5h2M356 881.5h1M358 881.5h2M361 881.5h2M364 881.5h4M369 881.5h80M450 881.5h1M452 881.5h1M454 881.5h1M456 881.5h1M458 881.5h3M462 881.5h3M466 881.5h2M469 881.5h1M471 881.5h1M473 881.5h1M475 881.5h1M477 881.5h1M480 881.5h1M482 881.5h1M485 881.5h1M487 881.5h1M490 881.5h1M493 881.5h1M497 881.5h1M501 881.5h3M509 881.5h1M518 881.5h3M302 882.5h1M304 882.5h1M308 882.5h1M313 882.5h1M327 882.5h1M332 882.5h1M336 882.5h2M340 882.5h2M344 882.5h1M348 882.5h1M351 882.5h2M354 882.5h2M357 882.5h8M366 882.5h79M446 882.5h1M448 882.5h8M457 882.5h1M459 882.5h1M461 882.5h1M463 882.5h1M465 882.5h1M468 882.5h1M470 882.5h1M472 882.5h1M474 882.5h1M476 882.5h1M479 882.5h1M481 882.5h1M484 882.5h1M486 882.5h1M489 882.5h1M492 882.5h1M496 882.5h1M500 882.5h1M505 882.5h4M510 882.5h7M302 883.5h1M305 883.5h1M308 883.5h1M313 883.5h1M327 883.5h1M333 883.5h1M338 883.5h1M342 883.5h1M345 883.5h2M349 883.5h2M353 883.5h2M356 883.5h3M360 883.5h2M363 883.5h12M376 883.5h74M451 883.5h1M453 883.5h1M455 883.5h4M460 883.5h1M462 883.5h1M464 883.5h1M466 883.5h2M469 883.5h1M471 883.5h1M473 883.5h1M475 883.5h1M478 883.5h1M480 883.5h1M483 883.5h1M486 883.5h1M488 883.5h1M491 883.5h1M494 883.5h2M498 883.5h2M503 883.5h2M517 883.5h4M302 884.5h1M305 884.5h1M308 884.5h1M313 884.5h1M328 884.5h1M334 884.5h1M339 884.5h1M343 884.5h2M347 884.5h2M351 884.5h2M355 884.5h2M359 884.5h2M362 884.5h2M365 884.5h2M368 884.5h2M371 884.5h77M449 884.5h4M454 884.5h1M456 884.5h1M458 884.5h2M461 884.5h1M463 884.5h1M465 884.5h1M468 884.5h1M470 884.5h1M472 884.5h1M475 884.5h1M477 884.5h1M479 884.5h1M482 884.5h1M485 884.5h1M487 884.5h1M490 884.5h1M494 884.5h1M497 884.5h1M501 884.5h2M508 884.5h9M302 885.5h1M305 885.5h1M308 885.5h1M313 885.5h1M328 885.5h2M335 885.5h1M340 885.5h2M345 885.5h2M349 885.5h3M353 885.5h3M357 885.5h3M361 885.5h2M364 885.5h87M452 885.5h4M457 885.5h1M459 885.5h4M464 885.5h1M466 885.5h2M469 885.5h1M471 885.5h1M474 885.5h1M476 885.5h1M479 885.5h1M481 885.5h1M484 885.5h1M486 885.5h1M490 885.5h1M493 885.5h1M496 885.5h1M500 885.5h1M505 885.5h3M517 885.5h3M302 886.5h1M305 886.5h1M308 886.5h1M313 886.5h1M330 886.5h1M336 886.5h2M342 886.5h2M347 886.5h2M352 886.5h2M356 886.5h2M360 886.5h6M367 886.5h2M370 886.5h2M373 886.5h73M447 886.5h2M450 886.5h4M455 886.5h4M460 886.5h1M462 886.5h2M465 886.5h1M468 886.5h1M470 886.5h1M472 886.5h2M475 886.5h1M478 886.5h1M480 886.5h1M483 886.5h1M486 886.5h1M489 886.5h1M492 886.5h1M495 886.5h1M498 886.5h2M503 886.5h2M513 886.5h1M520 886.5h1M302 887.5h1M305 887.5h1M309 887.5h1M314 887.5h1M330 887.5h1M338 887.5h1M344 887.5h2M349 887.5h3M354 887.5h3M358 887.5h3M363 887.5h2M366 887.5h2M369 887.5h74M444 887.5h8M453 887.5h2M456 887.5h1M458 887.5h2M461 887.5h1M464 887.5h1M466 887.5h2M469 887.5h1M472 887.5h1M474 887.5h1M477 887.5h1M479 887.5h1M482 887.5h1M485 887.5h1M491 887.5h1M494 887.5h1M497 887.5h1M502 887.5h1M508 887.5h5M514 887.5h4M302 888.5h1M305 888.5h1M309 888.5h1M314 888.5h1M331 888.5h1M333 888.5h1M339 888.5h2M346 888.5h3M352 888.5h2M357 888.5h3M361 888.5h3M365 888.5h6M372 888.5h78M451 888.5h2M454 888.5h2M457 888.5h1M459 888.5h2M462 888.5h2M465 888.5h1M468 888.5h1M471 888.5h1M473 888.5h1M476 888.5h1M479 888.5h1M482 888.5h1M484 888.5h1M487 888.5h1M490 888.5h1M493 888.5h1M497 888.5h1M501 888.5h1M505 888.5h3M518 888.5h3M302 889.5h1M305 889.5h1M309 889.5h1M314 889.5h1M332 889.5h2M341 889.5h4M349 889.5h3M354 889.5h3M360 889.5h3M364 889.5h3M368 889.5h6M375 889.5h65M441 889.5h3M445 889.5h2M448 889.5h9M458 889.5h1M461 889.5h1M464 889.5h1M466 889.5h2M469 889.5h2M472 889.5h1M475 889.5h1M478 889.5h1M481 889.5h1M483 889.5h1M486 889.5h1M489 889.5h1M493 889.5h1M496 889.5h1M500 889.5h1M504 889.5h1M513 889.5h1M302 890.5h1M305 890.5h1M309 890.5h1M314 890.5h1M334 890.5h1M345 890.5h1M352 890.5h3M357 890.5h4M363 890.5h3M367 890.5h3M371 890.5h77M449 890.5h2M453 890.5h1M456 890.5h2M459 890.5h2M462 890.5h2M465 890.5h1M468 890.5h1M471 890.5h1M474 890.5h1M477 890.5h1M480 890.5h1M483 890.5h1M486 890.5h1M489 890.5h1M492 890.5h1M495 890.5h1M499 890.5h1M503 890.5h1M509 890.5h4M514 890.5h5M302 891.5h1M305 891.5h1M309 891.5h1M315 891.5h1M335 891.5h3M346 891.5h4M355 891.5h3M361 891.5h3M366 891.5h3M370 891.5h3M374 891.5h3M378 891.5h63M442 891.5h3M446 891.5h3M450 891.5h3M454 891.5h2M457 891.5h2M461 891.5h1M464 891.5h1M467 891.5h1M470 891.5h1M473 891.5h1M476 891.5h1M479 891.5h1M482 891.5h1M485 891.5h1M488 891.5h1M491 891.5h1M494 891.5h1M498 891.5h1M502 891.5h1M508 891.5h1M519 891.5h2M302 892.5h1M306 892.5h1M310 892.5h1M315 892.5h1M338 892.5h4M350 892.5h4M358 892.5h3M364 892.5h3M369 892.5h3M373 892.5h3M377 892.5h3M381 892.5h55M437 892.5h5M443 892.5h3M447 892.5h3M451 892.5h3M455 892.5h2M459 892.5h2M462 892.5h2M465 892.5h2M469 892.5h1M472 892.5h1M475 892.5h1M479 892.5h1M482 892.5h1M485 892.5h1M488 892.5h1M491 892.5h1M494 892.5h1M497 892.5h1M501 892.5h1M506 892.5h2M302 893.5h1M306 893.5h1M310 893.5h1M316 893.5h1M342 893.5h4M354 893.5h4M361 893.5h4M367 893.5h4M372 893.5h3M376 893.5h3M380 893.5h3M384 893.5h3M388 893.5h40M429 893.5h8M438 893.5h9M449 893.5h2M453 893.5h2M457 893.5h2M461 893.5h1M464 893.5h1M468 893.5h1M471 893.5h1M475 893.5h1M478 893.5h1M481 893.5h1M484 893.5h1M487 893.5h1M490 893.5h1M494 893.5h1M497 893.5h1M501 893.5h1M506 893.5h1M302 894.5h1M306 894.5h1M310 894.5h1M317 894.5h1M346 894.5h6M358 894.5h5M365 894.5h4M371 894.5h3M375 894.5h16M392 894.5h37M431 894.5h7M439 894.5h4M446 894.5h3M450 894.5h3M454 894.5h3M459 894.5h2M463 894.5h1M467 894.5h1M470 894.5h1M474 894.5h1M477 894.5h1M481 894.5h1M484 894.5h1M487 894.5h1M490 894.5h1M493 894.5h1M497 894.5h1M501 894.5h1M505 894.5h1M513 894.5h1M516 894.5h1M302 895.5h1M306 895.5h1M310 895.5h1M317 895.5h1M352 895.5h5M363 895.5h4M369 895.5h3M374 895.5h4M379 895.5h3M383 895.5h3M387 895.5h44M432 895.5h7M442 895.5h4M447 895.5h3M453 895.5h1M457 895.5h2M461 895.5h2M465 895.5h2M469 895.5h2M473 895.5h1M477 895.5h1M480 895.5h1M483 895.5h1M487 895.5h1M490 895.5h1M493 895.5h1M497 895.5h1M501 895.5h1M505 895.5h1M512 895.5h1M514 895.5h2M517 895.5h1M302 896.5h1M306 896.5h1M310 896.5h1M318 896.5h1M357 896.5h4M367 896.5h3M372 896.5h3M378 896.5h3M382 896.5h8M391 896.5h4M396 896.5h9M406 896.5h8M415 896.5h17M435 896.5h7M443 896.5h4M450 896.5h3M455 896.5h2M460 896.5h1M464 896.5h1M468 896.5h1M472 896.5h1M476 896.5h1M480 896.5h1M483 896.5h1M486 896.5h1M490 896.5h1M493 896.5h1M497 896.5h1M501 896.5h1M505 896.5h1M512 896.5h1M518 896.5h1M520 896.5h1M302 897.5h1M306 897.5h1M311 897.5h1M318 897.5h1M344 897.5h1M348 897.5h1M361 897.5h6M370 897.5h4M375 897.5h4M381 897.5h3M386 897.5h3M390 897.5h4M395 897.5h17M414 897.5h21M439 897.5h4M447 897.5h3M453 897.5h2M458 897.5h2M464 897.5h1M468 897.5h1M472 897.5h1M476 897.5h1M479 897.5h1M483 897.5h1M486 897.5h1M490 897.5h1M493 897.5h1M497 897.5h1M501 897.5h1M505 897.5h1M512 897.5h1M514 897.5h1M518 897.5h1M520 897.5h1M302 898.5h1M306 898.5h1M311 898.5h1M319 898.5h1M340 898.5h4M345 898.5h3M349 898.5h8M358 898.5h2M367 898.5h3M374 898.5h3M379 898.5h3M384 898.5h4M389 898.5h4M394 898.5h4M400 898.5h4M405 898.5h6M412 898.5h27M443 898.5h4M450 898.5h3M457 898.5h1M462 898.5h2M467 898.5h1M471 898.5h1M475 898.5h1M479 898.5h1M483 898.5h1M487 898.5h1M490 898.5h1M494 898.5h1M497 898.5h1M501 898.5h1M506 898.5h1M513 898.5h1M515 898.5h1M517 898.5h1M303 899.5h1M307 899.5h1M311 899.5h2M320 899.5h1M337 899.5h3M357 899.5h1M360 899.5h4M370 899.5h4M377 899.5h3M382 899.5h4M388 899.5h3M393 899.5h4M398 899.5h4M404 899.5h5M411 899.5h8M436 899.5h1M438 899.5h5M447 899.5h3M454 899.5h3M461 899.5h1M466 899.5h1M471 899.5h1M475 899.5h1M479 899.5h1M483 899.5h1M487 899.5h1M490 899.5h1M494 899.5h1M498 899.5h1M502 899.5h1M506 899.5h2M516 899.5h1" stroke="#000" stroke-width="1" fill="none"/>
<g transform="translate(371.9 704.5) rotate(0)"><rect x="-10" y="-6.3" width="20" height="12.6" fill="rgb(0,203,255)"/><text x="0" y="4.2" font-family='"Liberation Sans", Arial, Helvetica, sans-serif' font-size="11.8" text-anchor="middle" stroke="#000" stroke-width="0.15">0.8</text></g>
<g transform="translate(391.1 715.8) rotate(-15)"><rect x="-10" y="-6.3" width="20" height="12.6" fill="rgb(0,255,102)"/><text x="0" y="4.2" font-family='"Liberation Sans", Arial, Helvetica, sans-serif' font-size="11.8" text-anchor="middle" stroke="#000" stroke-width="0.15">0.6</text></g>
<g transform="translate(397.3 728.5) rotate(-15)"><rect x="-10" y="-6.3" width="20" height="12.6" fill="rgb(101,255,0)"/><text x="0" y="4.2" font-family='"Liberation Sans", Arial, Helvetica, sans-serif' font-size="11.8" text-anchor="middle" stroke="#000" stroke-width="0.15">0.4</text></g>
<g transform="translate(383.2 751.9) rotate(-30)"><rect x="-10" y="-6.3" width="20" height="12.6" fill="rgb(255,204,0)"/><text x="0" y="4.2" font-family='"Liberation Sans", Arial, Helvetica, sans-serif' font-size="11.8" text-anchor="middle" stroke="#000" stroke-width="0.15">0.2</text></g>
<g transform="translate(326.2 770.3) rotate(55)"><rect x="-10" y="-6.3" width="20" height="12.6" fill="rgb(0,255,102)"/><text x="0" y="4.2" font-family='"Liberation Sans", Arial, Helvetica, sans-serif' font-size="11.8" text-anchor="middle" stroke="#000" stroke-width="0.15">0.6</text></g>
<g transform="translate(354.4 766.0) rotate(-10)"><rect x="-10" y="-6.3" width="20" height="12.6" fill="rgb(101,255,0)"/><text x="0" y="4.2" font-family='"Liberation Sans", Arial, Helvetica, sans-serif' font-size="11.8" text-anchor="middle" stroke="#000" stroke-width="0.15">0.4</text></g>
<g transform="translate(421.4 762.7) rotate(-25)"><rect x="-10" y="-6.3" width="20" height="12.6" fill="rgb(0,255,102)"/><text x="0" y="4.2" font-family='"Liberation Sans", Arial, Helvetica, sans-serif' font-size="11.8" text-anchor="middle" stroke="#000" stroke-width="0.15">0.6</text></g>
<g transform="translate(428.4 775.1) rotate(-20)"><rect x="-10" y="-6.3" width="20" height="12.6" fill="rgb(0,203,255)"/><text x="0" y="4.2" font-family='"Liberation Sans", Arial, Helvetica, sans-serif' font-size="11.8" text-anchor="middle" stroke="#000" stroke-width="0.15">0.8</text></g>
<g transform="translate(335.2 809.0) rotate(-15)"><rect x="-10" y="-6.3" width="20" height="12.6" fill="rgb(0,203,255)"/><text x="0" y="4.2" font-family='"Liberation Sans", Arial, Helvetica, sans-serif' font-size="11.8" text-anchor="middle" stroke="#000" stroke-width="0.15">0.8</text></g>
<g transform="translate(328.1 830.5) rotate(-50)"><rect x="-10" y="-6.3" width="20" height="12.6" fill="rgb(0,203,255)"/><text x="0" y="4.2" font-family='"Liberation Sans", Arial, Helvetica, sans-serif' font-size="11.8" text-anchor="middle" stroke="#000" stroke-width="0.15">0.8</text></g>
<g transform="translate(425.0 815.5) rotate(0)"><rect x="-10" y="-6.3" width="20" height="12.6" fill="rgb(0,203,255)"/><text x="0" y="4.2" font-family='"Liberation Sans", Arial, Helvetica, sans-serif' font-size="11.8" text-anchor="middle" stroke="#000" stroke-width="0.15">0.8</text></g>
<g transform="translate(431.2 824.8) rotate(-10)"><rect x="-10" y="-6.3" width="20" height="12.6" fill="rgb(0,255,102)"/><text x="0" y="4.2" font-family='"Liberation Sans", Arial, Helvetica, sans-serif' font-size="11.8" text-anchor="middle" stroke="#000" stroke-width="0.15">0.6</text></g>
<g transform="translate(391.7 833.3) rotate(-10)"><rect x="-10" y="-6.3" width="20" height="12.6" fill="rgb(101,255,0)"/><text x="0" y="4.2" font-family='"Liberation Sans", Arial, Helvetica, sans-serif' font-size="11.8" text-anchor="middle" stroke="#000" stroke-width="0.15">0.4</text></g>
<g transform="translate(422.8 832.4) rotate(-5)"><rect x="-10" y="-6.3" width="20" height="12.6" fill="rgb(101,255,0)"/><text x="0" y="4.2" font-family='"Liberation Sans", Arial, Helvetica, sans-serif' font-size="11.8" text-anchor="middle" stroke="#000" stroke-width="0.15">0.4</text></g>
<g transform="translate(425.6 844.6) rotate(-20)"><rect x="-10" y="-6.3" width="20" height="12.6" fill="rgb(255,204,0)"/><text x="0" y="4.2" font-family='"Liberation Sans", Arial, Helvetica, sans-serif' font-size="11.8" text-anchor="middle" stroke="#000" stroke-width="0.15">0.2</text></g>
<g transform="translate(379.0 855.0) rotate(-50)"><rect x="-10" y="-6.3" width="20" height="12.6" fill="rgb(255,204,0)"/><text x="0" y="4.2" font-family='"Liberation Sans", Arial, Helvetica, sans-serif' font-size="11.8" text-anchor="middle" stroke="#000" stroke-width="0.15">0.2</text></g>
<g transform="translate(353.6 867.7) rotate(55)"><rect x="-10" y="-6.3" width="20" height="12.6" fill="rgb(0,255,102)"/><text x="0" y="4.2" font-family='"Liberation Sans", Arial, Helvetica, sans-serif' font-size="11.8" text-anchor="middle" stroke="#000" stroke-width="0.15">0.6</text></g>
<g transform="translate(412.0 886.1) rotate(0)"><rect x="-10" y="-6.3" width="20" height="12.6" fill="rgb(101,255,0)"/><text x="0" y="4.2" font-family='"Liberation Sans", Arial, Helvetica, sans-serif' font-size="11.8" text-anchor="middle" stroke="#000" stroke-width="0.15">0.4</text></g>
<g transform="translate(445.4 891.7) rotate(-25)"><rect x="-10" y="-6.3" width="20" height="12.6" fill="rgb(0,255,102)"/><text x="0" y="4.2" font-family='"Liberation Sans", Arial, Helvetica, sans-serif' font-size="11.8" text-anchor="middle" stroke="#000" stroke-width="0.15">0.6</text></g>
<g transform="translate(470.8 704.5) rotate(0)"><rect x="-10" y="-6.3" width="20" height="12.6" fill="rgb(0,203,255)"/><text x="0" y="4.2" font-family='"Liberation Sans", Arial, Helvetica, sans-serif' font-size="11.8" text-anchor="middle" stroke="#000" stroke-width="0.15">0.8</text></g>
<g transform="translate(513.5 718.0) rotate(-10)"><rect x="-10" y="-6.3" width="20" height="12.6" fill="rgb(0,255,102)"/><text x="0" y="4.2" font-family='"Liberation Sans", Arial, Helvetica, sans-serif' font-size="11.8" text-anchor="middle" stroke="#000" stroke-width="0.15">0.6</text></g>
<polygon points="410.5,851.0 412.0,855.3 416.5,855.3 412.9,858.1 414.2,862.4 410.5,859.8 406.8,862.4 408.1,858.1 404.5,855.3 409.0,855.3" fill="#000"/>
</g>
<rect x="300.5" y="680.3" width="220.0" height="219.70000000000005" fill="none" stroke="#000" stroke-width="2.6"/>
<line x1="300.5" y1="672" x2="300.5" y2="679" stroke="#000" stroke-width="1"/>
<line x1="300.5" y1="901" x2="300.5" y2="908" stroke="#000" stroke-width="1"/>
<text x="300.5" y="928.7" font-family='"Liberation Sans", Arial, Helvetica, sans-serif' font-size="19.3" font-weight="normal" text-anchor="middle" fill="#000" xml:space="preserve" >0.0</text>
<line x1="307.5" y1="676" x2="307.5" y2="679" stroke="#000" stroke-width="1"/>
<line x1="307.5" y1="901" x2="307.5" y2="905" stroke="#000" stroke-width="1"/>
<line x1="315.5" y1="676" x2="315.5" y2="679" stroke="#000" stroke-width="1"/>
<line x1="315.5" y1="901" x2="315.5" y2="905" stroke="#000" stroke-width="1"/>
<line x1="322.5" y1="676" x2="322.5" y2="679" stroke="#000" stroke-width="1"/>
<line x1="322.5" y1="901" x2="322.5" y2="905" stroke="#000" stroke-width="1"/>
<line x1="329.5" y1="676" x2="329.5" y2="679" stroke="#000" stroke-width="1"/>
<line x1="329.5" y1="901" x2="329.5" y2="905" stroke="#000" stroke-width="1"/>
<line x1="337.5" y1="672" x2="337.5" y2="679" stroke="#000" stroke-width="1"/>
<line x1="337.5" y1="901" x2="337.5" y2="908" stroke="#000" stroke-width="1"/>
<text x="337.1666666666667" y="928.7" font-family='"Liberation Sans", Arial, Helvetica, sans-serif' font-size="19.3" font-weight="normal" text-anchor="middle" fill="#000" xml:space="preserve" >0.5</text>
<line x1="344.5" y1="676" x2="344.5" y2="679" stroke="#000" stroke-width="1"/>
<line x1="344.5" y1="901" x2="344.5" y2="905" stroke="#000" stroke-width="1"/>
<line x1="351.5" y1="676" x2="351.5" y2="679" stroke="#000" stroke-width="1"/>
<line x1="351.5" y1="901" x2="351.5" y2="905" stroke="#000" stroke-width="1"/>
<line x1="359.5" y1="676" x2="359.5" y2="679" stroke="#000" stroke-width="1"/>
<line x1="359.5" y1="901" x2="359.5" y2="905" stroke="#000" stroke-width="1"/>
<line x1="366.5" y1="676" x2="366.5" y2="679" stroke="#000" stroke-width="1"/>
<line x1="366.5" y1="901" x2="366.5" y2="905" stroke="#000" stroke-width="1"/>
<line x1="373.5" y1="672" x2="373.5" y2="679" stroke="#000" stroke-width="1"/>
<line x1="373.5" y1="901" x2="373.5" y2="908" stroke="#000" stroke-width="1"/>
<text x="373.8333333333333" y="928.7" font-family='"Liberation Sans", Arial, Helvetica, sans-serif' font-size="19.3" font-weight="normal" text-anchor="middle" fill="#000" xml:space="preserve" >1.0</text>
<line x1="381.5" y1="676" x2="381.5" y2="679" stroke="#000" stroke-width="1"/>
<line x1="381.5" y1="901" x2="381.5" y2="905" stroke="#000" stroke-width="1"/>
<line x1="388.5" y1="676" x2="388.5" y2="679" stroke="#000" stroke-width="1"/>
<line x1="388.5" y1="901" x2="388.5" y2="905" stroke="#000" stroke-width="1"/>
<line x1="395.5" y1="676" x2="395.5" y2="679" stroke="#000" stroke-width="1"/>
<line x1="395.5" y1="901" x2="395.5" y2="905" stroke="#000" stroke-width="1"/>
<line x1="403.5" y1="676" x2="403.5" y2="679" stroke="#000" stroke-width="1"/>
<line x1="403.5" y1="901" x2="403.5" y2="905" stroke="#000" stroke-width="1"/>
<line x1="410.5" y1="672" x2="410.5" y2="679" stroke="#000" stroke-width="1"/>
<line x1="410.5" y1="901" x2="410.5" y2="908" stroke="#000" stroke-width="1"/>
<text x="410.5" y="928.7" font-family='"Liberation Sans", Arial, Helvetica, sans-serif' font-size="19.3" font-weight="normal" text-anchor="middle" fill="#000" xml:space="preserve" >1.5</text>
<line x1="417.5" y1="676" x2="417.5" y2="679" stroke="#000" stroke-width="1"/>
<line x1="417.5" y1="901" x2="417.5" y2="905" stroke="#000" stroke-width="1"/>
<line x1="425.5" y1="676" x2="425.5" y2="679" stroke="#000" stroke-width="1"/>
<line x1="425.5" y1="901" x2="425.5" y2="905" stroke="#000" stroke-width="1"/>
<line x1="432.5" y1="676" x2="432.5" y2="679" stroke="#000" stroke-width="1"/>
<line x1="432.5" y1="901" x2="432.5" y2="905" stroke="#000" stroke-width="1"/>
<line x1="439.5" y1="676" x2="439.5" y2="679" stroke="#000" stroke-width="1"/>
<line x1="439.5" y1="901" x2="439.5" y2="905" stroke="#000" stroke-width="1"/>
<line x1="447.5" y1="672" x2="447.5" y2="679" stroke="#000" stroke-width="1"/>
<line x1="447.5" y1="901" x2="447.5" y2="908" stroke="#000" stroke-width="1"/>
<text x="447.16666666666663" y="928.7" font-family='"Liberation Sans", Arial, Helvetica, sans-serif' font-size="19.3" font-weight="normal" text-anchor="middle" fill="#000" xml:space="preserve" >2.0</text>
<line x1="454.5" y1="676" x2="454.5" y2="679" stroke="#000" stroke-width="1"/>
<line x1="454.5" y1="901" x2="454.5" y2="905" stroke="#000" stroke-width="1"/>
<line x1="461.5" y1="676" x2="461.5" y2="679" stroke="#000" stroke-width="1"/>
<line x1="461.5" y1="901" x2="461.5" y2="905" stroke="#000" stroke-width="1"/>
<line x1="469.5" y1="676" x2="469.5" y2="679" stroke="#000" stroke-width="1"/>
<line x1="469.5" y1="901" x2="469.5" y2="905" stroke="#000" stroke-width="1"/>
<line x1="476.5" y1="676" x2="476.5" y2="679" stroke="#000" stroke-width="1"/>
<line x1="476.5" y1="901" x2="476.5" y2="905" stroke="#000" stroke-width="1"/>
<line x1="483.5" y1="672" x2="483.5" y2="679" stroke="#000" stroke-width="1"/>
<line x1="483.5" y1="901" x2="483.5" y2="908" stroke="#000" stroke-width="1"/>
<text x="483.83333333333337" y="928.7" font-family='"Liberation Sans", Arial, Helvetica, sans-serif' font-size="19.3" font-weight="normal" text-anchor="middle" fill="#000" xml:space="preserve" >2.5</text>
<line x1="491.5" y1="676" x2="491.5" y2="679" stroke="#000" stroke-width="1"/>
<line x1="491.5" y1="901" x2="491.5" y2="905" stroke="#000" stroke-width="1"/>
<line x1="498.5" y1="676" x2="498.5" y2="679" stroke="#000" stroke-width="1"/>
<line x1="498.5" y1="901" x2="498.5" y2="905" stroke="#000" stroke-width="1"/>
<line x1="505.5" y1="676" x2="505.5" y2="679" stroke="#000" stroke-width="1"/>
<line x1="505.5" y1="901" x2="505.5" y2="905" stroke="#000" stroke-width="1"/>
<line x1="513.5" y1="676" x2="513.5" y2="679" stroke="#000" stroke-width="1"/>
<line x1="513.5" y1="901" x2="513.5" y2="905" stroke="#000" stroke-width="1"/>
<line x1="520.5" y1="672" x2="520.5" y2="679" stroke="#000" stroke-width="1"/>
<line x1="520.5" y1="901" x2="520.5" y2="908" stroke="#000" stroke-width="1"/>
<text x="520.5" y="928.7" font-family='"Liberation Sans", Arial, Helvetica, sans-serif' font-size="19.3" font-weight="normal" text-anchor="middle" fill="#000" xml:space="preserve" >3.0</text>
<line x1="292" y1="680.5" x2="299" y2="680.5" stroke="#000" stroke-width="1"/>
<line x1="522" y1="680.5" x2="529" y2="680.5" stroke="#000" stroke-width="1"/>
<text x="284.6" y="687.1999999999999" font-family='"Liberation Sans", Arial, Helvetica, sans-serif' font-size="19.3" font-weight="normal" text-anchor="end" fill="#000" xml:space="preserve" >90</text>
<line x1="296" y1="692.5" x2="299" y2="692.5" stroke="#000" stroke-width="1"/>
<line x1="522" y1="692.5" x2="525" y2="692.5" stroke="#000" stroke-width="1"/>
<line x1="296" y1="704.5" x2="299" y2="704.5" stroke="#000" stroke-width="1"/>
<line x1="522" y1="704.5" x2="525" y2="704.5" stroke="#000" stroke-width="1"/>
<line x1="292" y1="716.5" x2="299" y2="716.5" stroke="#000" stroke-width="1"/>
<line x1="522" y1="716.5" x2="529" y2="716.5" stroke="#000" stroke-width="1"/>
<text x="284.6" y="723.8166666666666" font-family='"Liberation Sans", Arial, Helvetica, sans-serif' font-size="19.3" font-weight="normal" text-anchor="end" fill="#000" xml:space="preserve" >60</text>
<line x1="296" y1="729.5" x2="299" y2="729.5" stroke="#000" stroke-width="1"/>
<line x1="522" y1="729.5" x2="525" y2="729.5" stroke="#000" stroke-width="1"/>
<line x1="296" y1="741.5" x2="299" y2="741.5" stroke="#000" stroke-width="1"/>
<line x1="522" y1="741.5" x2="525" y2="741.5" stroke="#000" stroke-width="1"/>
<line x1="292" y1="753.5" x2="299" y2="753.5" stroke="#000" stroke-width="1"/>
<line x1="522" y1="753.5" x2="529" y2="753.5" stroke="#000" stroke-width="1"/>
<text x="284.6" y="760.4333333333333" font-family='"Liberation Sans", Arial, Helvetica, sans-serif' font-size="19.3" font-weight="normal" text-anchor="end" fill="#000" xml:space="preserve" >30</text>
<line x1="296" y1="765.5" x2="299" y2="765.5" stroke="#000" stroke-width="1"/>
<line x1="522" y1="765.5" x2="525" y2="765.5" stroke="#000" stroke-width="1"/>
<line x1="296" y1="777.5" x2="299" y2="777.5" stroke="#000" stroke-width="1"/>
<line x1="522" y1="777.5" x2="525" y2="777.5" stroke="#000" stroke-width="1"/>
<line x1="292" y1="790.5" x2="299" y2="790.5" stroke="#000" stroke-width="1"/>
<line x1="522" y1="790.5" x2="529" y2="790.5" stroke="#000" stroke-width="1"/>
<text x="284.6" y="797.05" font-family='"Liberation Sans", Arial, Helvetica, sans-serif' font-size="19.3" font-weight="normal" text-anchor="end" fill="#000" xml:space="preserve" >0</text>
<line x1="296" y1="802.5" x2="299" y2="802.5" stroke="#000" stroke-width="1"/>
<line x1="522" y1="802.5" x2="525" y2="802.5" stroke="#000" stroke-width="1"/>
<line x1="296" y1="814.5" x2="299" y2="814.5" stroke="#000" stroke-width="1"/>
<line x1="522" y1="814.5" x2="525" y2="814.5" stroke="#000" stroke-width="1"/>
<line x1="292" y1="826.5" x2="299" y2="826.5" stroke="#000" stroke-width="1"/>
<line x1="522" y1="826.5" x2="529" y2="826.5" stroke="#000" stroke-width="1"/>
<text x="284.6" y="833.6666666666666" font-family='"Liberation Sans", Arial, Helvetica, sans-serif' font-size="19.3" font-weight="normal" text-anchor="end" fill="#000" xml:space="preserve" >-30</text>
<line x1="296" y1="838.5" x2="299" y2="838.5" stroke="#000" stroke-width="1"/>
<line x1="522" y1="838.5" x2="525" y2="838.5" stroke="#000" stroke-width="1"/>
<line x1="296" y1="851.5" x2="299" y2="851.5" stroke="#000" stroke-width="1"/>
<line x1="522" y1="851.5" x2="525" y2="851.5" stroke="#000" stroke-width="1"/>
<line x1="292" y1="863.5" x2="299" y2="863.5" stroke="#000" stroke-width="1"/>
<line x1="522" y1="863.5" x2="529" y2="863.5" stroke="#000" stroke-width="1"/>
<text x="284.6" y="870.2833333333333" font-family='"Liberation Sans", Arial, Helvetica, sans-serif' font-size="19.3" font-weight="normal" text-anchor="end" fill="#000" xml:space="preserve" >-60</text>
<line x1="296" y1="875.5" x2="299" y2="875.5" stroke="#000" stroke-width="1"/>
<line x1="522" y1="875.5" x2="525" y2="875.5" stroke="#000" stroke-width="1"/>
<line x1="296" y1="887.5" x2="299" y2="887.5" stroke="#000" stroke-width="1"/>
<line x1="522" y1="887.5" x2="525" y2="887.5" stroke="#000" stroke-width="1"/>
<line x1="292" y1="900.5" x2="299" y2="900.5" stroke="#000" stroke-width="1"/>
<line x1="522" y1="900.5" x2="529" y2="900.5" stroke="#000" stroke-width="1"/>
<text x="284.6" y="906.9" font-family='"Liberation Sans", Arial, Helvetica, sans-serif' font-size="19.3" font-weight="normal" text-anchor="end" fill="#000" xml:space="preserve" >-90</text>
<text x="294" y="666.8" font-family='"Liberation Serif", "Times New Roman", Times, serif' font-size="16.43" font-weight="bold" xml:space="preserve" textLength="231.5" lengthAdjust="spacingAndGlyphs">ϕ= -55.0 +/- 3.0° δt= 1.50 +/-0.10<tspan font-style="italic">s</tspan></text>
<text x="410.5" y="955" font-family='"Liberation Serif", "Times New Roman", Times, serif' font-size="16.7" font-weight="bold" text-anchor="middle" fill="#000" xml:space="preserve" >Splitting time (s)</text>
<text transform="translate(247.3 788.6) rotate(-90)" font-family='"Liberation Serif", "Times New Roman", Times, serif' font-size="16.7" font-weight="bold" text-anchor="middle">Fast direction (degree)</text>
<text x="209" y="979.6" font-family='"Liberation Sans", Arial, Helvetica, sans-serif' font-size="19.3" font-weight="normal" text-anchor="start" fill="#000" xml:space="preserve" textLength="403" lengthAdjust="spacingAndGlyphs">Ror= 1.07; Rot= 1.86; Rct= 1.55; Rct/Rot= 0.83</text>
</svg></body></html>
